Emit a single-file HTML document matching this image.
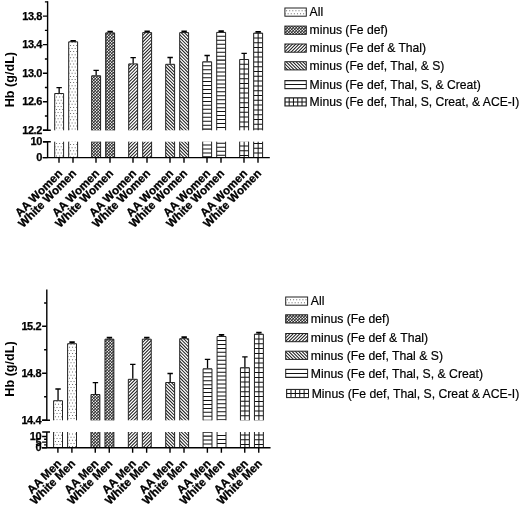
<!DOCTYPE html>
<html><head><meta charset="utf-8"><title>Hb chart</title>
<style>html,body{margin:0;padding:0;background:#fff}svg{display:block}</style></head>
<body><svg width="520" height="505" viewBox="0 0 520 505">
<rect width="520" height="505" fill="#fff"/>
<clipPath id="c1"><rect x="54.7" y="93.5" width="8.9" height="36.8"/></clipPath>
<path clip-path="url(#c1)" d="M49.85,90.4h1v1h-1zM52.95,90.4h1v1h-1zM56.05,90.4h1v1h-1zM59.15,90.4h1v1h-1zM62.25,90.4h1v1h-1zM65.35,90.4h1v1h-1zM51.4,93.5h1v1h-1zM54.5,93.5h1v1h-1zM57.6,93.5h1v1h-1zM60.7,93.5h1v1h-1zM63.8,93.5h1v1h-1zM49.85,96.6h1v1h-1zM52.95,96.6h1v1h-1zM56.05,96.6h1v1h-1zM59.15,96.6h1v1h-1zM62.25,96.6h1v1h-1zM65.35,96.6h1v1h-1zM51.4,99.7h1v1h-1zM54.5,99.7h1v1h-1zM57.6,99.7h1v1h-1zM60.7,99.7h1v1h-1zM63.8,99.7h1v1h-1zM49.85,102.8h1v1h-1zM52.95,102.8h1v1h-1zM56.05,102.8h1v1h-1zM59.15,102.8h1v1h-1zM62.25,102.8h1v1h-1zM65.35,102.8h1v1h-1zM51.4,105.9h1v1h-1zM54.5,105.9h1v1h-1zM57.6,105.9h1v1h-1zM60.7,105.9h1v1h-1zM63.8,105.9h1v1h-1zM49.85,109h1v1h-1zM52.95,109h1v1h-1zM56.05,109h1v1h-1zM59.15,109h1v1h-1zM62.25,109h1v1h-1zM65.35,109h1v1h-1zM51.4,112.1h1v1h-1zM54.5,112.1h1v1h-1zM57.6,112.1h1v1h-1zM60.7,112.1h1v1h-1zM63.8,112.1h1v1h-1zM49.85,115.2h1v1h-1zM52.95,115.2h1v1h-1zM56.05,115.2h1v1h-1zM59.15,115.2h1v1h-1zM62.25,115.2h1v1h-1zM65.35,115.2h1v1h-1zM51.4,118.3h1v1h-1zM54.5,118.3h1v1h-1zM57.6,118.3h1v1h-1zM60.7,118.3h1v1h-1zM63.8,118.3h1v1h-1zM49.85,121.4h1v1h-1zM52.95,121.4h1v1h-1zM56.05,121.4h1v1h-1zM59.15,121.4h1v1h-1zM62.25,121.4h1v1h-1zM65.35,121.4h1v1h-1zM51.4,124.5h1v1h-1zM54.5,124.5h1v1h-1zM57.6,124.5h1v1h-1zM60.7,124.5h1v1h-1zM63.8,124.5h1v1h-1zM49.85,127.6h1v1h-1zM52.95,127.6h1v1h-1zM56.05,127.6h1v1h-1zM59.15,127.6h1v1h-1zM62.25,127.6h1v1h-1zM65.35,127.6h1v1h-1zM51.4,130.7h1v1h-1zM54.5,130.7h1v1h-1zM57.6,130.7h1v1h-1zM60.7,130.7h1v1h-1zM63.8,130.7h1v1h-1z" fill="#6a6a6a"/>
<clipPath id="c2"><rect x="54.7" y="141.7" width="8.9" height="15.9"/></clipPath>
<path clip-path="url(#c2)" d="M49.85,136.9h1v1h-1zM52.95,136.9h1v1h-1zM56.05,136.9h1v1h-1zM59.15,136.9h1v1h-1zM62.25,136.9h1v1h-1zM65.35,136.9h1v1h-1zM51.4,140h1v1h-1zM54.5,140h1v1h-1zM57.6,140h1v1h-1zM60.7,140h1v1h-1zM63.8,140h1v1h-1zM49.85,143.1h1v1h-1zM52.95,143.1h1v1h-1zM56.05,143.1h1v1h-1zM59.15,143.1h1v1h-1zM62.25,143.1h1v1h-1zM65.35,143.1h1v1h-1zM51.4,146.2h1v1h-1zM54.5,146.2h1v1h-1zM57.6,146.2h1v1h-1zM60.7,146.2h1v1h-1zM63.8,146.2h1v1h-1zM49.85,149.3h1v1h-1zM52.95,149.3h1v1h-1zM56.05,149.3h1v1h-1zM59.15,149.3h1v1h-1zM62.25,149.3h1v1h-1zM65.35,149.3h1v1h-1zM51.4,152.4h1v1h-1zM54.5,152.4h1v1h-1zM57.6,152.4h1v1h-1zM60.7,152.4h1v1h-1zM63.8,152.4h1v1h-1zM49.85,155.5h1v1h-1zM52.95,155.5h1v1h-1zM56.05,155.5h1v1h-1zM59.15,155.5h1v1h-1zM62.25,155.5h1v1h-1zM65.35,155.5h1v1h-1zM51.4,158.6h1v1h-1zM54.5,158.6h1v1h-1zM57.6,158.6h1v1h-1zM60.7,158.6h1v1h-1zM63.8,158.6h1v1h-1z" fill="#6a6a6a"/>
<path d="M54.7,130.3 V93.5 H63.6 V130.3 M54.7,141.7 V157.6 M63.6,141.7 V157.6" stroke="#222" stroke-width="1" fill="none"/>
<path d="M59.15,93 V87.7 M56.45,87.7 H61.85" stroke="#000" stroke-width="1.3" fill="none"/>
<clipPath id="c3"><rect x="68.7" y="41.8" width="8.9" height="88.5"/></clipPath>
<path clip-path="url(#c3)" d="M63.85,38.7h1v1h-1zM66.95,38.7h1v1h-1zM70.05,38.7h1v1h-1zM73.15,38.7h1v1h-1zM76.25,38.7h1v1h-1zM79.35,38.7h1v1h-1zM65.4,41.8h1v1h-1zM68.5,41.8h1v1h-1zM71.6,41.8h1v1h-1zM74.7,41.8h1v1h-1zM77.8,41.8h1v1h-1zM63.85,44.9h1v1h-1zM66.95,44.9h1v1h-1zM70.05,44.9h1v1h-1zM73.15,44.9h1v1h-1zM76.25,44.9h1v1h-1zM79.35,44.9h1v1h-1zM65.4,48h1v1h-1zM68.5,48h1v1h-1zM71.6,48h1v1h-1zM74.7,48h1v1h-1zM77.8,48h1v1h-1zM63.85,51.1h1v1h-1zM66.95,51.1h1v1h-1zM70.05,51.1h1v1h-1zM73.15,51.1h1v1h-1zM76.25,51.1h1v1h-1zM79.35,51.1h1v1h-1zM65.4,54.2h1v1h-1zM68.5,54.2h1v1h-1zM71.6,54.2h1v1h-1zM74.7,54.2h1v1h-1zM77.8,54.2h1v1h-1zM63.85,57.3h1v1h-1zM66.95,57.3h1v1h-1zM70.05,57.3h1v1h-1zM73.15,57.3h1v1h-1zM76.25,57.3h1v1h-1zM79.35,57.3h1v1h-1zM65.4,60.4h1v1h-1zM68.5,60.4h1v1h-1zM71.6,60.4h1v1h-1zM74.7,60.4h1v1h-1zM77.8,60.4h1v1h-1zM63.85,63.5h1v1h-1zM66.95,63.5h1v1h-1zM70.05,63.5h1v1h-1zM73.15,63.5h1v1h-1zM76.25,63.5h1v1h-1zM79.35,63.5h1v1h-1zM65.4,66.6h1v1h-1zM68.5,66.6h1v1h-1zM71.6,66.6h1v1h-1zM74.7,66.6h1v1h-1zM77.8,66.6h1v1h-1zM63.85,69.7h1v1h-1zM66.95,69.7h1v1h-1zM70.05,69.7h1v1h-1zM73.15,69.7h1v1h-1zM76.25,69.7h1v1h-1zM79.35,69.7h1v1h-1zM65.4,72.8h1v1h-1zM68.5,72.8h1v1h-1zM71.6,72.8h1v1h-1zM74.7,72.8h1v1h-1zM77.8,72.8h1v1h-1zM63.85,75.9h1v1h-1zM66.95,75.9h1v1h-1zM70.05,75.9h1v1h-1zM73.15,75.9h1v1h-1zM76.25,75.9h1v1h-1zM79.35,75.9h1v1h-1zM65.4,79h1v1h-1zM68.5,79h1v1h-1zM71.6,79h1v1h-1zM74.7,79h1v1h-1zM77.8,79h1v1h-1zM63.85,82.1h1v1h-1zM66.95,82.1h1v1h-1zM70.05,82.1h1v1h-1zM73.15,82.1h1v1h-1zM76.25,82.1h1v1h-1zM79.35,82.1h1v1h-1zM65.4,85.2h1v1h-1zM68.5,85.2h1v1h-1zM71.6,85.2h1v1h-1zM74.7,85.2h1v1h-1zM77.8,85.2h1v1h-1zM63.85,88.3h1v1h-1zM66.95,88.3h1v1h-1zM70.05,88.3h1v1h-1zM73.15,88.3h1v1h-1zM76.25,88.3h1v1h-1zM79.35,88.3h1v1h-1zM65.4,91.4h1v1h-1zM68.5,91.4h1v1h-1zM71.6,91.4h1v1h-1zM74.7,91.4h1v1h-1zM77.8,91.4h1v1h-1zM63.85,94.5h1v1h-1zM66.95,94.5h1v1h-1zM70.05,94.5h1v1h-1zM73.15,94.5h1v1h-1zM76.25,94.5h1v1h-1zM79.35,94.5h1v1h-1zM65.4,97.6h1v1h-1zM68.5,97.6h1v1h-1zM71.6,97.6h1v1h-1zM74.7,97.6h1v1h-1zM77.8,97.6h1v1h-1zM63.85,100.7h1v1h-1zM66.95,100.7h1v1h-1zM70.05,100.7h1v1h-1zM73.15,100.7h1v1h-1zM76.25,100.7h1v1h-1zM79.35,100.7h1v1h-1zM65.4,103.8h1v1h-1zM68.5,103.8h1v1h-1zM71.6,103.8h1v1h-1zM74.7,103.8h1v1h-1zM77.8,103.8h1v1h-1zM63.85,106.9h1v1h-1zM66.95,106.9h1v1h-1zM70.05,106.9h1v1h-1zM73.15,106.9h1v1h-1zM76.25,106.9h1v1h-1zM79.35,106.9h1v1h-1zM65.4,110h1v1h-1zM68.5,110h1v1h-1zM71.6,110h1v1h-1zM74.7,110h1v1h-1zM77.8,110h1v1h-1zM63.85,113.1h1v1h-1zM66.95,113.1h1v1h-1zM70.05,113.1h1v1h-1zM73.15,113.1h1v1h-1zM76.25,113.1h1v1h-1zM79.35,113.1h1v1h-1zM65.4,116.2h1v1h-1zM68.5,116.2h1v1h-1zM71.6,116.2h1v1h-1zM74.7,116.2h1v1h-1zM77.8,116.2h1v1h-1zM63.85,119.3h1v1h-1zM66.95,119.3h1v1h-1zM70.05,119.3h1v1h-1zM73.15,119.3h1v1h-1zM76.25,119.3h1v1h-1zM79.35,119.3h1v1h-1zM65.4,122.4h1v1h-1zM68.5,122.4h1v1h-1zM71.6,122.4h1v1h-1zM74.7,122.4h1v1h-1zM77.8,122.4h1v1h-1zM63.85,125.5h1v1h-1zM66.95,125.5h1v1h-1zM70.05,125.5h1v1h-1zM73.15,125.5h1v1h-1zM76.25,125.5h1v1h-1zM79.35,125.5h1v1h-1zM65.4,128.6h1v1h-1zM68.5,128.6h1v1h-1zM71.6,128.6h1v1h-1zM74.7,128.6h1v1h-1zM77.8,128.6h1v1h-1zM63.85,131.7h1v1h-1zM66.95,131.7h1v1h-1zM70.05,131.7h1v1h-1zM73.15,131.7h1v1h-1zM76.25,131.7h1v1h-1zM79.35,131.7h1v1h-1z" fill="#6a6a6a"/>
<clipPath id="c4"><rect x="68.7" y="141.7" width="8.9" height="15.9"/></clipPath>
<path clip-path="url(#c4)" d="M63.85,137.9h1v1h-1zM66.95,137.9h1v1h-1zM70.05,137.9h1v1h-1zM73.15,137.9h1v1h-1zM76.25,137.9h1v1h-1zM79.35,137.9h1v1h-1zM65.4,141h1v1h-1zM68.5,141h1v1h-1zM71.6,141h1v1h-1zM74.7,141h1v1h-1zM77.8,141h1v1h-1zM63.85,144.1h1v1h-1zM66.95,144.1h1v1h-1zM70.05,144.1h1v1h-1zM73.15,144.1h1v1h-1zM76.25,144.1h1v1h-1zM79.35,144.1h1v1h-1zM65.4,147.2h1v1h-1zM68.5,147.2h1v1h-1zM71.6,147.2h1v1h-1zM74.7,147.2h1v1h-1zM77.8,147.2h1v1h-1zM63.85,150.3h1v1h-1zM66.95,150.3h1v1h-1zM70.05,150.3h1v1h-1zM73.15,150.3h1v1h-1zM76.25,150.3h1v1h-1zM79.35,150.3h1v1h-1zM65.4,153.4h1v1h-1zM68.5,153.4h1v1h-1zM71.6,153.4h1v1h-1zM74.7,153.4h1v1h-1zM77.8,153.4h1v1h-1zM63.85,156.5h1v1h-1zM66.95,156.5h1v1h-1zM70.05,156.5h1v1h-1zM73.15,156.5h1v1h-1zM76.25,156.5h1v1h-1zM79.35,156.5h1v1h-1zM65.4,159.6h1v1h-1zM68.5,159.6h1v1h-1zM71.6,159.6h1v1h-1zM74.7,159.6h1v1h-1zM77.8,159.6h1v1h-1z" fill="#6a6a6a"/>
<path d="M68.7,130.3 V41.8 H77.6 V130.3 M68.7,141.7 V157.6 M77.6,141.7 V157.6" stroke="#222" stroke-width="1" fill="none"/>
<path d="M73.15,41.3 V40.8 M70.45,40.8 H75.85" stroke="#000" stroke-width="1.7" fill="none"/>
<clipPath id="c5"><rect x="91.7" y="75.8" width="8.9" height="54.5"/></clipPath>
<rect x="91.7" y="75.8" width="8.9" height="54.5" fill="#0a0a0a"/>
<path clip-path="url(#c5)" d="M86.7,72.75L87.75,71.7L88.8,72.75L87.75,73.8zM89.7,72.75L90.75,71.7L91.8,72.75L90.75,73.8zM92.7,72.75L93.75,71.7L94.8,72.75L93.75,73.8zM95.7,72.75L96.75,71.7L97.8,72.75L96.75,73.8zM98.7,72.75L99.75,71.7L100.8,72.75L99.75,73.8zM101.7,72.75L102.75,71.7L103.8,72.75L102.75,73.8zM88.2,74.25L89.25,73.2L90.3,74.25L89.25,75.3zM91.2,74.25L92.25,73.2L93.3,74.25L92.25,75.3zM94.2,74.25L95.25,73.2L96.3,74.25L95.25,75.3zM97.2,74.25L98.25,73.2L99.3,74.25L98.25,75.3zM100.2,74.25L101.25,73.2L102.3,74.25L101.25,75.3zM86.7,75.75L87.75,74.7L88.8,75.75L87.75,76.8zM89.7,75.75L90.75,74.7L91.8,75.75L90.75,76.8zM92.7,75.75L93.75,74.7L94.8,75.75L93.75,76.8zM95.7,75.75L96.75,74.7L97.8,75.75L96.75,76.8zM98.7,75.75L99.75,74.7L100.8,75.75L99.75,76.8zM101.7,75.75L102.75,74.7L103.8,75.75L102.75,76.8zM88.2,77.25L89.25,76.2L90.3,77.25L89.25,78.3zM91.2,77.25L92.25,76.2L93.3,77.25L92.25,78.3zM94.2,77.25L95.25,76.2L96.3,77.25L95.25,78.3zM97.2,77.25L98.25,76.2L99.3,77.25L98.25,78.3zM100.2,77.25L101.25,76.2L102.3,77.25L101.25,78.3zM86.7,78.75L87.75,77.7L88.8,78.75L87.75,79.8zM89.7,78.75L90.75,77.7L91.8,78.75L90.75,79.8zM92.7,78.75L93.75,77.7L94.8,78.75L93.75,79.8zM95.7,78.75L96.75,77.7L97.8,78.75L96.75,79.8zM98.7,78.75L99.75,77.7L100.8,78.75L99.75,79.8zM101.7,78.75L102.75,77.7L103.8,78.75L102.75,79.8zM88.2,80.25L89.25,79.2L90.3,80.25L89.25,81.3zM91.2,80.25L92.25,79.2L93.3,80.25L92.25,81.3zM94.2,80.25L95.25,79.2L96.3,80.25L95.25,81.3zM97.2,80.25L98.25,79.2L99.3,80.25L98.25,81.3zM100.2,80.25L101.25,79.2L102.3,80.25L101.25,81.3zM86.7,81.75L87.75,80.7L88.8,81.75L87.75,82.8zM89.7,81.75L90.75,80.7L91.8,81.75L90.75,82.8zM92.7,81.75L93.75,80.7L94.8,81.75L93.75,82.8zM95.7,81.75L96.75,80.7L97.8,81.75L96.75,82.8zM98.7,81.75L99.75,80.7L100.8,81.75L99.75,82.8zM101.7,81.75L102.75,80.7L103.8,81.75L102.75,82.8zM88.2,83.25L89.25,82.2L90.3,83.25L89.25,84.3zM91.2,83.25L92.25,82.2L93.3,83.25L92.25,84.3zM94.2,83.25L95.25,82.2L96.3,83.25L95.25,84.3zM97.2,83.25L98.25,82.2L99.3,83.25L98.25,84.3zM100.2,83.25L101.25,82.2L102.3,83.25L101.25,84.3zM86.7,84.75L87.75,83.7L88.8,84.75L87.75,85.8zM89.7,84.75L90.75,83.7L91.8,84.75L90.75,85.8zM92.7,84.75L93.75,83.7L94.8,84.75L93.75,85.8zM95.7,84.75L96.75,83.7L97.8,84.75L96.75,85.8zM98.7,84.75L99.75,83.7L100.8,84.75L99.75,85.8zM101.7,84.75L102.75,83.7L103.8,84.75L102.75,85.8zM88.2,86.25L89.25,85.2L90.3,86.25L89.25,87.3zM91.2,86.25L92.25,85.2L93.3,86.25L92.25,87.3zM94.2,86.25L95.25,85.2L96.3,86.25L95.25,87.3zM97.2,86.25L98.25,85.2L99.3,86.25L98.25,87.3zM100.2,86.25L101.25,85.2L102.3,86.25L101.25,87.3zM86.7,87.75L87.75,86.7L88.8,87.75L87.75,88.8zM89.7,87.75L90.75,86.7L91.8,87.75L90.75,88.8zM92.7,87.75L93.75,86.7L94.8,87.75L93.75,88.8zM95.7,87.75L96.75,86.7L97.8,87.75L96.75,88.8zM98.7,87.75L99.75,86.7L100.8,87.75L99.75,88.8zM101.7,87.75L102.75,86.7L103.8,87.75L102.75,88.8zM88.2,89.25L89.25,88.2L90.3,89.25L89.25,90.3zM91.2,89.25L92.25,88.2L93.3,89.25L92.25,90.3zM94.2,89.25L95.25,88.2L96.3,89.25L95.25,90.3zM97.2,89.25L98.25,88.2L99.3,89.25L98.25,90.3zM100.2,89.25L101.25,88.2L102.3,89.25L101.25,90.3zM86.7,90.75L87.75,89.7L88.8,90.75L87.75,91.8zM89.7,90.75L90.75,89.7L91.8,90.75L90.75,91.8zM92.7,90.75L93.75,89.7L94.8,90.75L93.75,91.8zM95.7,90.75L96.75,89.7L97.8,90.75L96.75,91.8zM98.7,90.75L99.75,89.7L100.8,90.75L99.75,91.8zM101.7,90.75L102.75,89.7L103.8,90.75L102.75,91.8zM88.2,92.25L89.25,91.2L90.3,92.25L89.25,93.3zM91.2,92.25L92.25,91.2L93.3,92.25L92.25,93.3zM94.2,92.25L95.25,91.2L96.3,92.25L95.25,93.3zM97.2,92.25L98.25,91.2L99.3,92.25L98.25,93.3zM100.2,92.25L101.25,91.2L102.3,92.25L101.25,93.3zM86.7,93.75L87.75,92.7L88.8,93.75L87.75,94.8zM89.7,93.75L90.75,92.7L91.8,93.75L90.75,94.8zM92.7,93.75L93.75,92.7L94.8,93.75L93.75,94.8zM95.7,93.75L96.75,92.7L97.8,93.75L96.75,94.8zM98.7,93.75L99.75,92.7L100.8,93.75L99.75,94.8zM101.7,93.75L102.75,92.7L103.8,93.75L102.75,94.8zM88.2,95.25L89.25,94.2L90.3,95.25L89.25,96.3zM91.2,95.25L92.25,94.2L93.3,95.25L92.25,96.3zM94.2,95.25L95.25,94.2L96.3,95.25L95.25,96.3zM97.2,95.25L98.25,94.2L99.3,95.25L98.25,96.3zM100.2,95.25L101.25,94.2L102.3,95.25L101.25,96.3zM86.7,96.75L87.75,95.7L88.8,96.75L87.75,97.8zM89.7,96.75L90.75,95.7L91.8,96.75L90.75,97.8zM92.7,96.75L93.75,95.7L94.8,96.75L93.75,97.8zM95.7,96.75L96.75,95.7L97.8,96.75L96.75,97.8zM98.7,96.75L99.75,95.7L100.8,96.75L99.75,97.8zM101.7,96.75L102.75,95.7L103.8,96.75L102.75,97.8zM88.2,98.25L89.25,97.2L90.3,98.25L89.25,99.3zM91.2,98.25L92.25,97.2L93.3,98.25L92.25,99.3zM94.2,98.25L95.25,97.2L96.3,98.25L95.25,99.3zM97.2,98.25L98.25,97.2L99.3,98.25L98.25,99.3zM100.2,98.25L101.25,97.2L102.3,98.25L101.25,99.3zM86.7,99.75L87.75,98.7L88.8,99.75L87.75,100.8zM89.7,99.75L90.75,98.7L91.8,99.75L90.75,100.8zM92.7,99.75L93.75,98.7L94.8,99.75L93.75,100.8zM95.7,99.75L96.75,98.7L97.8,99.75L96.75,100.8zM98.7,99.75L99.75,98.7L100.8,99.75L99.75,100.8zM101.7,99.75L102.75,98.7L103.8,99.75L102.75,100.8zM88.2,101.25L89.25,100.2L90.3,101.25L89.25,102.3zM91.2,101.25L92.25,100.2L93.3,101.25L92.25,102.3zM94.2,101.25L95.25,100.2L96.3,101.25L95.25,102.3zM97.2,101.25L98.25,100.2L99.3,101.25L98.25,102.3zM100.2,101.25L101.25,100.2L102.3,101.25L101.25,102.3zM86.7,102.75L87.75,101.7L88.8,102.75L87.75,103.8zM89.7,102.75L90.75,101.7L91.8,102.75L90.75,103.8zM92.7,102.75L93.75,101.7L94.8,102.75L93.75,103.8zM95.7,102.75L96.75,101.7L97.8,102.75L96.75,103.8zM98.7,102.75L99.75,101.7L100.8,102.75L99.75,103.8zM101.7,102.75L102.75,101.7L103.8,102.75L102.75,103.8zM88.2,104.25L89.25,103.2L90.3,104.25L89.25,105.3zM91.2,104.25L92.25,103.2L93.3,104.25L92.25,105.3zM94.2,104.25L95.25,103.2L96.3,104.25L95.25,105.3zM97.2,104.25L98.25,103.2L99.3,104.25L98.25,105.3zM100.2,104.25L101.25,103.2L102.3,104.25L101.25,105.3zM86.7,105.75L87.75,104.7L88.8,105.75L87.75,106.8zM89.7,105.75L90.75,104.7L91.8,105.75L90.75,106.8zM92.7,105.75L93.75,104.7L94.8,105.75L93.75,106.8zM95.7,105.75L96.75,104.7L97.8,105.75L96.75,106.8zM98.7,105.75L99.75,104.7L100.8,105.75L99.75,106.8zM101.7,105.75L102.75,104.7L103.8,105.75L102.75,106.8zM88.2,107.25L89.25,106.2L90.3,107.25L89.25,108.3zM91.2,107.25L92.25,106.2L93.3,107.25L92.25,108.3zM94.2,107.25L95.25,106.2L96.3,107.25L95.25,108.3zM97.2,107.25L98.25,106.2L99.3,107.25L98.25,108.3zM100.2,107.25L101.25,106.2L102.3,107.25L101.25,108.3zM86.7,108.75L87.75,107.7L88.8,108.75L87.75,109.8zM89.7,108.75L90.75,107.7L91.8,108.75L90.75,109.8zM92.7,108.75L93.75,107.7L94.8,108.75L93.75,109.8zM95.7,108.75L96.75,107.7L97.8,108.75L96.75,109.8zM98.7,108.75L99.75,107.7L100.8,108.75L99.75,109.8zM101.7,108.75L102.75,107.7L103.8,108.75L102.75,109.8zM88.2,110.25L89.25,109.2L90.3,110.25L89.25,111.3zM91.2,110.25L92.25,109.2L93.3,110.25L92.25,111.3zM94.2,110.25L95.25,109.2L96.3,110.25L95.25,111.3zM97.2,110.25L98.25,109.2L99.3,110.25L98.25,111.3zM100.2,110.25L101.25,109.2L102.3,110.25L101.25,111.3zM86.7,111.75L87.75,110.7L88.8,111.75L87.75,112.8zM89.7,111.75L90.75,110.7L91.8,111.75L90.75,112.8zM92.7,111.75L93.75,110.7L94.8,111.75L93.75,112.8zM95.7,111.75L96.75,110.7L97.8,111.75L96.75,112.8zM98.7,111.75L99.75,110.7L100.8,111.75L99.75,112.8zM101.7,111.75L102.75,110.7L103.8,111.75L102.75,112.8zM88.2,113.25L89.25,112.2L90.3,113.25L89.25,114.3zM91.2,113.25L92.25,112.2L93.3,113.25L92.25,114.3zM94.2,113.25L95.25,112.2L96.3,113.25L95.25,114.3zM97.2,113.25L98.25,112.2L99.3,113.25L98.25,114.3zM100.2,113.25L101.25,112.2L102.3,113.25L101.25,114.3zM86.7,114.75L87.75,113.7L88.8,114.75L87.75,115.8zM89.7,114.75L90.75,113.7L91.8,114.75L90.75,115.8zM92.7,114.75L93.75,113.7L94.8,114.75L93.75,115.8zM95.7,114.75L96.75,113.7L97.8,114.75L96.75,115.8zM98.7,114.75L99.75,113.7L100.8,114.75L99.75,115.8zM101.7,114.75L102.75,113.7L103.8,114.75L102.75,115.8zM88.2,116.25L89.25,115.2L90.3,116.25L89.25,117.3zM91.2,116.25L92.25,115.2L93.3,116.25L92.25,117.3zM94.2,116.25L95.25,115.2L96.3,116.25L95.25,117.3zM97.2,116.25L98.25,115.2L99.3,116.25L98.25,117.3zM100.2,116.25L101.25,115.2L102.3,116.25L101.25,117.3zM86.7,117.75L87.75,116.7L88.8,117.75L87.75,118.8zM89.7,117.75L90.75,116.7L91.8,117.75L90.75,118.8zM92.7,117.75L93.75,116.7L94.8,117.75L93.75,118.8zM95.7,117.75L96.75,116.7L97.8,117.75L96.75,118.8zM98.7,117.75L99.75,116.7L100.8,117.75L99.75,118.8zM101.7,117.75L102.75,116.7L103.8,117.75L102.75,118.8zM88.2,119.25L89.25,118.2L90.3,119.25L89.25,120.3zM91.2,119.25L92.25,118.2L93.3,119.25L92.25,120.3zM94.2,119.25L95.25,118.2L96.3,119.25L95.25,120.3zM97.2,119.25L98.25,118.2L99.3,119.25L98.25,120.3zM100.2,119.25L101.25,118.2L102.3,119.25L101.25,120.3zM86.7,120.75L87.75,119.7L88.8,120.75L87.75,121.8zM89.7,120.75L90.75,119.7L91.8,120.75L90.75,121.8zM92.7,120.75L93.75,119.7L94.8,120.75L93.75,121.8zM95.7,120.75L96.75,119.7L97.8,120.75L96.75,121.8zM98.7,120.75L99.75,119.7L100.8,120.75L99.75,121.8zM101.7,120.75L102.75,119.7L103.8,120.75L102.75,121.8zM88.2,122.25L89.25,121.2L90.3,122.25L89.25,123.3zM91.2,122.25L92.25,121.2L93.3,122.25L92.25,123.3zM94.2,122.25L95.25,121.2L96.3,122.25L95.25,123.3zM97.2,122.25L98.25,121.2L99.3,122.25L98.25,123.3zM100.2,122.25L101.25,121.2L102.3,122.25L101.25,123.3zM86.7,123.75L87.75,122.7L88.8,123.75L87.75,124.8zM89.7,123.75L90.75,122.7L91.8,123.75L90.75,124.8zM92.7,123.75L93.75,122.7L94.8,123.75L93.75,124.8zM95.7,123.75L96.75,122.7L97.8,123.75L96.75,124.8zM98.7,123.75L99.75,122.7L100.8,123.75L99.75,124.8zM101.7,123.75L102.75,122.7L103.8,123.75L102.75,124.8zM88.2,125.25L89.25,124.2L90.3,125.25L89.25,126.3zM91.2,125.25L92.25,124.2L93.3,125.25L92.25,126.3zM94.2,125.25L95.25,124.2L96.3,125.25L95.25,126.3zM97.2,125.25L98.25,124.2L99.3,125.25L98.25,126.3zM100.2,125.25L101.25,124.2L102.3,125.25L101.25,126.3zM86.7,126.75L87.75,125.7L88.8,126.75L87.75,127.8zM89.7,126.75L90.75,125.7L91.8,126.75L90.75,127.8zM92.7,126.75L93.75,125.7L94.8,126.75L93.75,127.8zM95.7,126.75L96.75,125.7L97.8,126.75L96.75,127.8zM98.7,126.75L99.75,125.7L100.8,126.75L99.75,127.8zM101.7,126.75L102.75,125.7L103.8,126.75L102.75,127.8zM88.2,128.25L89.25,127.2L90.3,128.25L89.25,129.3zM91.2,128.25L92.25,127.2L93.3,128.25L92.25,129.3zM94.2,128.25L95.25,127.2L96.3,128.25L95.25,129.3zM97.2,128.25L98.25,127.2L99.3,128.25L98.25,129.3zM100.2,128.25L101.25,127.2L102.3,128.25L101.25,129.3zM86.7,129.75L87.75,128.7L88.8,129.75L87.75,130.8zM89.7,129.75L90.75,128.7L91.8,129.75L90.75,130.8zM92.7,129.75L93.75,128.7L94.8,129.75L93.75,130.8zM95.7,129.75L96.75,128.7L97.8,129.75L96.75,130.8zM98.7,129.75L99.75,128.7L100.8,129.75L99.75,130.8zM101.7,129.75L102.75,128.7L103.8,129.75L102.75,130.8zM88.2,131.25L89.25,130.2L90.3,131.25L89.25,132.3zM91.2,131.25L92.25,130.2L93.3,131.25L92.25,132.3zM94.2,131.25L95.25,130.2L96.3,131.25L95.25,132.3zM97.2,131.25L98.25,130.2L99.3,131.25L98.25,132.3zM100.2,131.25L101.25,130.2L102.3,131.25L101.25,132.3zM86.7,132.75L87.75,131.7L88.8,132.75L87.75,133.8zM89.7,132.75L90.75,131.7L91.8,132.75L90.75,133.8zM92.7,132.75L93.75,131.7L94.8,132.75L93.75,133.8zM95.7,132.75L96.75,131.7L97.8,132.75L96.75,133.8zM98.7,132.75L99.75,131.7L100.8,132.75L99.75,133.8zM101.7,132.75L102.75,131.7L103.8,132.75L102.75,133.8z" fill="#fff"/>
<clipPath id="c6"><rect x="91.7" y="141.7" width="8.9" height="15.9"/></clipPath>
<rect x="91.7" y="141.7" width="8.9" height="15.9" fill="#0a0a0a"/>
<path clip-path="url(#c6)" d="M86.7,135.75L87.75,134.7L88.8,135.75L87.75,136.8zM89.7,135.75L90.75,134.7L91.8,135.75L90.75,136.8zM92.7,135.75L93.75,134.7L94.8,135.75L93.75,136.8zM95.7,135.75L96.75,134.7L97.8,135.75L96.75,136.8zM98.7,135.75L99.75,134.7L100.8,135.75L99.75,136.8zM101.7,135.75L102.75,134.7L103.8,135.75L102.75,136.8zM88.2,137.25L89.25,136.2L90.3,137.25L89.25,138.3zM91.2,137.25L92.25,136.2L93.3,137.25L92.25,138.3zM94.2,137.25L95.25,136.2L96.3,137.25L95.25,138.3zM97.2,137.25L98.25,136.2L99.3,137.25L98.25,138.3zM100.2,137.25L101.25,136.2L102.3,137.25L101.25,138.3zM86.7,138.75L87.75,137.7L88.8,138.75L87.75,139.8zM89.7,138.75L90.75,137.7L91.8,138.75L90.75,139.8zM92.7,138.75L93.75,137.7L94.8,138.75L93.75,139.8zM95.7,138.75L96.75,137.7L97.8,138.75L96.75,139.8zM98.7,138.75L99.75,137.7L100.8,138.75L99.75,139.8zM101.7,138.75L102.75,137.7L103.8,138.75L102.75,139.8zM88.2,140.25L89.25,139.2L90.3,140.25L89.25,141.3zM91.2,140.25L92.25,139.2L93.3,140.25L92.25,141.3zM94.2,140.25L95.25,139.2L96.3,140.25L95.25,141.3zM97.2,140.25L98.25,139.2L99.3,140.25L98.25,141.3zM100.2,140.25L101.25,139.2L102.3,140.25L101.25,141.3zM86.7,141.75L87.75,140.7L88.8,141.75L87.75,142.8zM89.7,141.75L90.75,140.7L91.8,141.75L90.75,142.8zM92.7,141.75L93.75,140.7L94.8,141.75L93.75,142.8zM95.7,141.75L96.75,140.7L97.8,141.75L96.75,142.8zM98.7,141.75L99.75,140.7L100.8,141.75L99.75,142.8zM101.7,141.75L102.75,140.7L103.8,141.75L102.75,142.8zM88.2,143.25L89.25,142.2L90.3,143.25L89.25,144.3zM91.2,143.25L92.25,142.2L93.3,143.25L92.25,144.3zM94.2,143.25L95.25,142.2L96.3,143.25L95.25,144.3zM97.2,143.25L98.25,142.2L99.3,143.25L98.25,144.3zM100.2,143.25L101.25,142.2L102.3,143.25L101.25,144.3zM86.7,144.75L87.75,143.7L88.8,144.75L87.75,145.8zM89.7,144.75L90.75,143.7L91.8,144.75L90.75,145.8zM92.7,144.75L93.75,143.7L94.8,144.75L93.75,145.8zM95.7,144.75L96.75,143.7L97.8,144.75L96.75,145.8zM98.7,144.75L99.75,143.7L100.8,144.75L99.75,145.8zM101.7,144.75L102.75,143.7L103.8,144.75L102.75,145.8zM88.2,146.25L89.25,145.2L90.3,146.25L89.25,147.3zM91.2,146.25L92.25,145.2L93.3,146.25L92.25,147.3zM94.2,146.25L95.25,145.2L96.3,146.25L95.25,147.3zM97.2,146.25L98.25,145.2L99.3,146.25L98.25,147.3zM100.2,146.25L101.25,145.2L102.3,146.25L101.25,147.3zM86.7,147.75L87.75,146.7L88.8,147.75L87.75,148.8zM89.7,147.75L90.75,146.7L91.8,147.75L90.75,148.8zM92.7,147.75L93.75,146.7L94.8,147.75L93.75,148.8zM95.7,147.75L96.75,146.7L97.8,147.75L96.75,148.8zM98.7,147.75L99.75,146.7L100.8,147.75L99.75,148.8zM101.7,147.75L102.75,146.7L103.8,147.75L102.75,148.8zM88.2,149.25L89.25,148.2L90.3,149.25L89.25,150.3zM91.2,149.25L92.25,148.2L93.3,149.25L92.25,150.3zM94.2,149.25L95.25,148.2L96.3,149.25L95.25,150.3zM97.2,149.25L98.25,148.2L99.3,149.25L98.25,150.3zM100.2,149.25L101.25,148.2L102.3,149.25L101.25,150.3zM86.7,150.75L87.75,149.7L88.8,150.75L87.75,151.8zM89.7,150.75L90.75,149.7L91.8,150.75L90.75,151.8zM92.7,150.75L93.75,149.7L94.8,150.75L93.75,151.8zM95.7,150.75L96.75,149.7L97.8,150.75L96.75,151.8zM98.7,150.75L99.75,149.7L100.8,150.75L99.75,151.8zM101.7,150.75L102.75,149.7L103.8,150.75L102.75,151.8zM88.2,152.25L89.25,151.2L90.3,152.25L89.25,153.3zM91.2,152.25L92.25,151.2L93.3,152.25L92.25,153.3zM94.2,152.25L95.25,151.2L96.3,152.25L95.25,153.3zM97.2,152.25L98.25,151.2L99.3,152.25L98.25,153.3zM100.2,152.25L101.25,151.2L102.3,152.25L101.25,153.3zM86.7,153.75L87.75,152.7L88.8,153.75L87.75,154.8zM89.7,153.75L90.75,152.7L91.8,153.75L90.75,154.8zM92.7,153.75L93.75,152.7L94.8,153.75L93.75,154.8zM95.7,153.75L96.75,152.7L97.8,153.75L96.75,154.8zM98.7,153.75L99.75,152.7L100.8,153.75L99.75,154.8zM101.7,153.75L102.75,152.7L103.8,153.75L102.75,154.8zM88.2,155.25L89.25,154.2L90.3,155.25L89.25,156.3zM91.2,155.25L92.25,154.2L93.3,155.25L92.25,156.3zM94.2,155.25L95.25,154.2L96.3,155.25L95.25,156.3zM97.2,155.25L98.25,154.2L99.3,155.25L98.25,156.3zM100.2,155.25L101.25,154.2L102.3,155.25L101.25,156.3zM86.7,156.75L87.75,155.7L88.8,156.75L87.75,157.8zM89.7,156.75L90.75,155.7L91.8,156.75L90.75,157.8zM92.7,156.75L93.75,155.7L94.8,156.75L93.75,157.8zM95.7,156.75L96.75,155.7L97.8,156.75L96.75,157.8zM98.7,156.75L99.75,155.7L100.8,156.75L99.75,157.8zM101.7,156.75L102.75,155.7L103.8,156.75L102.75,157.8zM88.2,158.25L89.25,157.2L90.3,158.25L89.25,159.3zM91.2,158.25L92.25,157.2L93.3,158.25L92.25,159.3zM94.2,158.25L95.25,157.2L96.3,158.25L95.25,159.3zM97.2,158.25L98.25,157.2L99.3,158.25L98.25,159.3zM100.2,158.25L101.25,157.2L102.3,158.25L101.25,159.3zM86.7,159.75L87.75,158.7L88.8,159.75L87.75,160.8zM89.7,159.75L90.75,158.7L91.8,159.75L90.75,160.8zM92.7,159.75L93.75,158.7L94.8,159.75L93.75,160.8zM95.7,159.75L96.75,158.7L97.8,159.75L96.75,160.8zM98.7,159.75L99.75,158.7L100.8,159.75L99.75,160.8zM101.7,159.75L102.75,158.7L103.8,159.75L102.75,160.8z" fill="#fff"/>
<path d="M91.7,130.3 V75.8 H100.6 V130.3 M91.7,141.7 V157.6 M100.6,141.7 V157.6" stroke="#222" stroke-width="1" fill="none"/>
<path d="M96.15,75.3 V70.4 M93.45,70.4 H98.85" stroke="#000" stroke-width="1.3" fill="none"/>
<clipPath id="c7"><rect x="105.7" y="32.9" width="8.9" height="97.4"/></clipPath>
<rect x="105.7" y="32.9" width="8.9" height="97.4" fill="#0a0a0a"/>
<path clip-path="url(#c7)" d="M98.7,27.75L99.75,26.7L100.8,27.75L99.75,28.8zM101.7,27.75L102.75,26.7L103.8,27.75L102.75,28.8zM104.7,27.75L105.75,26.7L106.8,27.75L105.75,28.8zM107.7,27.75L108.75,26.7L109.8,27.75L108.75,28.8zM110.7,27.75L111.75,26.7L112.8,27.75L111.75,28.8zM113.7,27.75L114.75,26.7L115.8,27.75L114.75,28.8zM100.2,29.25L101.25,28.2L102.3,29.25L101.25,30.3zM103.2,29.25L104.25,28.2L105.3,29.25L104.25,30.3zM106.2,29.25L107.25,28.2L108.3,29.25L107.25,30.3zM109.2,29.25L110.25,28.2L111.3,29.25L110.25,30.3zM112.2,29.25L113.25,28.2L114.3,29.25L113.25,30.3zM115.2,29.25L116.25,28.2L117.3,29.25L116.25,30.3zM98.7,30.75L99.75,29.7L100.8,30.75L99.75,31.8zM101.7,30.75L102.75,29.7L103.8,30.75L102.75,31.8zM104.7,30.75L105.75,29.7L106.8,30.75L105.75,31.8zM107.7,30.75L108.75,29.7L109.8,30.75L108.75,31.8zM110.7,30.75L111.75,29.7L112.8,30.75L111.75,31.8zM113.7,30.75L114.75,29.7L115.8,30.75L114.75,31.8zM100.2,32.25L101.25,31.2L102.3,32.25L101.25,33.3zM103.2,32.25L104.25,31.2L105.3,32.25L104.25,33.3zM106.2,32.25L107.25,31.2L108.3,32.25L107.25,33.3zM109.2,32.25L110.25,31.2L111.3,32.25L110.25,33.3zM112.2,32.25L113.25,31.2L114.3,32.25L113.25,33.3zM115.2,32.25L116.25,31.2L117.3,32.25L116.25,33.3zM98.7,33.75L99.75,32.7L100.8,33.75L99.75,34.8zM101.7,33.75L102.75,32.7L103.8,33.75L102.75,34.8zM104.7,33.75L105.75,32.7L106.8,33.75L105.75,34.8zM107.7,33.75L108.75,32.7L109.8,33.75L108.75,34.8zM110.7,33.75L111.75,32.7L112.8,33.75L111.75,34.8zM113.7,33.75L114.75,32.7L115.8,33.75L114.75,34.8zM100.2,35.25L101.25,34.2L102.3,35.25L101.25,36.3zM103.2,35.25L104.25,34.2L105.3,35.25L104.25,36.3zM106.2,35.25L107.25,34.2L108.3,35.25L107.25,36.3zM109.2,35.25L110.25,34.2L111.3,35.25L110.25,36.3zM112.2,35.25L113.25,34.2L114.3,35.25L113.25,36.3zM115.2,35.25L116.25,34.2L117.3,35.25L116.25,36.3zM98.7,36.75L99.75,35.7L100.8,36.75L99.75,37.8zM101.7,36.75L102.75,35.7L103.8,36.75L102.75,37.8zM104.7,36.75L105.75,35.7L106.8,36.75L105.75,37.8zM107.7,36.75L108.75,35.7L109.8,36.75L108.75,37.8zM110.7,36.75L111.75,35.7L112.8,36.75L111.75,37.8zM113.7,36.75L114.75,35.7L115.8,36.75L114.75,37.8zM100.2,38.25L101.25,37.2L102.3,38.25L101.25,39.3zM103.2,38.25L104.25,37.2L105.3,38.25L104.25,39.3zM106.2,38.25L107.25,37.2L108.3,38.25L107.25,39.3zM109.2,38.25L110.25,37.2L111.3,38.25L110.25,39.3zM112.2,38.25L113.25,37.2L114.3,38.25L113.25,39.3zM115.2,38.25L116.25,37.2L117.3,38.25L116.25,39.3zM98.7,39.75L99.75,38.7L100.8,39.75L99.75,40.8zM101.7,39.75L102.75,38.7L103.8,39.75L102.75,40.8zM104.7,39.75L105.75,38.7L106.8,39.75L105.75,40.8zM107.7,39.75L108.75,38.7L109.8,39.75L108.75,40.8zM110.7,39.75L111.75,38.7L112.8,39.75L111.75,40.8zM113.7,39.75L114.75,38.7L115.8,39.75L114.75,40.8zM100.2,41.25L101.25,40.2L102.3,41.25L101.25,42.3zM103.2,41.25L104.25,40.2L105.3,41.25L104.25,42.3zM106.2,41.25L107.25,40.2L108.3,41.25L107.25,42.3zM109.2,41.25L110.25,40.2L111.3,41.25L110.25,42.3zM112.2,41.25L113.25,40.2L114.3,41.25L113.25,42.3zM115.2,41.25L116.25,40.2L117.3,41.25L116.25,42.3zM98.7,42.75L99.75,41.7L100.8,42.75L99.75,43.8zM101.7,42.75L102.75,41.7L103.8,42.75L102.75,43.8zM104.7,42.75L105.75,41.7L106.8,42.75L105.75,43.8zM107.7,42.75L108.75,41.7L109.8,42.75L108.75,43.8zM110.7,42.75L111.75,41.7L112.8,42.75L111.75,43.8zM113.7,42.75L114.75,41.7L115.8,42.75L114.75,43.8zM100.2,44.25L101.25,43.2L102.3,44.25L101.25,45.3zM103.2,44.25L104.25,43.2L105.3,44.25L104.25,45.3zM106.2,44.25L107.25,43.2L108.3,44.25L107.25,45.3zM109.2,44.25L110.25,43.2L111.3,44.25L110.25,45.3zM112.2,44.25L113.25,43.2L114.3,44.25L113.25,45.3zM115.2,44.25L116.25,43.2L117.3,44.25L116.25,45.3zM98.7,45.75L99.75,44.7L100.8,45.75L99.75,46.8zM101.7,45.75L102.75,44.7L103.8,45.75L102.75,46.8zM104.7,45.75L105.75,44.7L106.8,45.75L105.75,46.8zM107.7,45.75L108.75,44.7L109.8,45.75L108.75,46.8zM110.7,45.75L111.75,44.7L112.8,45.75L111.75,46.8zM113.7,45.75L114.75,44.7L115.8,45.75L114.75,46.8zM100.2,47.25L101.25,46.2L102.3,47.25L101.25,48.3zM103.2,47.25L104.25,46.2L105.3,47.25L104.25,48.3zM106.2,47.25L107.25,46.2L108.3,47.25L107.25,48.3zM109.2,47.25L110.25,46.2L111.3,47.25L110.25,48.3zM112.2,47.25L113.25,46.2L114.3,47.25L113.25,48.3zM115.2,47.25L116.25,46.2L117.3,47.25L116.25,48.3zM98.7,48.75L99.75,47.7L100.8,48.75L99.75,49.8zM101.7,48.75L102.75,47.7L103.8,48.75L102.75,49.8zM104.7,48.75L105.75,47.7L106.8,48.75L105.75,49.8zM107.7,48.75L108.75,47.7L109.8,48.75L108.75,49.8zM110.7,48.75L111.75,47.7L112.8,48.75L111.75,49.8zM113.7,48.75L114.75,47.7L115.8,48.75L114.75,49.8zM100.2,50.25L101.25,49.2L102.3,50.25L101.25,51.3zM103.2,50.25L104.25,49.2L105.3,50.25L104.25,51.3zM106.2,50.25L107.25,49.2L108.3,50.25L107.25,51.3zM109.2,50.25L110.25,49.2L111.3,50.25L110.25,51.3zM112.2,50.25L113.25,49.2L114.3,50.25L113.25,51.3zM115.2,50.25L116.25,49.2L117.3,50.25L116.25,51.3zM98.7,51.75L99.75,50.7L100.8,51.75L99.75,52.8zM101.7,51.75L102.75,50.7L103.8,51.75L102.75,52.8zM104.7,51.75L105.75,50.7L106.8,51.75L105.75,52.8zM107.7,51.75L108.75,50.7L109.8,51.75L108.75,52.8zM110.7,51.75L111.75,50.7L112.8,51.75L111.75,52.8zM113.7,51.75L114.75,50.7L115.8,51.75L114.75,52.8zM100.2,53.25L101.25,52.2L102.3,53.25L101.25,54.3zM103.2,53.25L104.25,52.2L105.3,53.25L104.25,54.3zM106.2,53.25L107.25,52.2L108.3,53.25L107.25,54.3zM109.2,53.25L110.25,52.2L111.3,53.25L110.25,54.3zM112.2,53.25L113.25,52.2L114.3,53.25L113.25,54.3zM115.2,53.25L116.25,52.2L117.3,53.25L116.25,54.3zM98.7,54.75L99.75,53.7L100.8,54.75L99.75,55.8zM101.7,54.75L102.75,53.7L103.8,54.75L102.75,55.8zM104.7,54.75L105.75,53.7L106.8,54.75L105.75,55.8zM107.7,54.75L108.75,53.7L109.8,54.75L108.75,55.8zM110.7,54.75L111.75,53.7L112.8,54.75L111.75,55.8zM113.7,54.75L114.75,53.7L115.8,54.75L114.75,55.8zM100.2,56.25L101.25,55.2L102.3,56.25L101.25,57.3zM103.2,56.25L104.25,55.2L105.3,56.25L104.25,57.3zM106.2,56.25L107.25,55.2L108.3,56.25L107.25,57.3zM109.2,56.25L110.25,55.2L111.3,56.25L110.25,57.3zM112.2,56.25L113.25,55.2L114.3,56.25L113.25,57.3zM115.2,56.25L116.25,55.2L117.3,56.25L116.25,57.3zM98.7,57.75L99.75,56.7L100.8,57.75L99.75,58.8zM101.7,57.75L102.75,56.7L103.8,57.75L102.75,58.8zM104.7,57.75L105.75,56.7L106.8,57.75L105.75,58.8zM107.7,57.75L108.75,56.7L109.8,57.75L108.75,58.8zM110.7,57.75L111.75,56.7L112.8,57.75L111.75,58.8zM113.7,57.75L114.75,56.7L115.8,57.75L114.75,58.8zM100.2,59.25L101.25,58.2L102.3,59.25L101.25,60.3zM103.2,59.25L104.25,58.2L105.3,59.25L104.25,60.3zM106.2,59.25L107.25,58.2L108.3,59.25L107.25,60.3zM109.2,59.25L110.25,58.2L111.3,59.25L110.25,60.3zM112.2,59.25L113.25,58.2L114.3,59.25L113.25,60.3zM115.2,59.25L116.25,58.2L117.3,59.25L116.25,60.3zM98.7,60.75L99.75,59.7L100.8,60.75L99.75,61.8zM101.7,60.75L102.75,59.7L103.8,60.75L102.75,61.8zM104.7,60.75L105.75,59.7L106.8,60.75L105.75,61.8zM107.7,60.75L108.75,59.7L109.8,60.75L108.75,61.8zM110.7,60.75L111.75,59.7L112.8,60.75L111.75,61.8zM113.7,60.75L114.75,59.7L115.8,60.75L114.75,61.8zM100.2,62.25L101.25,61.2L102.3,62.25L101.25,63.3zM103.2,62.25L104.25,61.2L105.3,62.25L104.25,63.3zM106.2,62.25L107.25,61.2L108.3,62.25L107.25,63.3zM109.2,62.25L110.25,61.2L111.3,62.25L110.25,63.3zM112.2,62.25L113.25,61.2L114.3,62.25L113.25,63.3zM115.2,62.25L116.25,61.2L117.3,62.25L116.25,63.3zM98.7,63.75L99.75,62.7L100.8,63.75L99.75,64.8zM101.7,63.75L102.75,62.7L103.8,63.75L102.75,64.8zM104.7,63.75L105.75,62.7L106.8,63.75L105.75,64.8zM107.7,63.75L108.75,62.7L109.8,63.75L108.75,64.8zM110.7,63.75L111.75,62.7L112.8,63.75L111.75,64.8zM113.7,63.75L114.75,62.7L115.8,63.75L114.75,64.8zM100.2,65.25L101.25,64.2L102.3,65.25L101.25,66.3zM103.2,65.25L104.25,64.2L105.3,65.25L104.25,66.3zM106.2,65.25L107.25,64.2L108.3,65.25L107.25,66.3zM109.2,65.25L110.25,64.2L111.3,65.25L110.25,66.3zM112.2,65.25L113.25,64.2L114.3,65.25L113.25,66.3zM115.2,65.25L116.25,64.2L117.3,65.25L116.25,66.3zM98.7,66.75L99.75,65.7L100.8,66.75L99.75,67.8zM101.7,66.75L102.75,65.7L103.8,66.75L102.75,67.8zM104.7,66.75L105.75,65.7L106.8,66.75L105.75,67.8zM107.7,66.75L108.75,65.7L109.8,66.75L108.75,67.8zM110.7,66.75L111.75,65.7L112.8,66.75L111.75,67.8zM113.7,66.75L114.75,65.7L115.8,66.75L114.75,67.8zM100.2,68.25L101.25,67.2L102.3,68.25L101.25,69.3zM103.2,68.25L104.25,67.2L105.3,68.25L104.25,69.3zM106.2,68.25L107.25,67.2L108.3,68.25L107.25,69.3zM109.2,68.25L110.25,67.2L111.3,68.25L110.25,69.3zM112.2,68.25L113.25,67.2L114.3,68.25L113.25,69.3zM115.2,68.25L116.25,67.2L117.3,68.25L116.25,69.3zM98.7,69.75L99.75,68.7L100.8,69.75L99.75,70.8zM101.7,69.75L102.75,68.7L103.8,69.75L102.75,70.8zM104.7,69.75L105.75,68.7L106.8,69.75L105.75,70.8zM107.7,69.75L108.75,68.7L109.8,69.75L108.75,70.8zM110.7,69.75L111.75,68.7L112.8,69.75L111.75,70.8zM113.7,69.75L114.75,68.7L115.8,69.75L114.75,70.8zM100.2,71.25L101.25,70.2L102.3,71.25L101.25,72.3zM103.2,71.25L104.25,70.2L105.3,71.25L104.25,72.3zM106.2,71.25L107.25,70.2L108.3,71.25L107.25,72.3zM109.2,71.25L110.25,70.2L111.3,71.25L110.25,72.3zM112.2,71.25L113.25,70.2L114.3,71.25L113.25,72.3zM115.2,71.25L116.25,70.2L117.3,71.25L116.25,72.3zM98.7,72.75L99.75,71.7L100.8,72.75L99.75,73.8zM101.7,72.75L102.75,71.7L103.8,72.75L102.75,73.8zM104.7,72.75L105.75,71.7L106.8,72.75L105.75,73.8zM107.7,72.75L108.75,71.7L109.8,72.75L108.75,73.8zM110.7,72.75L111.75,71.7L112.8,72.75L111.75,73.8zM113.7,72.75L114.75,71.7L115.8,72.75L114.75,73.8zM100.2,74.25L101.25,73.2L102.3,74.25L101.25,75.3zM103.2,74.25L104.25,73.2L105.3,74.25L104.25,75.3zM106.2,74.25L107.25,73.2L108.3,74.25L107.25,75.3zM109.2,74.25L110.25,73.2L111.3,74.25L110.25,75.3zM112.2,74.25L113.25,73.2L114.3,74.25L113.25,75.3zM115.2,74.25L116.25,73.2L117.3,74.25L116.25,75.3zM98.7,75.75L99.75,74.7L100.8,75.75L99.75,76.8zM101.7,75.75L102.75,74.7L103.8,75.75L102.75,76.8zM104.7,75.75L105.75,74.7L106.8,75.75L105.75,76.8zM107.7,75.75L108.75,74.7L109.8,75.75L108.75,76.8zM110.7,75.75L111.75,74.7L112.8,75.75L111.75,76.8zM113.7,75.75L114.75,74.7L115.8,75.75L114.75,76.8zM100.2,77.25L101.25,76.2L102.3,77.25L101.25,78.3zM103.2,77.25L104.25,76.2L105.3,77.25L104.25,78.3zM106.2,77.25L107.25,76.2L108.3,77.25L107.25,78.3zM109.2,77.25L110.25,76.2L111.3,77.25L110.25,78.3zM112.2,77.25L113.25,76.2L114.3,77.25L113.25,78.3zM115.2,77.25L116.25,76.2L117.3,77.25L116.25,78.3zM98.7,78.75L99.75,77.7L100.8,78.75L99.75,79.8zM101.7,78.75L102.75,77.7L103.8,78.75L102.75,79.8zM104.7,78.75L105.75,77.7L106.8,78.75L105.75,79.8zM107.7,78.75L108.75,77.7L109.8,78.75L108.75,79.8zM110.7,78.75L111.75,77.7L112.8,78.75L111.75,79.8zM113.7,78.75L114.75,77.7L115.8,78.75L114.75,79.8zM100.2,80.25L101.25,79.2L102.3,80.25L101.25,81.3zM103.2,80.25L104.25,79.2L105.3,80.25L104.25,81.3zM106.2,80.25L107.25,79.2L108.3,80.25L107.25,81.3zM109.2,80.25L110.25,79.2L111.3,80.25L110.25,81.3zM112.2,80.25L113.25,79.2L114.3,80.25L113.25,81.3zM115.2,80.25L116.25,79.2L117.3,80.25L116.25,81.3zM98.7,81.75L99.75,80.7L100.8,81.75L99.75,82.8zM101.7,81.75L102.75,80.7L103.8,81.75L102.75,82.8zM104.7,81.75L105.75,80.7L106.8,81.75L105.75,82.8zM107.7,81.75L108.75,80.7L109.8,81.75L108.75,82.8zM110.7,81.75L111.75,80.7L112.8,81.75L111.75,82.8zM113.7,81.75L114.75,80.7L115.8,81.75L114.75,82.8zM100.2,83.25L101.25,82.2L102.3,83.25L101.25,84.3zM103.2,83.25L104.25,82.2L105.3,83.25L104.25,84.3zM106.2,83.25L107.25,82.2L108.3,83.25L107.25,84.3zM109.2,83.25L110.25,82.2L111.3,83.25L110.25,84.3zM112.2,83.25L113.25,82.2L114.3,83.25L113.25,84.3zM115.2,83.25L116.25,82.2L117.3,83.25L116.25,84.3zM98.7,84.75L99.75,83.7L100.8,84.75L99.75,85.8zM101.7,84.75L102.75,83.7L103.8,84.75L102.75,85.8zM104.7,84.75L105.75,83.7L106.8,84.75L105.75,85.8zM107.7,84.75L108.75,83.7L109.8,84.75L108.75,85.8zM110.7,84.75L111.75,83.7L112.8,84.75L111.75,85.8zM113.7,84.75L114.75,83.7L115.8,84.75L114.75,85.8zM100.2,86.25L101.25,85.2L102.3,86.25L101.25,87.3zM103.2,86.25L104.25,85.2L105.3,86.25L104.25,87.3zM106.2,86.25L107.25,85.2L108.3,86.25L107.25,87.3zM109.2,86.25L110.25,85.2L111.3,86.25L110.25,87.3zM112.2,86.25L113.25,85.2L114.3,86.25L113.25,87.3zM115.2,86.25L116.25,85.2L117.3,86.25L116.25,87.3zM98.7,87.75L99.75,86.7L100.8,87.75L99.75,88.8zM101.7,87.75L102.75,86.7L103.8,87.75L102.75,88.8zM104.7,87.75L105.75,86.7L106.8,87.75L105.75,88.8zM107.7,87.75L108.75,86.7L109.8,87.75L108.75,88.8zM110.7,87.75L111.75,86.7L112.8,87.75L111.75,88.8zM113.7,87.75L114.75,86.7L115.8,87.75L114.75,88.8zM100.2,89.25L101.25,88.2L102.3,89.25L101.25,90.3zM103.2,89.25L104.25,88.2L105.3,89.25L104.25,90.3zM106.2,89.25L107.25,88.2L108.3,89.25L107.25,90.3zM109.2,89.25L110.25,88.2L111.3,89.25L110.25,90.3zM112.2,89.25L113.25,88.2L114.3,89.25L113.25,90.3zM115.2,89.25L116.25,88.2L117.3,89.25L116.25,90.3zM98.7,90.75L99.75,89.7L100.8,90.75L99.75,91.8zM101.7,90.75L102.75,89.7L103.8,90.75L102.75,91.8zM104.7,90.75L105.75,89.7L106.8,90.75L105.75,91.8zM107.7,90.75L108.75,89.7L109.8,90.75L108.75,91.8zM110.7,90.75L111.75,89.7L112.8,90.75L111.75,91.8zM113.7,90.75L114.75,89.7L115.8,90.75L114.75,91.8zM100.2,92.25L101.25,91.2L102.3,92.25L101.25,93.3zM103.2,92.25L104.25,91.2L105.3,92.25L104.25,93.3zM106.2,92.25L107.25,91.2L108.3,92.25L107.25,93.3zM109.2,92.25L110.25,91.2L111.3,92.25L110.25,93.3zM112.2,92.25L113.25,91.2L114.3,92.25L113.25,93.3zM115.2,92.25L116.25,91.2L117.3,92.25L116.25,93.3zM98.7,93.75L99.75,92.7L100.8,93.75L99.75,94.8zM101.7,93.75L102.75,92.7L103.8,93.75L102.75,94.8zM104.7,93.75L105.75,92.7L106.8,93.75L105.75,94.8zM107.7,93.75L108.75,92.7L109.8,93.75L108.75,94.8zM110.7,93.75L111.75,92.7L112.8,93.75L111.75,94.8zM113.7,93.75L114.75,92.7L115.8,93.75L114.75,94.8zM100.2,95.25L101.25,94.2L102.3,95.25L101.25,96.3zM103.2,95.25L104.25,94.2L105.3,95.25L104.25,96.3zM106.2,95.25L107.25,94.2L108.3,95.25L107.25,96.3zM109.2,95.25L110.25,94.2L111.3,95.25L110.25,96.3zM112.2,95.25L113.25,94.2L114.3,95.25L113.25,96.3zM115.2,95.25L116.25,94.2L117.3,95.25L116.25,96.3zM98.7,96.75L99.75,95.7L100.8,96.75L99.75,97.8zM101.7,96.75L102.75,95.7L103.8,96.75L102.75,97.8zM104.7,96.75L105.75,95.7L106.8,96.75L105.75,97.8zM107.7,96.75L108.75,95.7L109.8,96.75L108.75,97.8zM110.7,96.75L111.75,95.7L112.8,96.75L111.75,97.8zM113.7,96.75L114.75,95.7L115.8,96.75L114.75,97.8zM100.2,98.25L101.25,97.2L102.3,98.25L101.25,99.3zM103.2,98.25L104.25,97.2L105.3,98.25L104.25,99.3zM106.2,98.25L107.25,97.2L108.3,98.25L107.25,99.3zM109.2,98.25L110.25,97.2L111.3,98.25L110.25,99.3zM112.2,98.25L113.25,97.2L114.3,98.25L113.25,99.3zM115.2,98.25L116.25,97.2L117.3,98.25L116.25,99.3zM98.7,99.75L99.75,98.7L100.8,99.75L99.75,100.8zM101.7,99.75L102.75,98.7L103.8,99.75L102.75,100.8zM104.7,99.75L105.75,98.7L106.8,99.75L105.75,100.8zM107.7,99.75L108.75,98.7L109.8,99.75L108.75,100.8zM110.7,99.75L111.75,98.7L112.8,99.75L111.75,100.8zM113.7,99.75L114.75,98.7L115.8,99.75L114.75,100.8zM100.2,101.25L101.25,100.2L102.3,101.25L101.25,102.3zM103.2,101.25L104.25,100.2L105.3,101.25L104.25,102.3zM106.2,101.25L107.25,100.2L108.3,101.25L107.25,102.3zM109.2,101.25L110.25,100.2L111.3,101.25L110.25,102.3zM112.2,101.25L113.25,100.2L114.3,101.25L113.25,102.3zM115.2,101.25L116.25,100.2L117.3,101.25L116.25,102.3zM98.7,102.75L99.75,101.7L100.8,102.75L99.75,103.8zM101.7,102.75L102.75,101.7L103.8,102.75L102.75,103.8zM104.7,102.75L105.75,101.7L106.8,102.75L105.75,103.8zM107.7,102.75L108.75,101.7L109.8,102.75L108.75,103.8zM110.7,102.75L111.75,101.7L112.8,102.75L111.75,103.8zM113.7,102.75L114.75,101.7L115.8,102.75L114.75,103.8zM100.2,104.25L101.25,103.2L102.3,104.25L101.25,105.3zM103.2,104.25L104.25,103.2L105.3,104.25L104.25,105.3zM106.2,104.25L107.25,103.2L108.3,104.25L107.25,105.3zM109.2,104.25L110.25,103.2L111.3,104.25L110.25,105.3zM112.2,104.25L113.25,103.2L114.3,104.25L113.25,105.3zM115.2,104.25L116.25,103.2L117.3,104.25L116.25,105.3zM98.7,105.75L99.75,104.7L100.8,105.75L99.75,106.8zM101.7,105.75L102.75,104.7L103.8,105.75L102.75,106.8zM104.7,105.75L105.75,104.7L106.8,105.75L105.75,106.8zM107.7,105.75L108.75,104.7L109.8,105.75L108.75,106.8zM110.7,105.75L111.75,104.7L112.8,105.75L111.75,106.8zM113.7,105.75L114.75,104.7L115.8,105.75L114.75,106.8zM100.2,107.25L101.25,106.2L102.3,107.25L101.25,108.3zM103.2,107.25L104.25,106.2L105.3,107.25L104.25,108.3zM106.2,107.25L107.25,106.2L108.3,107.25L107.25,108.3zM109.2,107.25L110.25,106.2L111.3,107.25L110.25,108.3zM112.2,107.25L113.25,106.2L114.3,107.25L113.25,108.3zM115.2,107.25L116.25,106.2L117.3,107.25L116.25,108.3zM98.7,108.75L99.75,107.7L100.8,108.75L99.75,109.8zM101.7,108.75L102.75,107.7L103.8,108.75L102.75,109.8zM104.7,108.75L105.75,107.7L106.8,108.75L105.75,109.8zM107.7,108.75L108.75,107.7L109.8,108.75L108.75,109.8zM110.7,108.75L111.75,107.7L112.8,108.75L111.75,109.8zM113.7,108.75L114.75,107.7L115.8,108.75L114.75,109.8zM100.2,110.25L101.25,109.2L102.3,110.25L101.25,111.3zM103.2,110.25L104.25,109.2L105.3,110.25L104.25,111.3zM106.2,110.25L107.25,109.2L108.3,110.25L107.25,111.3zM109.2,110.25L110.25,109.2L111.3,110.25L110.25,111.3zM112.2,110.25L113.25,109.2L114.3,110.25L113.25,111.3zM115.2,110.25L116.25,109.2L117.3,110.25L116.25,111.3zM98.7,111.75L99.75,110.7L100.8,111.75L99.75,112.8zM101.7,111.75L102.75,110.7L103.8,111.75L102.75,112.8zM104.7,111.75L105.75,110.7L106.8,111.75L105.75,112.8zM107.7,111.75L108.75,110.7L109.8,111.75L108.75,112.8zM110.7,111.75L111.75,110.7L112.8,111.75L111.75,112.8zM113.7,111.75L114.75,110.7L115.8,111.75L114.75,112.8zM100.2,113.25L101.25,112.2L102.3,113.25L101.25,114.3zM103.2,113.25L104.25,112.2L105.3,113.25L104.25,114.3zM106.2,113.25L107.25,112.2L108.3,113.25L107.25,114.3zM109.2,113.25L110.25,112.2L111.3,113.25L110.25,114.3zM112.2,113.25L113.25,112.2L114.3,113.25L113.25,114.3zM115.2,113.25L116.25,112.2L117.3,113.25L116.25,114.3zM98.7,114.75L99.75,113.7L100.8,114.75L99.75,115.8zM101.7,114.75L102.75,113.7L103.8,114.75L102.75,115.8zM104.7,114.75L105.75,113.7L106.8,114.75L105.75,115.8zM107.7,114.75L108.75,113.7L109.8,114.75L108.75,115.8zM110.7,114.75L111.75,113.7L112.8,114.75L111.75,115.8zM113.7,114.75L114.75,113.7L115.8,114.75L114.75,115.8zM100.2,116.25L101.25,115.2L102.3,116.25L101.25,117.3zM103.2,116.25L104.25,115.2L105.3,116.25L104.25,117.3zM106.2,116.25L107.25,115.2L108.3,116.25L107.25,117.3zM109.2,116.25L110.25,115.2L111.3,116.25L110.25,117.3zM112.2,116.25L113.25,115.2L114.3,116.25L113.25,117.3zM115.2,116.25L116.25,115.2L117.3,116.25L116.25,117.3zM98.7,117.75L99.75,116.7L100.8,117.75L99.75,118.8zM101.7,117.75L102.75,116.7L103.8,117.75L102.75,118.8zM104.7,117.75L105.75,116.7L106.8,117.75L105.75,118.8zM107.7,117.75L108.75,116.7L109.8,117.75L108.75,118.8zM110.7,117.75L111.75,116.7L112.8,117.75L111.75,118.8zM113.7,117.75L114.75,116.7L115.8,117.75L114.75,118.8zM100.2,119.25L101.25,118.2L102.3,119.25L101.25,120.3zM103.2,119.25L104.25,118.2L105.3,119.25L104.25,120.3zM106.2,119.25L107.25,118.2L108.3,119.25L107.25,120.3zM109.2,119.25L110.25,118.2L111.3,119.25L110.25,120.3zM112.2,119.25L113.25,118.2L114.3,119.25L113.25,120.3zM115.2,119.25L116.25,118.2L117.3,119.25L116.25,120.3zM98.7,120.75L99.75,119.7L100.8,120.75L99.75,121.8zM101.7,120.75L102.75,119.7L103.8,120.75L102.75,121.8zM104.7,120.75L105.75,119.7L106.8,120.75L105.75,121.8zM107.7,120.75L108.75,119.7L109.8,120.75L108.75,121.8zM110.7,120.75L111.75,119.7L112.8,120.75L111.75,121.8zM113.7,120.75L114.75,119.7L115.8,120.75L114.75,121.8zM100.2,122.25L101.25,121.2L102.3,122.25L101.25,123.3zM103.2,122.25L104.25,121.2L105.3,122.25L104.25,123.3zM106.2,122.25L107.25,121.2L108.3,122.25L107.25,123.3zM109.2,122.25L110.25,121.2L111.3,122.25L110.25,123.3zM112.2,122.25L113.25,121.2L114.3,122.25L113.25,123.3zM115.2,122.25L116.25,121.2L117.3,122.25L116.25,123.3zM98.7,123.75L99.75,122.7L100.8,123.75L99.75,124.8zM101.7,123.75L102.75,122.7L103.8,123.75L102.75,124.8zM104.7,123.75L105.75,122.7L106.8,123.75L105.75,124.8zM107.7,123.75L108.75,122.7L109.8,123.75L108.75,124.8zM110.7,123.75L111.75,122.7L112.8,123.75L111.75,124.8zM113.7,123.75L114.75,122.7L115.8,123.75L114.75,124.8zM100.2,125.25L101.25,124.2L102.3,125.25L101.25,126.3zM103.2,125.25L104.25,124.2L105.3,125.25L104.25,126.3zM106.2,125.25L107.25,124.2L108.3,125.25L107.25,126.3zM109.2,125.25L110.25,124.2L111.3,125.25L110.25,126.3zM112.2,125.25L113.25,124.2L114.3,125.25L113.25,126.3zM115.2,125.25L116.25,124.2L117.3,125.25L116.25,126.3zM98.7,126.75L99.75,125.7L100.8,126.75L99.75,127.8zM101.7,126.75L102.75,125.7L103.8,126.75L102.75,127.8zM104.7,126.75L105.75,125.7L106.8,126.75L105.75,127.8zM107.7,126.75L108.75,125.7L109.8,126.75L108.75,127.8zM110.7,126.75L111.75,125.7L112.8,126.75L111.75,127.8zM113.7,126.75L114.75,125.7L115.8,126.75L114.75,127.8zM100.2,128.25L101.25,127.2L102.3,128.25L101.25,129.3zM103.2,128.25L104.25,127.2L105.3,128.25L104.25,129.3zM106.2,128.25L107.25,127.2L108.3,128.25L107.25,129.3zM109.2,128.25L110.25,127.2L111.3,128.25L110.25,129.3zM112.2,128.25L113.25,127.2L114.3,128.25L113.25,129.3zM115.2,128.25L116.25,127.2L117.3,128.25L116.25,129.3zM98.7,129.75L99.75,128.7L100.8,129.75L99.75,130.8zM101.7,129.75L102.75,128.7L103.8,129.75L102.75,130.8zM104.7,129.75L105.75,128.7L106.8,129.75L105.75,130.8zM107.7,129.75L108.75,128.7L109.8,129.75L108.75,130.8zM110.7,129.75L111.75,128.7L112.8,129.75L111.75,130.8zM113.7,129.75L114.75,128.7L115.8,129.75L114.75,130.8zM100.2,131.25L101.25,130.2L102.3,131.25L101.25,132.3zM103.2,131.25L104.25,130.2L105.3,131.25L104.25,132.3zM106.2,131.25L107.25,130.2L108.3,131.25L107.25,132.3zM109.2,131.25L110.25,130.2L111.3,131.25L110.25,132.3zM112.2,131.25L113.25,130.2L114.3,131.25L113.25,132.3zM115.2,131.25L116.25,130.2L117.3,131.25L116.25,132.3zM98.7,132.75L99.75,131.7L100.8,132.75L99.75,133.8zM101.7,132.75L102.75,131.7L103.8,132.75L102.75,133.8zM104.7,132.75L105.75,131.7L106.8,132.75L105.75,133.8zM107.7,132.75L108.75,131.7L109.8,132.75L108.75,133.8zM110.7,132.75L111.75,131.7L112.8,132.75L111.75,133.8zM113.7,132.75L114.75,131.7L115.8,132.75L114.75,133.8z" fill="#fff"/>
<clipPath id="c8"><rect x="105.7" y="141.7" width="8.9" height="15.9"/></clipPath>
<rect x="105.7" y="141.7" width="8.9" height="15.9" fill="#0a0a0a"/>
<path clip-path="url(#c8)" d="M98.7,135.75L99.75,134.7L100.8,135.75L99.75,136.8zM101.7,135.75L102.75,134.7L103.8,135.75L102.75,136.8zM104.7,135.75L105.75,134.7L106.8,135.75L105.75,136.8zM107.7,135.75L108.75,134.7L109.8,135.75L108.75,136.8zM110.7,135.75L111.75,134.7L112.8,135.75L111.75,136.8zM113.7,135.75L114.75,134.7L115.8,135.75L114.75,136.8zM100.2,137.25L101.25,136.2L102.3,137.25L101.25,138.3zM103.2,137.25L104.25,136.2L105.3,137.25L104.25,138.3zM106.2,137.25L107.25,136.2L108.3,137.25L107.25,138.3zM109.2,137.25L110.25,136.2L111.3,137.25L110.25,138.3zM112.2,137.25L113.25,136.2L114.3,137.25L113.25,138.3zM115.2,137.25L116.25,136.2L117.3,137.25L116.25,138.3zM98.7,138.75L99.75,137.7L100.8,138.75L99.75,139.8zM101.7,138.75L102.75,137.7L103.8,138.75L102.75,139.8zM104.7,138.75L105.75,137.7L106.8,138.75L105.75,139.8zM107.7,138.75L108.75,137.7L109.8,138.75L108.75,139.8zM110.7,138.75L111.75,137.7L112.8,138.75L111.75,139.8zM113.7,138.75L114.75,137.7L115.8,138.75L114.75,139.8zM100.2,140.25L101.25,139.2L102.3,140.25L101.25,141.3zM103.2,140.25L104.25,139.2L105.3,140.25L104.25,141.3zM106.2,140.25L107.25,139.2L108.3,140.25L107.25,141.3zM109.2,140.25L110.25,139.2L111.3,140.25L110.25,141.3zM112.2,140.25L113.25,139.2L114.3,140.25L113.25,141.3zM115.2,140.25L116.25,139.2L117.3,140.25L116.25,141.3zM98.7,141.75L99.75,140.7L100.8,141.75L99.75,142.8zM101.7,141.75L102.75,140.7L103.8,141.75L102.75,142.8zM104.7,141.75L105.75,140.7L106.8,141.75L105.75,142.8zM107.7,141.75L108.75,140.7L109.8,141.75L108.75,142.8zM110.7,141.75L111.75,140.7L112.8,141.75L111.75,142.8zM113.7,141.75L114.75,140.7L115.8,141.75L114.75,142.8zM100.2,143.25L101.25,142.2L102.3,143.25L101.25,144.3zM103.2,143.25L104.25,142.2L105.3,143.25L104.25,144.3zM106.2,143.25L107.25,142.2L108.3,143.25L107.25,144.3zM109.2,143.25L110.25,142.2L111.3,143.25L110.25,144.3zM112.2,143.25L113.25,142.2L114.3,143.25L113.25,144.3zM115.2,143.25L116.25,142.2L117.3,143.25L116.25,144.3zM98.7,144.75L99.75,143.7L100.8,144.75L99.75,145.8zM101.7,144.75L102.75,143.7L103.8,144.75L102.75,145.8zM104.7,144.75L105.75,143.7L106.8,144.75L105.75,145.8zM107.7,144.75L108.75,143.7L109.8,144.75L108.75,145.8zM110.7,144.75L111.75,143.7L112.8,144.75L111.75,145.8zM113.7,144.75L114.75,143.7L115.8,144.75L114.75,145.8zM100.2,146.25L101.25,145.2L102.3,146.25L101.25,147.3zM103.2,146.25L104.25,145.2L105.3,146.25L104.25,147.3zM106.2,146.25L107.25,145.2L108.3,146.25L107.25,147.3zM109.2,146.25L110.25,145.2L111.3,146.25L110.25,147.3zM112.2,146.25L113.25,145.2L114.3,146.25L113.25,147.3zM115.2,146.25L116.25,145.2L117.3,146.25L116.25,147.3zM98.7,147.75L99.75,146.7L100.8,147.75L99.75,148.8zM101.7,147.75L102.75,146.7L103.8,147.75L102.75,148.8zM104.7,147.75L105.75,146.7L106.8,147.75L105.75,148.8zM107.7,147.75L108.75,146.7L109.8,147.75L108.75,148.8zM110.7,147.75L111.75,146.7L112.8,147.75L111.75,148.8zM113.7,147.75L114.75,146.7L115.8,147.75L114.75,148.8zM100.2,149.25L101.25,148.2L102.3,149.25L101.25,150.3zM103.2,149.25L104.25,148.2L105.3,149.25L104.25,150.3zM106.2,149.25L107.25,148.2L108.3,149.25L107.25,150.3zM109.2,149.25L110.25,148.2L111.3,149.25L110.25,150.3zM112.2,149.25L113.25,148.2L114.3,149.25L113.25,150.3zM115.2,149.25L116.25,148.2L117.3,149.25L116.25,150.3zM98.7,150.75L99.75,149.7L100.8,150.75L99.75,151.8zM101.7,150.75L102.75,149.7L103.8,150.75L102.75,151.8zM104.7,150.75L105.75,149.7L106.8,150.75L105.75,151.8zM107.7,150.75L108.75,149.7L109.8,150.75L108.75,151.8zM110.7,150.75L111.75,149.7L112.8,150.75L111.75,151.8zM113.7,150.75L114.75,149.7L115.8,150.75L114.75,151.8zM100.2,152.25L101.25,151.2L102.3,152.25L101.25,153.3zM103.2,152.25L104.25,151.2L105.3,152.25L104.25,153.3zM106.2,152.25L107.25,151.2L108.3,152.25L107.25,153.3zM109.2,152.25L110.25,151.2L111.3,152.25L110.25,153.3zM112.2,152.25L113.25,151.2L114.3,152.25L113.25,153.3zM115.2,152.25L116.25,151.2L117.3,152.25L116.25,153.3zM98.7,153.75L99.75,152.7L100.8,153.75L99.75,154.8zM101.7,153.75L102.75,152.7L103.8,153.75L102.75,154.8zM104.7,153.75L105.75,152.7L106.8,153.75L105.75,154.8zM107.7,153.75L108.75,152.7L109.8,153.75L108.75,154.8zM110.7,153.75L111.75,152.7L112.8,153.75L111.75,154.8zM113.7,153.75L114.75,152.7L115.8,153.75L114.75,154.8zM100.2,155.25L101.25,154.2L102.3,155.25L101.25,156.3zM103.2,155.25L104.25,154.2L105.3,155.25L104.25,156.3zM106.2,155.25L107.25,154.2L108.3,155.25L107.25,156.3zM109.2,155.25L110.25,154.2L111.3,155.25L110.25,156.3zM112.2,155.25L113.25,154.2L114.3,155.25L113.25,156.3zM115.2,155.25L116.25,154.2L117.3,155.25L116.25,156.3zM98.7,156.75L99.75,155.7L100.8,156.75L99.75,157.8zM101.7,156.75L102.75,155.7L103.8,156.75L102.75,157.8zM104.7,156.75L105.75,155.7L106.8,156.75L105.75,157.8zM107.7,156.75L108.75,155.7L109.8,156.75L108.75,157.8zM110.7,156.75L111.75,155.7L112.8,156.75L111.75,157.8zM113.7,156.75L114.75,155.7L115.8,156.75L114.75,157.8zM100.2,158.25L101.25,157.2L102.3,158.25L101.25,159.3zM103.2,158.25L104.25,157.2L105.3,158.25L104.25,159.3zM106.2,158.25L107.25,157.2L108.3,158.25L107.25,159.3zM109.2,158.25L110.25,157.2L111.3,158.25L110.25,159.3zM112.2,158.25L113.25,157.2L114.3,158.25L113.25,159.3zM115.2,158.25L116.25,157.2L117.3,158.25L116.25,159.3zM98.7,159.75L99.75,158.7L100.8,159.75L99.75,160.8zM101.7,159.75L102.75,158.7L103.8,159.75L102.75,160.8zM104.7,159.75L105.75,158.7L106.8,159.75L105.75,160.8zM107.7,159.75L108.75,158.7L109.8,159.75L108.75,160.8zM110.7,159.75L111.75,158.7L112.8,159.75L111.75,160.8zM113.7,159.75L114.75,158.7L115.8,159.75L114.75,160.8z" fill="#fff"/>
<path d="M105.7,130.3 V32.9 H114.6 V130.3 M105.7,141.7 V157.6 M114.6,141.7 V157.6" stroke="#222" stroke-width="1" fill="none"/>
<path d="M110.15,32.4 V31.6 M107.45,31.6 H112.85" stroke="#000" stroke-width="1.7" fill="none"/>
<clipPath id="c9"><rect x="128.7" y="63.9" width="8.9" height="66.4"/></clipPath>
<path clip-path="url(#c9)" d="M127.7,63.7L138.6,52.8M127.7,67L138.6,56.1M127.7,70.3L138.6,59.4M127.7,73.6L138.6,62.7M127.7,76.9L138.6,66M127.7,80.2L138.6,69.3M127.7,83.5L138.6,72.6M127.7,86.8L138.6,75.9M127.7,90.1L138.6,79.2M127.7,93.4L138.6,82.5M127.7,96.7L138.6,85.8M127.7,100L138.6,89.1M127.7,103.3L138.6,92.4M127.7,106.6L138.6,95.7M127.7,109.9L138.6,99M127.7,113.2L138.6,102.3M127.7,116.5L138.6,105.6M127.7,119.8L138.6,108.9M127.7,123.1L138.6,112.2M127.7,126.4L138.6,115.5M127.7,129.7L138.6,118.8M127.7,133L138.6,122.1M127.7,136.3L138.6,125.4M127.7,139.6L138.6,128.7M127.7,142.9L138.6,132" stroke="#1c1c1c" stroke-width="1.01" fill="none"/>
<clipPath id="c10"><rect x="128.7" y="141.7" width="8.9" height="15.9"/></clipPath>
<path clip-path="url(#c10)" d="M127.7,139.6L138.6,128.7M127.7,142.9L138.6,132M127.7,146.2L138.6,135.3M127.7,149.5L138.6,138.6M127.7,152.8L138.6,141.9M127.7,156.1L138.6,145.2M127.7,159.4L138.6,148.5M127.7,162.7L138.6,151.8M127.7,166L138.6,155.1M127.7,169.3L138.6,158.4" stroke="#1c1c1c" stroke-width="1.01" fill="none"/>
<path d="M128.7,130.3 V63.9 H137.6 V130.3 M128.7,141.7 V157.6 M137.6,141.7 V157.6" stroke="#222" stroke-width="1" fill="none"/>
<path d="M133.15,63.4 V57.7 M130.45,57.7 H135.85" stroke="#000" stroke-width="1.3" fill="none"/>
<clipPath id="c11"><rect x="142.7" y="32.6" width="8.9" height="97.7"/></clipPath>
<path clip-path="url(#c11)" d="M141.7,33.2L152.6,22.3M141.7,36.5L152.6,25.6M141.7,39.8L152.6,28.9M141.7,43.1L152.6,32.2M141.7,46.4L152.6,35.5M141.7,49.7L152.6,38.8M141.7,53L152.6,42.1M141.7,56.3L152.6,45.4M141.7,59.6L152.6,48.7M141.7,62.9L152.6,52M141.7,66.2L152.6,55.3M141.7,69.5L152.6,58.6M141.7,72.8L152.6,61.9M141.7,76.1L152.6,65.2M141.7,79.4L152.6,68.5M141.7,82.7L152.6,71.8M141.7,86L152.6,75.1M141.7,89.3L152.6,78.4M141.7,92.6L152.6,81.7M141.7,95.9L152.6,85M141.7,99.2L152.6,88.3M141.7,102.5L152.6,91.6M141.7,105.8L152.6,94.9M141.7,109.1L152.6,98.2M141.7,112.4L152.6,101.5M141.7,115.7L152.6,104.8M141.7,119L152.6,108.1M141.7,122.3L152.6,111.4M141.7,125.6L152.6,114.7M141.7,128.9L152.6,118M141.7,132.2L152.6,121.3M141.7,135.5L152.6,124.6M141.7,138.8L152.6,127.9M141.7,142.1L152.6,131.2" stroke="#1c1c1c" stroke-width="1.01" fill="none"/>
<clipPath id="c12"><rect x="142.7" y="141.7" width="8.9" height="15.9"/></clipPath>
<path clip-path="url(#c12)" d="M141.7,142.1L152.6,131.2M141.7,145.4L152.6,134.5M141.7,148.7L152.6,137.8M141.7,152L152.6,141.1M141.7,155.3L152.6,144.4M141.7,158.6L152.6,147.7M141.7,161.9L152.6,151M141.7,165.2L152.6,154.3M141.7,168.5L152.6,157.6" stroke="#1c1c1c" stroke-width="1.01" fill="none"/>
<path d="M142.7,130.3 V32.6 H151.6 V130.3 M142.7,141.7 V157.6 M151.6,141.7 V157.6" stroke="#222" stroke-width="1" fill="none"/>
<path d="M147.15,32.1 V31.4 M144.45,31.4 H149.85" stroke="#000" stroke-width="1.7" fill="none"/>
<clipPath id="c13"><rect x="165.7" y="64.3" width="8.9" height="66"/></clipPath>
<path clip-path="url(#c13)" d="M164.7,52.5L175.6,63.4M164.7,55.8L175.6,66.7M164.7,59.1L175.6,70M164.7,62.4L175.6,73.3M164.7,65.7L175.6,76.6M164.7,69L175.6,79.9M164.7,72.3L175.6,83.2M164.7,75.6L175.6,86.5M164.7,78.9L175.6,89.8M164.7,82.2L175.6,93.1M164.7,85.5L175.6,96.4M164.7,88.8L175.6,99.7M164.7,92.1L175.6,103M164.7,95.4L175.6,106.3M164.7,98.7L175.6,109.6M164.7,102L175.6,112.9M164.7,105.3L175.6,116.2M164.7,108.6L175.6,119.5M164.7,111.9L175.6,122.8M164.7,115.2L175.6,126.1M164.7,118.5L175.6,129.4M164.7,121.8L175.6,132.7M164.7,125.1L175.6,136M164.7,128.4L175.6,139.3M164.7,131.7L175.6,142.6" stroke="#1c1c1c" stroke-width="1.01" fill="none"/>
<clipPath id="c14"><rect x="165.7" y="141.7" width="8.9" height="15.9"/></clipPath>
<path clip-path="url(#c14)" d="M164.7,131.7L175.6,142.6M164.7,135L175.6,145.9M164.7,138.3L175.6,149.2M164.7,141.6L175.6,152.5M164.7,144.9L175.6,155.8M164.7,148.2L175.6,159.1M164.7,151.5L175.6,162.4M164.7,154.8L175.6,165.7M164.7,158.1L175.6,169" stroke="#1c1c1c" stroke-width="1.01" fill="none"/>
<path d="M165.7,130.3 V64.3 H174.6 V130.3 M165.7,141.7 V157.6 M174.6,141.7 V157.6" stroke="#222" stroke-width="1" fill="none"/>
<path d="M170.15,63.8 V57.5 M167.45,57.5 H172.85" stroke="#000" stroke-width="1.3" fill="none"/>
<clipPath id="c15"><rect x="179.7" y="32.6" width="8.9" height="97.7"/></clipPath>
<path clip-path="url(#c15)" d="M178.7,20.3L189.6,31.2M178.7,23.6L189.6,34.5M178.7,26.9L189.6,37.8M178.7,30.2L189.6,41.1M178.7,33.5L189.6,44.4M178.7,36.8L189.6,47.7M178.7,40.1L189.6,51M178.7,43.4L189.6,54.3M178.7,46.7L189.6,57.6M178.7,50L189.6,60.9M178.7,53.3L189.6,64.2M178.7,56.6L189.6,67.5M178.7,59.9L189.6,70.8M178.7,63.2L189.6,74.1M178.7,66.5L189.6,77.4M178.7,69.8L189.6,80.7M178.7,73.1L189.6,84M178.7,76.4L189.6,87.3M178.7,79.7L189.6,90.6M178.7,83L189.6,93.9M178.7,86.3L189.6,97.2M178.7,89.6L189.6,100.5M178.7,92.9L189.6,103.8M178.7,96.2L189.6,107.1M178.7,99.5L189.6,110.4M178.7,102.8L189.6,113.7M178.7,106.1L189.6,117M178.7,109.4L189.6,120.3M178.7,112.7L189.6,123.6M178.7,116L189.6,126.9M178.7,119.3L189.6,130.2M178.7,122.6L189.6,133.5M178.7,125.9L189.6,136.8M178.7,129.2L189.6,140.1M178.7,132.5L189.6,143.4" stroke="#1c1c1c" stroke-width="1.01" fill="none"/>
<clipPath id="c16"><rect x="179.7" y="141.7" width="8.9" height="15.9"/></clipPath>
<path clip-path="url(#c16)" d="M178.7,129.2L189.6,140.1M178.7,132.5L189.6,143.4M178.7,135.8L189.6,146.7M178.7,139.1L189.6,150M178.7,142.4L189.6,153.3M178.7,145.7L189.6,156.6M178.7,149L189.6,159.9M178.7,152.3L189.6,163.2M178.7,155.6L189.6,166.5M178.7,158.9L189.6,169.8" stroke="#1c1c1c" stroke-width="1.01" fill="none"/>
<path d="M179.7,130.3 V32.6 H188.6 V130.3 M179.7,141.7 V157.6 M188.6,141.7 V157.6" stroke="#222" stroke-width="1" fill="none"/>
<path d="M184.15,32.1 V31.4 M181.45,31.4 H186.85" stroke="#000" stroke-width="1.7" fill="none"/>
<clipPath id="c17"><rect x="202.7" y="61.8" width="8.9" height="68.5"/></clipPath>
<path clip-path="url(#c17)" d="M201.7,57.84H212.6M201.7,61.8H212.6M201.7,65.76H212.6M201.7,69.72H212.6M201.7,73.68H212.6M201.7,77.64H212.6M201.7,81.6H212.6M201.7,85.56H212.6M201.7,89.52H212.6M201.7,93.48H212.6M201.7,97.44H212.6M201.7,101.4H212.6M201.7,105.36H212.6M201.7,109.32H212.6M201.7,113.28H212.6M201.7,117.24H212.6M201.7,121.2H212.6M201.7,125.16H212.6M201.7,129.12H212.6M201.7,133.08H212.6" stroke="#111" stroke-width="1.01" fill="none"/>
<clipPath id="c18"><rect x="202.7" y="141.7" width="8.9" height="15.9"/></clipPath>
<path clip-path="url(#c18)" d="M201.7,137.04H212.6M201.7,141H212.6M201.7,144.96H212.6M201.7,148.92H212.6M201.7,152.88H212.6M201.7,156.84H212.6M201.7,160.8H212.6" stroke="#111" stroke-width="1.01" fill="none"/>
<path d="M202.7,130.3 V61.8 H211.6 V130.3 M202.7,141.7 V157.6 M211.6,141.7 V157.6" stroke="#222" stroke-width="1" fill="none"/>
<path d="M207.15,61.3 V55.5 M204.45,55.5 H209.85" stroke="#000" stroke-width="1.3" fill="none"/>
<clipPath id="c19"><rect x="216.7" y="32.4" width="8.9" height="97.9"/></clipPath>
<path clip-path="url(#c19)" d="M215.7,28.44H226.6M215.7,32.4H226.6M215.7,36.36H226.6M215.7,40.32H226.6M215.7,44.28H226.6M215.7,48.24H226.6M215.7,52.2H226.6M215.7,56.16H226.6M215.7,60.12H226.6M215.7,64.08H226.6M215.7,68.04H226.6M215.7,72H226.6M215.7,75.96H226.6M215.7,79.92H226.6M215.7,83.88H226.6M215.7,87.84H226.6M215.7,91.8H226.6M215.7,95.76H226.6M215.7,99.72H226.6M215.7,103.68H226.6M215.7,107.64H226.6M215.7,111.6H226.6M215.7,115.56H226.6M215.7,119.52H226.6M215.7,123.48H226.6M215.7,127.44H226.6M215.7,131.4H226.6" stroke="#111" stroke-width="1.01" fill="none"/>
<clipPath id="c20"><rect x="216.7" y="141.7" width="8.9" height="15.9"/></clipPath>
<path clip-path="url(#c20)" d="M215.7,135.36H226.6M215.7,139.32H226.6M215.7,143.28H226.6M215.7,147.24H226.6M215.7,151.2H226.6M215.7,155.16H226.6M215.7,159.12H226.6" stroke="#111" stroke-width="1.01" fill="none"/>
<path d="M216.7,130.3 V32.4 H225.6 V130.3 M216.7,141.7 V157.6 M225.6,141.7 V157.6" stroke="#222" stroke-width="1" fill="none"/>
<path d="M221.15,31.9 V31.2 M218.45,31.2 H223.85" stroke="#000" stroke-width="1.7" fill="none"/>
<clipPath id="c21"><rect x="239.7" y="59.5" width="8.9" height="70.8"/></clipPath>
<path clip-path="url(#c21)" d="M238.7,54.7H249.6M238.7,59.5H249.6M238.7,64.3H249.6M238.7,69.1H249.6M238.7,73.9H249.6M238.7,78.7H249.6M238.7,83.5H249.6M238.7,88.3H249.6M238.7,93.1H249.6M238.7,97.9H249.6M238.7,102.7H249.6M238.7,107.5H249.6M238.7,112.3H249.6M238.7,117.1H249.6M238.7,121.9H249.6M238.7,126.7H249.6M238.7,131.5H249.6M234.55,58.5V131.3M239.35,58.5V131.3M244.15,58.5V131.3M248.95,58.5V131.3" stroke="#111" stroke-width="1.01" fill="none"/>
<clipPath id="c22"><rect x="239.7" y="141.7" width="8.9" height="15.9"/></clipPath>
<path clip-path="url(#c22)" d="M238.7,136.3H249.6M238.7,141.1H249.6M238.7,145.9H249.6M238.7,150.7H249.6M238.7,155.5H249.6M238.7,160.3H249.6M234.55,140.7V158.6M239.35,140.7V158.6M244.15,140.7V158.6M248.95,140.7V158.6" stroke="#111" stroke-width="1.01" fill="none"/>
<path d="M239.7,130.3 V59.5 H248.6 V130.3 M239.7,141.7 V157.6 M248.6,141.7 V157.6" stroke="#222" stroke-width="1" fill="none"/>
<path d="M244.15,59 V53.4 M241.45,53.4 H246.85" stroke="#000" stroke-width="1.3" fill="none"/>
<clipPath id="c23"><rect x="253.7" y="33.1" width="8.9" height="97.2"/></clipPath>
<path clip-path="url(#c23)" d="M252.7,28.3H263.6M252.7,33.1H263.6M252.7,37.9H263.6M252.7,42.7H263.6M252.7,47.5H263.6M252.7,52.3H263.6M252.7,57.1H263.6M252.7,61.9H263.6M252.7,66.7H263.6M252.7,71.5H263.6M252.7,76.3H263.6M252.7,81.1H263.6M252.7,85.9H263.6M252.7,90.7H263.6M252.7,95.5H263.6M252.7,100.3H263.6M252.7,105.1H263.6M252.7,109.9H263.6M252.7,114.7H263.6M252.7,119.5H263.6M252.7,124.3H263.6M252.7,129.1H263.6M252.7,133.9H263.6M248.55,32.1V131.3M253.35,32.1V131.3M258.15,32.1V131.3M262.95,32.1V131.3" stroke="#111" stroke-width="1.01" fill="none"/>
<clipPath id="c24"><rect x="253.7" y="141.7" width="8.9" height="15.9"/></clipPath>
<path clip-path="url(#c24)" d="M252.7,133.9H263.6M252.7,138.7H263.6M252.7,143.5H263.6M252.7,148.3H263.6M252.7,153.1H263.6M252.7,157.9H263.6M248.55,140.7V158.6M253.35,140.7V158.6M258.15,140.7V158.6M262.95,140.7V158.6" stroke="#111" stroke-width="1.01" fill="none"/>
<path d="M253.7,130.3 V33.1 H262.6 V130.3 M253.7,141.7 V157.6 M262.6,141.7 V157.6" stroke="#222" stroke-width="1" fill="none"/>
<path d="M258.15,32.6 V31.9 M255.45,31.9 H260.85" stroke="#000" stroke-width="1.7" fill="none"/>
<g stroke="#000" stroke-width="1.4" fill="none">
<path d="M47.6,1.3 V130.3 M43,130.3 H50.8"/>
<path d="M47.6,141.7 V157.6 M43,141.7 H50.8"/>
<path d="M42.6,157.6 H269.8"/>
<path d="M42.9,16.1 H47.6 M42.9,44.65 H47.6 M42.9,73.2 H47.6 M42.9,101.75 H47.6 M42.9,130.3 H47.6 M44.9,1.9 H47.6 M44.9,30.38 H47.6 M44.9,58.93 H47.6 M44.9,87.47 H47.6 M44.9,116.03 H47.6 M42.9,141.7 H47.6 M42.9,157.6 H47.6 "/>
<path d="M59,157.6 V162.7 M73,157.6 V162.7 M96,157.6 V162.7 M110,157.6 V162.7 M133,157.6 V162.7 M147,157.6 V162.7 M170,157.6 V162.7 M184,157.6 V162.7 M207,157.6 V162.7 M221,157.6 V162.7 M244,157.6 V162.7 M258,157.6 V162.7 "/>
</g>
<g font-family="'Liberation Sans', Arial, sans-serif" font-weight="bold" font-size="11" text-anchor="end" letter-spacing="-0.4" fill="#000" stroke="#000" stroke-width="0.25">
<text x="42" y="19.8">13.8</text>
<text x="42" y="48.35">13.4</text>
<text x="42" y="76.9">13.0</text>
<text x="42" y="105.45">12.6</text>
<text x="42" y="134">12.2</text>
<text x="42" y="145.4">10</text>
<text x="42" y="161.3">0</text>
</g>
<text transform="translate(14.2,79.6) rotate(-90)" text-anchor="middle" font-family="'Liberation Sans', Arial, sans-serif" font-weight="bold" font-size="12.6" fill="#000">Hb (g/dL)</text>
<g font-family="'Liberation Sans', Arial, sans-serif" font-weight="bold" font-size="11.6" text-anchor="end" fill="#000" stroke="#000" stroke-width="0.3">
<text transform="translate(63.05,174.1) rotate(-45)">AA Women</text>
<text transform="translate(77.05,174.1) rotate(-45)">White Women</text>
<text transform="translate(100.05,174.1) rotate(-45)">AA Women</text>
<text transform="translate(114.05,174.1) rotate(-45)">White Women</text>
<text transform="translate(137.05,174.1) rotate(-45)">AA Women</text>
<text transform="translate(151.05,174.1) rotate(-45)">White Women</text>
<text transform="translate(174.05,174.1) rotate(-45)">AA Women</text>
<text transform="translate(188.05,174.1) rotate(-45)">White Women</text>
<text transform="translate(211.05,174.1) rotate(-45)">AA Women</text>
<text transform="translate(225.05,174.1) rotate(-45)">White Women</text>
<text transform="translate(248.05,174.1) rotate(-45)">AA Women</text>
<text transform="translate(262.05,174.1) rotate(-45)">White Women</text>
</g>
<clipPath id="c25"><rect x="284.9" y="8" width="21.4" height="8.2"/></clipPath>
<path clip-path="url(#c25)" d="M279.9,4h1v1h-1zM283,4h1v1h-1zM286.1,4h1v1h-1zM289.2,4h1v1h-1zM292.3,4h1v1h-1zM295.4,4h1v1h-1zM298.5,4h1v1h-1zM301.6,4h1v1h-1zM304.7,4h1v1h-1zM307.8,4h1v1h-1zM281.45,7.1h1v1h-1zM284.55,7.1h1v1h-1zM287.65,7.1h1v1h-1zM290.75,7.1h1v1h-1zM293.85,7.1h1v1h-1zM296.95,7.1h1v1h-1zM300.05,7.1h1v1h-1zM303.15,7.1h1v1h-1zM306.25,7.1h1v1h-1zM309.35,7.1h1v1h-1zM279.9,10.2h1v1h-1zM283,10.2h1v1h-1zM286.1,10.2h1v1h-1zM289.2,10.2h1v1h-1zM292.3,10.2h1v1h-1zM295.4,10.2h1v1h-1zM298.5,10.2h1v1h-1zM301.6,10.2h1v1h-1zM304.7,10.2h1v1h-1zM307.8,10.2h1v1h-1zM281.45,13.3h1v1h-1zM284.55,13.3h1v1h-1zM287.65,13.3h1v1h-1zM290.75,13.3h1v1h-1zM293.85,13.3h1v1h-1zM296.95,13.3h1v1h-1zM300.05,13.3h1v1h-1zM303.15,13.3h1v1h-1zM306.25,13.3h1v1h-1zM309.35,13.3h1v1h-1zM279.9,16.4h1v1h-1zM283,16.4h1v1h-1zM286.1,16.4h1v1h-1zM289.2,16.4h1v1h-1zM292.3,16.4h1v1h-1zM295.4,16.4h1v1h-1zM298.5,16.4h1v1h-1zM301.6,16.4h1v1h-1zM304.7,16.4h1v1h-1zM307.8,16.4h1v1h-1z" fill="#6a6a6a"/>
<rect x="284.9" y="8" width="21.4" height="8.2" fill="none" stroke="#222" stroke-width="1"/>
<text x="309.6" y="15.9" font-family="'Liberation Sans', Arial, sans-serif" font-size="12.15" fill="#000" stroke="#000" stroke-width="0.2">All</text>
<clipPath id="c26"><rect x="284.9" y="26.1" width="21.4" height="8.2"/></clipPath>
<rect x="284.9" y="26.1" width="21.4" height="8.2" fill="#0a0a0a"/>
<path clip-path="url(#c26)" d="M278.7,21.75L279.75,20.7L280.8,21.75L279.75,22.8zM281.7,21.75L282.75,20.7L283.8,21.75L282.75,22.8zM284.7,21.75L285.75,20.7L286.8,21.75L285.75,22.8zM287.7,21.75L288.75,20.7L289.8,21.75L288.75,22.8zM290.7,21.75L291.75,20.7L292.8,21.75L291.75,22.8zM293.7,21.75L294.75,20.7L295.8,21.75L294.75,22.8zM296.7,21.75L297.75,20.7L298.8,21.75L297.75,22.8zM299.7,21.75L300.75,20.7L301.8,21.75L300.75,22.8zM302.7,21.75L303.75,20.7L304.8,21.75L303.75,22.8zM305.7,21.75L306.75,20.7L307.8,21.75L306.75,22.8zM280.2,23.25L281.25,22.2L282.3,23.25L281.25,24.3zM283.2,23.25L284.25,22.2L285.3,23.25L284.25,24.3zM286.2,23.25L287.25,22.2L288.3,23.25L287.25,24.3zM289.2,23.25L290.25,22.2L291.3,23.25L290.25,24.3zM292.2,23.25L293.25,22.2L294.3,23.25L293.25,24.3zM295.2,23.25L296.25,22.2L297.3,23.25L296.25,24.3zM298.2,23.25L299.25,22.2L300.3,23.25L299.25,24.3zM301.2,23.25L302.25,22.2L303.3,23.25L302.25,24.3zM304.2,23.25L305.25,22.2L306.3,23.25L305.25,24.3zM307.2,23.25L308.25,22.2L309.3,23.25L308.25,24.3zM278.7,24.75L279.75,23.7L280.8,24.75L279.75,25.8zM281.7,24.75L282.75,23.7L283.8,24.75L282.75,25.8zM284.7,24.75L285.75,23.7L286.8,24.75L285.75,25.8zM287.7,24.75L288.75,23.7L289.8,24.75L288.75,25.8zM290.7,24.75L291.75,23.7L292.8,24.75L291.75,25.8zM293.7,24.75L294.75,23.7L295.8,24.75L294.75,25.8zM296.7,24.75L297.75,23.7L298.8,24.75L297.75,25.8zM299.7,24.75L300.75,23.7L301.8,24.75L300.75,25.8zM302.7,24.75L303.75,23.7L304.8,24.75L303.75,25.8zM305.7,24.75L306.75,23.7L307.8,24.75L306.75,25.8zM280.2,26.25L281.25,25.2L282.3,26.25L281.25,27.3zM283.2,26.25L284.25,25.2L285.3,26.25L284.25,27.3zM286.2,26.25L287.25,25.2L288.3,26.25L287.25,27.3zM289.2,26.25L290.25,25.2L291.3,26.25L290.25,27.3zM292.2,26.25L293.25,25.2L294.3,26.25L293.25,27.3zM295.2,26.25L296.25,25.2L297.3,26.25L296.25,27.3zM298.2,26.25L299.25,25.2L300.3,26.25L299.25,27.3zM301.2,26.25L302.25,25.2L303.3,26.25L302.25,27.3zM304.2,26.25L305.25,25.2L306.3,26.25L305.25,27.3zM307.2,26.25L308.25,25.2L309.3,26.25L308.25,27.3zM278.7,27.75L279.75,26.7L280.8,27.75L279.75,28.8zM281.7,27.75L282.75,26.7L283.8,27.75L282.75,28.8zM284.7,27.75L285.75,26.7L286.8,27.75L285.75,28.8zM287.7,27.75L288.75,26.7L289.8,27.75L288.75,28.8zM290.7,27.75L291.75,26.7L292.8,27.75L291.75,28.8zM293.7,27.75L294.75,26.7L295.8,27.75L294.75,28.8zM296.7,27.75L297.75,26.7L298.8,27.75L297.75,28.8zM299.7,27.75L300.75,26.7L301.8,27.75L300.75,28.8zM302.7,27.75L303.75,26.7L304.8,27.75L303.75,28.8zM305.7,27.75L306.75,26.7L307.8,27.75L306.75,28.8zM280.2,29.25L281.25,28.2L282.3,29.25L281.25,30.3zM283.2,29.25L284.25,28.2L285.3,29.25L284.25,30.3zM286.2,29.25L287.25,28.2L288.3,29.25L287.25,30.3zM289.2,29.25L290.25,28.2L291.3,29.25L290.25,30.3zM292.2,29.25L293.25,28.2L294.3,29.25L293.25,30.3zM295.2,29.25L296.25,28.2L297.3,29.25L296.25,30.3zM298.2,29.25L299.25,28.2L300.3,29.25L299.25,30.3zM301.2,29.25L302.25,28.2L303.3,29.25L302.25,30.3zM304.2,29.25L305.25,28.2L306.3,29.25L305.25,30.3zM307.2,29.25L308.25,28.2L309.3,29.25L308.25,30.3zM278.7,30.75L279.75,29.7L280.8,30.75L279.75,31.8zM281.7,30.75L282.75,29.7L283.8,30.75L282.75,31.8zM284.7,30.75L285.75,29.7L286.8,30.75L285.75,31.8zM287.7,30.75L288.75,29.7L289.8,30.75L288.75,31.8zM290.7,30.75L291.75,29.7L292.8,30.75L291.75,31.8zM293.7,30.75L294.75,29.7L295.8,30.75L294.75,31.8zM296.7,30.75L297.75,29.7L298.8,30.75L297.75,31.8zM299.7,30.75L300.75,29.7L301.8,30.75L300.75,31.8zM302.7,30.75L303.75,29.7L304.8,30.75L303.75,31.8zM305.7,30.75L306.75,29.7L307.8,30.75L306.75,31.8zM280.2,32.25L281.25,31.2L282.3,32.25L281.25,33.3zM283.2,32.25L284.25,31.2L285.3,32.25L284.25,33.3zM286.2,32.25L287.25,31.2L288.3,32.25L287.25,33.3zM289.2,32.25L290.25,31.2L291.3,32.25L290.25,33.3zM292.2,32.25L293.25,31.2L294.3,32.25L293.25,33.3zM295.2,32.25L296.25,31.2L297.3,32.25L296.25,33.3zM298.2,32.25L299.25,31.2L300.3,32.25L299.25,33.3zM301.2,32.25L302.25,31.2L303.3,32.25L302.25,33.3zM304.2,32.25L305.25,31.2L306.3,32.25L305.25,33.3zM307.2,32.25L308.25,31.2L309.3,32.25L308.25,33.3zM278.7,33.75L279.75,32.7L280.8,33.75L279.75,34.8zM281.7,33.75L282.75,32.7L283.8,33.75L282.75,34.8zM284.7,33.75L285.75,32.7L286.8,33.75L285.75,34.8zM287.7,33.75L288.75,32.7L289.8,33.75L288.75,34.8zM290.7,33.75L291.75,32.7L292.8,33.75L291.75,34.8zM293.7,33.75L294.75,32.7L295.8,33.75L294.75,34.8zM296.7,33.75L297.75,32.7L298.8,33.75L297.75,34.8zM299.7,33.75L300.75,32.7L301.8,33.75L300.75,34.8zM302.7,33.75L303.75,32.7L304.8,33.75L303.75,34.8zM305.7,33.75L306.75,32.7L307.8,33.75L306.75,34.8zM280.2,35.25L281.25,34.2L282.3,35.25L281.25,36.3zM283.2,35.25L284.25,34.2L285.3,35.25L284.25,36.3zM286.2,35.25L287.25,34.2L288.3,35.25L287.25,36.3zM289.2,35.25L290.25,34.2L291.3,35.25L290.25,36.3zM292.2,35.25L293.25,34.2L294.3,35.25L293.25,36.3zM295.2,35.25L296.25,34.2L297.3,35.25L296.25,36.3zM298.2,35.25L299.25,34.2L300.3,35.25L299.25,36.3zM301.2,35.25L302.25,34.2L303.3,35.25L302.25,36.3zM304.2,35.25L305.25,34.2L306.3,35.25L305.25,36.3zM307.2,35.25L308.25,34.2L309.3,35.25L308.25,36.3zM278.7,36.75L279.75,35.7L280.8,36.75L279.75,37.8zM281.7,36.75L282.75,35.7L283.8,36.75L282.75,37.8zM284.7,36.75L285.75,35.7L286.8,36.75L285.75,37.8zM287.7,36.75L288.75,35.7L289.8,36.75L288.75,37.8zM290.7,36.75L291.75,35.7L292.8,36.75L291.75,37.8zM293.7,36.75L294.75,35.7L295.8,36.75L294.75,37.8zM296.7,36.75L297.75,35.7L298.8,36.75L297.75,37.8zM299.7,36.75L300.75,35.7L301.8,36.75L300.75,37.8zM302.7,36.75L303.75,35.7L304.8,36.75L303.75,37.8zM305.7,36.75L306.75,35.7L307.8,36.75L306.75,37.8z" fill="#fff"/>
<rect x="284.9" y="26.1" width="21.4" height="8.2" fill="none" stroke="#222" stroke-width="1"/>
<text x="309.6" y="34.3" font-family="'Liberation Sans', Arial, sans-serif" font-size="12.15" fill="#000" stroke="#000" stroke-width="0.2">minus (Fe def)</text>
<clipPath id="c27"><rect x="284.9" y="44" width="21.4" height="8.2"/></clipPath>
<path clip-path="url(#c27)" d="M283.9,42.8L307.3,19.4M283.9,46.1L307.3,22.7M283.9,49.4L307.3,26M283.9,52.7L307.3,29.3M283.9,56L307.3,32.6M283.9,59.3L307.3,35.9M283.9,62.6L307.3,39.2M283.9,65.9L307.3,42.5M283.9,69.2L307.3,45.8M283.9,72.5L307.3,49.1M283.9,75.8L307.3,52.4" stroke="#1c1c1c" stroke-width="1.01" fill="none"/>
<rect x="284.9" y="44" width="21.4" height="8.2" fill="none" stroke="#222" stroke-width="1"/>
<text x="309.6" y="51.8" font-family="'Liberation Sans', Arial, sans-serif" font-size="12.15" fill="#000" stroke="#000" stroke-width="0.2">minus (Fe def &amp; Thal)</text>
<clipPath id="c28"><rect x="284.9" y="61.7" width="21.4" height="8.2"/></clipPath>
<path clip-path="url(#c28)" d="M283.9,36.4L307.3,59.8M283.9,39.7L307.3,63.1M283.9,43L307.3,66.4M283.9,46.3L307.3,69.7M283.9,49.6L307.3,73M283.9,52.9L307.3,76.3M283.9,56.2L307.3,79.6M283.9,59.5L307.3,82.9M283.9,62.8L307.3,86.2M283.9,66.1L307.3,89.5M283.9,69.4L307.3,92.8" stroke="#1c1c1c" stroke-width="1.01" fill="none"/>
<rect x="284.9" y="61.7" width="21.4" height="8.2" fill="none" stroke="#222" stroke-width="1"/>
<text x="309.6" y="69.7" font-family="'Liberation Sans', Arial, sans-serif" font-size="12.15" fill="#000" stroke="#000" stroke-width="0.2">minus (Fe def, Thal, &amp; S)</text>
<clipPath id="c29"><rect x="284.9" y="80.5" width="21.4" height="8.2"/></clipPath>
<path clip-path="url(#c29)" d="M283.9,72.72H307.3M283.9,76.68H307.3M283.9,80.64H307.3M283.9,84.6H307.3M283.9,88.56H307.3M283.9,92.52H307.3" stroke="#111" stroke-width="1.01" fill="none"/>
<rect x="284.9" y="80.5" width="21.4" height="8.2" fill="none" stroke="#222" stroke-width="1"/>
<text x="309.6" y="89" font-family="'Liberation Sans', Arial, sans-serif" font-size="12.15" fill="#000" stroke="#000" stroke-width="0.2">Minus (Fe def, Thal, S, &amp; Creat)</text>
<clipPath id="c30"><rect x="284.9" y="97.8" width="21.4" height="8.2"/></clipPath>
<path clip-path="url(#c30)" d="M283.9,93.34H307.3M283.9,97.62H307.3M283.9,101.9H307.3M283.9,106.18H307.3M280.62,96.8V107M284.9,96.8V107M289.18,96.8V107M293.46,96.8V107M297.74,96.8V107M302.02,96.8V107M306.3,96.8V107M310.58,96.8V107" stroke="#111" stroke-width="1.01" fill="none"/>
<rect x="284.9" y="97.8" width="21.4" height="8.2" fill="none" stroke="#222" stroke-width="1"/>
<text x="309.6" y="106" font-family="'Liberation Sans', Arial, sans-serif" font-size="12.15" fill="#000" stroke="#000" stroke-width="0.2">Minus (Fe def, Thal, S, Creat, &amp; ACE-I)</text>
<clipPath id="c31"><rect x="53.6" y="400.7" width="8.9" height="19.6"/></clipPath>
<path clip-path="url(#c31)" d="M48.75,397.6h1v1h-1zM51.85,397.6h1v1h-1zM54.95,397.6h1v1h-1zM58.05,397.6h1v1h-1zM61.15,397.6h1v1h-1zM64.25,397.6h1v1h-1zM50.3,400.7h1v1h-1zM53.4,400.7h1v1h-1zM56.5,400.7h1v1h-1zM59.6,400.7h1v1h-1zM62.7,400.7h1v1h-1zM48.75,403.8h1v1h-1zM51.85,403.8h1v1h-1zM54.95,403.8h1v1h-1zM58.05,403.8h1v1h-1zM61.15,403.8h1v1h-1zM64.25,403.8h1v1h-1zM50.3,406.9h1v1h-1zM53.4,406.9h1v1h-1zM56.5,406.9h1v1h-1zM59.6,406.9h1v1h-1zM62.7,406.9h1v1h-1zM48.75,410h1v1h-1zM51.85,410h1v1h-1zM54.95,410h1v1h-1zM58.05,410h1v1h-1zM61.15,410h1v1h-1zM64.25,410h1v1h-1zM50.3,413.1h1v1h-1zM53.4,413.1h1v1h-1zM56.5,413.1h1v1h-1zM59.6,413.1h1v1h-1zM62.7,413.1h1v1h-1zM48.75,416.2h1v1h-1zM51.85,416.2h1v1h-1zM54.95,416.2h1v1h-1zM58.05,416.2h1v1h-1zM61.15,416.2h1v1h-1zM64.25,416.2h1v1h-1zM50.3,419.3h1v1h-1zM53.4,419.3h1v1h-1zM56.5,419.3h1v1h-1zM59.6,419.3h1v1h-1zM62.7,419.3h1v1h-1zM48.75,422.4h1v1h-1zM51.85,422.4h1v1h-1zM54.95,422.4h1v1h-1zM58.05,422.4h1v1h-1zM61.15,422.4h1v1h-1zM64.25,422.4h1v1h-1z" fill="#6a6a6a"/>
<clipPath id="c32"><rect x="53.6" y="432" width="8.9" height="15.7"/></clipPath>
<path clip-path="url(#c32)" d="M48.75,428.6h1v1h-1zM51.85,428.6h1v1h-1zM54.95,428.6h1v1h-1zM58.05,428.6h1v1h-1zM61.15,428.6h1v1h-1zM64.25,428.6h1v1h-1zM50.3,431.7h1v1h-1zM53.4,431.7h1v1h-1zM56.5,431.7h1v1h-1zM59.6,431.7h1v1h-1zM62.7,431.7h1v1h-1zM48.75,434.8h1v1h-1zM51.85,434.8h1v1h-1zM54.95,434.8h1v1h-1zM58.05,434.8h1v1h-1zM61.15,434.8h1v1h-1zM64.25,434.8h1v1h-1zM50.3,437.9h1v1h-1zM53.4,437.9h1v1h-1zM56.5,437.9h1v1h-1zM59.6,437.9h1v1h-1zM62.7,437.9h1v1h-1zM48.75,441h1v1h-1zM51.85,441h1v1h-1zM54.95,441h1v1h-1zM58.05,441h1v1h-1zM61.15,441h1v1h-1zM64.25,441h1v1h-1zM50.3,444.1h1v1h-1zM53.4,444.1h1v1h-1zM56.5,444.1h1v1h-1zM59.6,444.1h1v1h-1zM62.7,444.1h1v1h-1zM48.75,447.2h1v1h-1zM51.85,447.2h1v1h-1zM54.95,447.2h1v1h-1zM58.05,447.2h1v1h-1zM61.15,447.2h1v1h-1zM64.25,447.2h1v1h-1zM50.3,450.3h1v1h-1zM53.4,450.3h1v1h-1zM56.5,450.3h1v1h-1zM59.6,450.3h1v1h-1zM62.7,450.3h1v1h-1z" fill="#6a6a6a"/>
<path d="M53.6,420.3 V400.7 H62.5 V420.3 M53.6,432 V447.7 M62.5,432 V447.7" stroke="#222" stroke-width="1" fill="none"/>
<path d="M58.05,400.2 V389 M55.35,389 H60.75" stroke="#000" stroke-width="1.3" fill="none"/>
<clipPath id="c33"><rect x="67.6" y="343.7" width="8.9" height="76.6"/></clipPath>
<path clip-path="url(#c33)" d="M62.75,340.6h1v1h-1zM65.85,340.6h1v1h-1zM68.95,340.6h1v1h-1zM72.05,340.6h1v1h-1zM75.15,340.6h1v1h-1zM78.25,340.6h1v1h-1zM64.3,343.7h1v1h-1zM67.4,343.7h1v1h-1zM70.5,343.7h1v1h-1zM73.6,343.7h1v1h-1zM76.7,343.7h1v1h-1zM62.75,346.8h1v1h-1zM65.85,346.8h1v1h-1zM68.95,346.8h1v1h-1zM72.05,346.8h1v1h-1zM75.15,346.8h1v1h-1zM78.25,346.8h1v1h-1zM64.3,349.9h1v1h-1zM67.4,349.9h1v1h-1zM70.5,349.9h1v1h-1zM73.6,349.9h1v1h-1zM76.7,349.9h1v1h-1zM62.75,353h1v1h-1zM65.85,353h1v1h-1zM68.95,353h1v1h-1zM72.05,353h1v1h-1zM75.15,353h1v1h-1zM78.25,353h1v1h-1zM64.3,356.1h1v1h-1zM67.4,356.1h1v1h-1zM70.5,356.1h1v1h-1zM73.6,356.1h1v1h-1zM76.7,356.1h1v1h-1zM62.75,359.2h1v1h-1zM65.85,359.2h1v1h-1zM68.95,359.2h1v1h-1zM72.05,359.2h1v1h-1zM75.15,359.2h1v1h-1zM78.25,359.2h1v1h-1zM64.3,362.3h1v1h-1zM67.4,362.3h1v1h-1zM70.5,362.3h1v1h-1zM73.6,362.3h1v1h-1zM76.7,362.3h1v1h-1zM62.75,365.4h1v1h-1zM65.85,365.4h1v1h-1zM68.95,365.4h1v1h-1zM72.05,365.4h1v1h-1zM75.15,365.4h1v1h-1zM78.25,365.4h1v1h-1zM64.3,368.5h1v1h-1zM67.4,368.5h1v1h-1zM70.5,368.5h1v1h-1zM73.6,368.5h1v1h-1zM76.7,368.5h1v1h-1zM62.75,371.6h1v1h-1zM65.85,371.6h1v1h-1zM68.95,371.6h1v1h-1zM72.05,371.6h1v1h-1zM75.15,371.6h1v1h-1zM78.25,371.6h1v1h-1zM64.3,374.7h1v1h-1zM67.4,374.7h1v1h-1zM70.5,374.7h1v1h-1zM73.6,374.7h1v1h-1zM76.7,374.7h1v1h-1zM62.75,377.8h1v1h-1zM65.85,377.8h1v1h-1zM68.95,377.8h1v1h-1zM72.05,377.8h1v1h-1zM75.15,377.8h1v1h-1zM78.25,377.8h1v1h-1zM64.3,380.9h1v1h-1zM67.4,380.9h1v1h-1zM70.5,380.9h1v1h-1zM73.6,380.9h1v1h-1zM76.7,380.9h1v1h-1zM62.75,384h1v1h-1zM65.85,384h1v1h-1zM68.95,384h1v1h-1zM72.05,384h1v1h-1zM75.15,384h1v1h-1zM78.25,384h1v1h-1zM64.3,387.1h1v1h-1zM67.4,387.1h1v1h-1zM70.5,387.1h1v1h-1zM73.6,387.1h1v1h-1zM76.7,387.1h1v1h-1zM62.75,390.2h1v1h-1zM65.85,390.2h1v1h-1zM68.95,390.2h1v1h-1zM72.05,390.2h1v1h-1zM75.15,390.2h1v1h-1zM78.25,390.2h1v1h-1zM64.3,393.3h1v1h-1zM67.4,393.3h1v1h-1zM70.5,393.3h1v1h-1zM73.6,393.3h1v1h-1zM76.7,393.3h1v1h-1zM62.75,396.4h1v1h-1zM65.85,396.4h1v1h-1zM68.95,396.4h1v1h-1zM72.05,396.4h1v1h-1zM75.15,396.4h1v1h-1zM78.25,396.4h1v1h-1zM64.3,399.5h1v1h-1zM67.4,399.5h1v1h-1zM70.5,399.5h1v1h-1zM73.6,399.5h1v1h-1zM76.7,399.5h1v1h-1zM62.75,402.6h1v1h-1zM65.85,402.6h1v1h-1zM68.95,402.6h1v1h-1zM72.05,402.6h1v1h-1zM75.15,402.6h1v1h-1zM78.25,402.6h1v1h-1zM64.3,405.7h1v1h-1zM67.4,405.7h1v1h-1zM70.5,405.7h1v1h-1zM73.6,405.7h1v1h-1zM76.7,405.7h1v1h-1zM62.75,408.8h1v1h-1zM65.85,408.8h1v1h-1zM68.95,408.8h1v1h-1zM72.05,408.8h1v1h-1zM75.15,408.8h1v1h-1zM78.25,408.8h1v1h-1zM64.3,411.9h1v1h-1zM67.4,411.9h1v1h-1zM70.5,411.9h1v1h-1zM73.6,411.9h1v1h-1zM76.7,411.9h1v1h-1zM62.75,415h1v1h-1zM65.85,415h1v1h-1zM68.95,415h1v1h-1zM72.05,415h1v1h-1zM75.15,415h1v1h-1zM78.25,415h1v1h-1zM64.3,418.1h1v1h-1zM67.4,418.1h1v1h-1zM70.5,418.1h1v1h-1zM73.6,418.1h1v1h-1zM76.7,418.1h1v1h-1zM62.75,421.2h1v1h-1zM65.85,421.2h1v1h-1zM68.95,421.2h1v1h-1zM72.05,421.2h1v1h-1zM75.15,421.2h1v1h-1zM78.25,421.2h1v1h-1z" fill="#6a6a6a"/>
<clipPath id="c34"><rect x="67.6" y="432" width="8.9" height="15.7"/></clipPath>
<path clip-path="url(#c34)" d="M62.75,427.4h1v1h-1zM65.85,427.4h1v1h-1zM68.95,427.4h1v1h-1zM72.05,427.4h1v1h-1zM75.15,427.4h1v1h-1zM78.25,427.4h1v1h-1zM64.3,430.5h1v1h-1zM67.4,430.5h1v1h-1zM70.5,430.5h1v1h-1zM73.6,430.5h1v1h-1zM76.7,430.5h1v1h-1zM62.75,433.6h1v1h-1zM65.85,433.6h1v1h-1zM68.95,433.6h1v1h-1zM72.05,433.6h1v1h-1zM75.15,433.6h1v1h-1zM78.25,433.6h1v1h-1zM64.3,436.7h1v1h-1zM67.4,436.7h1v1h-1zM70.5,436.7h1v1h-1zM73.6,436.7h1v1h-1zM76.7,436.7h1v1h-1zM62.75,439.8h1v1h-1zM65.85,439.8h1v1h-1zM68.95,439.8h1v1h-1zM72.05,439.8h1v1h-1zM75.15,439.8h1v1h-1zM78.25,439.8h1v1h-1zM64.3,442.9h1v1h-1zM67.4,442.9h1v1h-1zM70.5,442.9h1v1h-1zM73.6,442.9h1v1h-1zM76.7,442.9h1v1h-1zM62.75,446h1v1h-1zM65.85,446h1v1h-1zM68.95,446h1v1h-1zM72.05,446h1v1h-1zM75.15,446h1v1h-1zM78.25,446h1v1h-1zM64.3,449.1h1v1h-1zM67.4,449.1h1v1h-1zM70.5,449.1h1v1h-1zM73.6,449.1h1v1h-1zM76.7,449.1h1v1h-1z" fill="#6a6a6a"/>
<path d="M67.6,420.3 V343.7 H76.5 V420.3 M67.6,432 V447.7 M76.5,432 V447.7" stroke="#222" stroke-width="1" fill="none"/>
<path d="M72.05,343.2 V342.2 M69.35,342.2 H74.75" stroke="#000" stroke-width="1.7" fill="none"/>
<clipPath id="c35"><rect x="90.97" y="394.5" width="8.9" height="25.8"/></clipPath>
<rect x="90.97" y="394.5" width="8.9" height="25.8" fill="#0a0a0a"/>
<path clip-path="url(#c35)" d="M86.7,390.75L87.75,389.7L88.8,390.75L87.75,391.8zM89.7,390.75L90.75,389.7L91.8,390.75L90.75,391.8zM92.7,390.75L93.75,389.7L94.8,390.75L93.75,391.8zM95.7,390.75L96.75,389.7L97.8,390.75L96.75,391.8zM98.7,390.75L99.75,389.7L100.8,390.75L99.75,391.8zM101.7,390.75L102.75,389.7L103.8,390.75L102.75,391.8zM88.2,392.25L89.25,391.2L90.3,392.25L89.25,393.3zM91.2,392.25L92.25,391.2L93.3,392.25L92.25,393.3zM94.2,392.25L95.25,391.2L96.3,392.25L95.25,393.3zM97.2,392.25L98.25,391.2L99.3,392.25L98.25,393.3zM100.2,392.25L101.25,391.2L102.3,392.25L101.25,393.3zM86.7,393.75L87.75,392.7L88.8,393.75L87.75,394.8zM89.7,393.75L90.75,392.7L91.8,393.75L90.75,394.8zM92.7,393.75L93.75,392.7L94.8,393.75L93.75,394.8zM95.7,393.75L96.75,392.7L97.8,393.75L96.75,394.8zM98.7,393.75L99.75,392.7L100.8,393.75L99.75,394.8zM101.7,393.75L102.75,392.7L103.8,393.75L102.75,394.8zM88.2,395.25L89.25,394.2L90.3,395.25L89.25,396.3zM91.2,395.25L92.25,394.2L93.3,395.25L92.25,396.3zM94.2,395.25L95.25,394.2L96.3,395.25L95.25,396.3zM97.2,395.25L98.25,394.2L99.3,395.25L98.25,396.3zM100.2,395.25L101.25,394.2L102.3,395.25L101.25,396.3zM86.7,396.75L87.75,395.7L88.8,396.75L87.75,397.8zM89.7,396.75L90.75,395.7L91.8,396.75L90.75,397.8zM92.7,396.75L93.75,395.7L94.8,396.75L93.75,397.8zM95.7,396.75L96.75,395.7L97.8,396.75L96.75,397.8zM98.7,396.75L99.75,395.7L100.8,396.75L99.75,397.8zM101.7,396.75L102.75,395.7L103.8,396.75L102.75,397.8zM88.2,398.25L89.25,397.2L90.3,398.25L89.25,399.3zM91.2,398.25L92.25,397.2L93.3,398.25L92.25,399.3zM94.2,398.25L95.25,397.2L96.3,398.25L95.25,399.3zM97.2,398.25L98.25,397.2L99.3,398.25L98.25,399.3zM100.2,398.25L101.25,397.2L102.3,398.25L101.25,399.3zM86.7,399.75L87.75,398.7L88.8,399.75L87.75,400.8zM89.7,399.75L90.75,398.7L91.8,399.75L90.75,400.8zM92.7,399.75L93.75,398.7L94.8,399.75L93.75,400.8zM95.7,399.75L96.75,398.7L97.8,399.75L96.75,400.8zM98.7,399.75L99.75,398.7L100.8,399.75L99.75,400.8zM101.7,399.75L102.75,398.7L103.8,399.75L102.75,400.8zM88.2,401.25L89.25,400.2L90.3,401.25L89.25,402.3zM91.2,401.25L92.25,400.2L93.3,401.25L92.25,402.3zM94.2,401.25L95.25,400.2L96.3,401.25L95.25,402.3zM97.2,401.25L98.25,400.2L99.3,401.25L98.25,402.3zM100.2,401.25L101.25,400.2L102.3,401.25L101.25,402.3zM86.7,402.75L87.75,401.7L88.8,402.75L87.75,403.8zM89.7,402.75L90.75,401.7L91.8,402.75L90.75,403.8zM92.7,402.75L93.75,401.7L94.8,402.75L93.75,403.8zM95.7,402.75L96.75,401.7L97.8,402.75L96.75,403.8zM98.7,402.75L99.75,401.7L100.8,402.75L99.75,403.8zM101.7,402.75L102.75,401.7L103.8,402.75L102.75,403.8zM88.2,404.25L89.25,403.2L90.3,404.25L89.25,405.3zM91.2,404.25L92.25,403.2L93.3,404.25L92.25,405.3zM94.2,404.25L95.25,403.2L96.3,404.25L95.25,405.3zM97.2,404.25L98.25,403.2L99.3,404.25L98.25,405.3zM100.2,404.25L101.25,403.2L102.3,404.25L101.25,405.3zM86.7,405.75L87.75,404.7L88.8,405.75L87.75,406.8zM89.7,405.75L90.75,404.7L91.8,405.75L90.75,406.8zM92.7,405.75L93.75,404.7L94.8,405.75L93.75,406.8zM95.7,405.75L96.75,404.7L97.8,405.75L96.75,406.8zM98.7,405.75L99.75,404.7L100.8,405.75L99.75,406.8zM101.7,405.75L102.75,404.7L103.8,405.75L102.75,406.8zM88.2,407.25L89.25,406.2L90.3,407.25L89.25,408.3zM91.2,407.25L92.25,406.2L93.3,407.25L92.25,408.3zM94.2,407.25L95.25,406.2L96.3,407.25L95.25,408.3zM97.2,407.25L98.25,406.2L99.3,407.25L98.25,408.3zM100.2,407.25L101.25,406.2L102.3,407.25L101.25,408.3zM86.7,408.75L87.75,407.7L88.8,408.75L87.75,409.8zM89.7,408.75L90.75,407.7L91.8,408.75L90.75,409.8zM92.7,408.75L93.75,407.7L94.8,408.75L93.75,409.8zM95.7,408.75L96.75,407.7L97.8,408.75L96.75,409.8zM98.7,408.75L99.75,407.7L100.8,408.75L99.75,409.8zM101.7,408.75L102.75,407.7L103.8,408.75L102.75,409.8zM88.2,410.25L89.25,409.2L90.3,410.25L89.25,411.3zM91.2,410.25L92.25,409.2L93.3,410.25L92.25,411.3zM94.2,410.25L95.25,409.2L96.3,410.25L95.25,411.3zM97.2,410.25L98.25,409.2L99.3,410.25L98.25,411.3zM100.2,410.25L101.25,409.2L102.3,410.25L101.25,411.3zM86.7,411.75L87.75,410.7L88.8,411.75L87.75,412.8zM89.7,411.75L90.75,410.7L91.8,411.75L90.75,412.8zM92.7,411.75L93.75,410.7L94.8,411.75L93.75,412.8zM95.7,411.75L96.75,410.7L97.8,411.75L96.75,412.8zM98.7,411.75L99.75,410.7L100.8,411.75L99.75,412.8zM101.7,411.75L102.75,410.7L103.8,411.75L102.75,412.8zM88.2,413.25L89.25,412.2L90.3,413.25L89.25,414.3zM91.2,413.25L92.25,412.2L93.3,413.25L92.25,414.3zM94.2,413.25L95.25,412.2L96.3,413.25L95.25,414.3zM97.2,413.25L98.25,412.2L99.3,413.25L98.25,414.3zM100.2,413.25L101.25,412.2L102.3,413.25L101.25,414.3zM86.7,414.75L87.75,413.7L88.8,414.75L87.75,415.8zM89.7,414.75L90.75,413.7L91.8,414.75L90.75,415.8zM92.7,414.75L93.75,413.7L94.8,414.75L93.75,415.8zM95.7,414.75L96.75,413.7L97.8,414.75L96.75,415.8zM98.7,414.75L99.75,413.7L100.8,414.75L99.75,415.8zM101.7,414.75L102.75,413.7L103.8,414.75L102.75,415.8zM88.2,416.25L89.25,415.2L90.3,416.25L89.25,417.3zM91.2,416.25L92.25,415.2L93.3,416.25L92.25,417.3zM94.2,416.25L95.25,415.2L96.3,416.25L95.25,417.3zM97.2,416.25L98.25,415.2L99.3,416.25L98.25,417.3zM100.2,416.25L101.25,415.2L102.3,416.25L101.25,417.3zM86.7,417.75L87.75,416.7L88.8,417.75L87.75,418.8zM89.7,417.75L90.75,416.7L91.8,417.75L90.75,418.8zM92.7,417.75L93.75,416.7L94.8,417.75L93.75,418.8zM95.7,417.75L96.75,416.7L97.8,417.75L96.75,418.8zM98.7,417.75L99.75,416.7L100.8,417.75L99.75,418.8zM101.7,417.75L102.75,416.7L103.8,417.75L102.75,418.8zM88.2,419.25L89.25,418.2L90.3,419.25L89.25,420.3zM91.2,419.25L92.25,418.2L93.3,419.25L92.25,420.3zM94.2,419.25L95.25,418.2L96.3,419.25L95.25,420.3zM97.2,419.25L98.25,418.2L99.3,419.25L98.25,420.3zM100.2,419.25L101.25,418.2L102.3,419.25L101.25,420.3zM86.7,420.75L87.75,419.7L88.8,420.75L87.75,421.8zM89.7,420.75L90.75,419.7L91.8,420.75L90.75,421.8zM92.7,420.75L93.75,419.7L94.8,420.75L93.75,421.8zM95.7,420.75L96.75,419.7L97.8,420.75L96.75,421.8zM98.7,420.75L99.75,419.7L100.8,420.75L99.75,421.8zM101.7,420.75L102.75,419.7L103.8,420.75L102.75,421.8zM88.2,422.25L89.25,421.2L90.3,422.25L89.25,423.3zM91.2,422.25L92.25,421.2L93.3,422.25L92.25,423.3zM94.2,422.25L95.25,421.2L96.3,422.25L95.25,423.3zM97.2,422.25L98.25,421.2L99.3,422.25L98.25,423.3zM100.2,422.25L101.25,421.2L102.3,422.25L101.25,423.3z" fill="#fff"/>
<clipPath id="c36"><rect x="90.97" y="432" width="8.9" height="15.7"/></clipPath>
<rect x="90.97" y="432" width="8.9" height="15.7" fill="#0a0a0a"/>
<path clip-path="url(#c36)" d="M86.7,426.75L87.75,425.7L88.8,426.75L87.75,427.8zM89.7,426.75L90.75,425.7L91.8,426.75L90.75,427.8zM92.7,426.75L93.75,425.7L94.8,426.75L93.75,427.8zM95.7,426.75L96.75,425.7L97.8,426.75L96.75,427.8zM98.7,426.75L99.75,425.7L100.8,426.75L99.75,427.8zM101.7,426.75L102.75,425.7L103.8,426.75L102.75,427.8zM88.2,428.25L89.25,427.2L90.3,428.25L89.25,429.3zM91.2,428.25L92.25,427.2L93.3,428.25L92.25,429.3zM94.2,428.25L95.25,427.2L96.3,428.25L95.25,429.3zM97.2,428.25L98.25,427.2L99.3,428.25L98.25,429.3zM100.2,428.25L101.25,427.2L102.3,428.25L101.25,429.3zM86.7,429.75L87.75,428.7L88.8,429.75L87.75,430.8zM89.7,429.75L90.75,428.7L91.8,429.75L90.75,430.8zM92.7,429.75L93.75,428.7L94.8,429.75L93.75,430.8zM95.7,429.75L96.75,428.7L97.8,429.75L96.75,430.8zM98.7,429.75L99.75,428.7L100.8,429.75L99.75,430.8zM101.7,429.75L102.75,428.7L103.8,429.75L102.75,430.8zM88.2,431.25L89.25,430.2L90.3,431.25L89.25,432.3zM91.2,431.25L92.25,430.2L93.3,431.25L92.25,432.3zM94.2,431.25L95.25,430.2L96.3,431.25L95.25,432.3zM97.2,431.25L98.25,430.2L99.3,431.25L98.25,432.3zM100.2,431.25L101.25,430.2L102.3,431.25L101.25,432.3zM86.7,432.75L87.75,431.7L88.8,432.75L87.75,433.8zM89.7,432.75L90.75,431.7L91.8,432.75L90.75,433.8zM92.7,432.75L93.75,431.7L94.8,432.75L93.75,433.8zM95.7,432.75L96.75,431.7L97.8,432.75L96.75,433.8zM98.7,432.75L99.75,431.7L100.8,432.75L99.75,433.8zM101.7,432.75L102.75,431.7L103.8,432.75L102.75,433.8zM88.2,434.25L89.25,433.2L90.3,434.25L89.25,435.3zM91.2,434.25L92.25,433.2L93.3,434.25L92.25,435.3zM94.2,434.25L95.25,433.2L96.3,434.25L95.25,435.3zM97.2,434.25L98.25,433.2L99.3,434.25L98.25,435.3zM100.2,434.25L101.25,433.2L102.3,434.25L101.25,435.3zM86.7,435.75L87.75,434.7L88.8,435.75L87.75,436.8zM89.7,435.75L90.75,434.7L91.8,435.75L90.75,436.8zM92.7,435.75L93.75,434.7L94.8,435.75L93.75,436.8zM95.7,435.75L96.75,434.7L97.8,435.75L96.75,436.8zM98.7,435.75L99.75,434.7L100.8,435.75L99.75,436.8zM101.7,435.75L102.75,434.7L103.8,435.75L102.75,436.8zM88.2,437.25L89.25,436.2L90.3,437.25L89.25,438.3zM91.2,437.25L92.25,436.2L93.3,437.25L92.25,438.3zM94.2,437.25L95.25,436.2L96.3,437.25L95.25,438.3zM97.2,437.25L98.25,436.2L99.3,437.25L98.25,438.3zM100.2,437.25L101.25,436.2L102.3,437.25L101.25,438.3zM86.7,438.75L87.75,437.7L88.8,438.75L87.75,439.8zM89.7,438.75L90.75,437.7L91.8,438.75L90.75,439.8zM92.7,438.75L93.75,437.7L94.8,438.75L93.75,439.8zM95.7,438.75L96.75,437.7L97.8,438.75L96.75,439.8zM98.7,438.75L99.75,437.7L100.8,438.75L99.75,439.8zM101.7,438.75L102.75,437.7L103.8,438.75L102.75,439.8zM88.2,440.25L89.25,439.2L90.3,440.25L89.25,441.3zM91.2,440.25L92.25,439.2L93.3,440.25L92.25,441.3zM94.2,440.25L95.25,439.2L96.3,440.25L95.25,441.3zM97.2,440.25L98.25,439.2L99.3,440.25L98.25,441.3zM100.2,440.25L101.25,439.2L102.3,440.25L101.25,441.3zM86.7,441.75L87.75,440.7L88.8,441.75L87.75,442.8zM89.7,441.75L90.75,440.7L91.8,441.75L90.75,442.8zM92.7,441.75L93.75,440.7L94.8,441.75L93.75,442.8zM95.7,441.75L96.75,440.7L97.8,441.75L96.75,442.8zM98.7,441.75L99.75,440.7L100.8,441.75L99.75,442.8zM101.7,441.75L102.75,440.7L103.8,441.75L102.75,442.8zM88.2,443.25L89.25,442.2L90.3,443.25L89.25,444.3zM91.2,443.25L92.25,442.2L93.3,443.25L92.25,444.3zM94.2,443.25L95.25,442.2L96.3,443.25L95.25,444.3zM97.2,443.25L98.25,442.2L99.3,443.25L98.25,444.3zM100.2,443.25L101.25,442.2L102.3,443.25L101.25,444.3zM86.7,444.75L87.75,443.7L88.8,444.75L87.75,445.8zM89.7,444.75L90.75,443.7L91.8,444.75L90.75,445.8zM92.7,444.75L93.75,443.7L94.8,444.75L93.75,445.8zM95.7,444.75L96.75,443.7L97.8,444.75L96.75,445.8zM98.7,444.75L99.75,443.7L100.8,444.75L99.75,445.8zM101.7,444.75L102.75,443.7L103.8,444.75L102.75,445.8zM88.2,446.25L89.25,445.2L90.3,446.25L89.25,447.3zM91.2,446.25L92.25,445.2L93.3,446.25L92.25,447.3zM94.2,446.25L95.25,445.2L96.3,446.25L95.25,447.3zM97.2,446.25L98.25,445.2L99.3,446.25L98.25,447.3zM100.2,446.25L101.25,445.2L102.3,446.25L101.25,447.3zM86.7,447.75L87.75,446.7L88.8,447.75L87.75,448.8zM89.7,447.75L90.75,446.7L91.8,447.75L90.75,448.8zM92.7,447.75L93.75,446.7L94.8,447.75L93.75,448.8zM95.7,447.75L96.75,446.7L97.8,447.75L96.75,448.8zM98.7,447.75L99.75,446.7L100.8,447.75L99.75,448.8zM101.7,447.75L102.75,446.7L103.8,447.75L102.75,448.8zM88.2,449.25L89.25,448.2L90.3,449.25L89.25,450.3zM91.2,449.25L92.25,448.2L93.3,449.25L92.25,450.3zM94.2,449.25L95.25,448.2L96.3,449.25L95.25,450.3zM97.2,449.25L98.25,448.2L99.3,449.25L98.25,450.3zM100.2,449.25L101.25,448.2L102.3,449.25L101.25,450.3z" fill="#fff"/>
<path d="M90.97,420.3 V394.5 H99.87 V420.3 M90.97,432 V447.7 M99.87,432 V447.7" stroke="#222" stroke-width="1" fill="none"/>
<path d="M95.42,394 V382.6 M92.72,382.6 H98.12" stroke="#000" stroke-width="1.3" fill="none"/>
<clipPath id="c37"><rect x="104.97" y="339.2" width="8.9" height="81.1"/></clipPath>
<rect x="104.97" y="339.2" width="8.9" height="81.1" fill="#0a0a0a"/>
<path clip-path="url(#c37)" d="M98.7,333.75L99.75,332.7L100.8,333.75L99.75,334.8zM101.7,333.75L102.75,332.7L103.8,333.75L102.75,334.8zM104.7,333.75L105.75,332.7L106.8,333.75L105.75,334.8zM107.7,333.75L108.75,332.7L109.8,333.75L108.75,334.8zM110.7,333.75L111.75,332.7L112.8,333.75L111.75,334.8zM113.7,333.75L114.75,332.7L115.8,333.75L114.75,334.8zM100.2,335.25L101.25,334.2L102.3,335.25L101.25,336.3zM103.2,335.25L104.25,334.2L105.3,335.25L104.25,336.3zM106.2,335.25L107.25,334.2L108.3,335.25L107.25,336.3zM109.2,335.25L110.25,334.2L111.3,335.25L110.25,336.3zM112.2,335.25L113.25,334.2L114.3,335.25L113.25,336.3zM115.2,335.25L116.25,334.2L117.3,335.25L116.25,336.3zM98.7,336.75L99.75,335.7L100.8,336.75L99.75,337.8zM101.7,336.75L102.75,335.7L103.8,336.75L102.75,337.8zM104.7,336.75L105.75,335.7L106.8,336.75L105.75,337.8zM107.7,336.75L108.75,335.7L109.8,336.75L108.75,337.8zM110.7,336.75L111.75,335.7L112.8,336.75L111.75,337.8zM113.7,336.75L114.75,335.7L115.8,336.75L114.75,337.8zM100.2,338.25L101.25,337.2L102.3,338.25L101.25,339.3zM103.2,338.25L104.25,337.2L105.3,338.25L104.25,339.3zM106.2,338.25L107.25,337.2L108.3,338.25L107.25,339.3zM109.2,338.25L110.25,337.2L111.3,338.25L110.25,339.3zM112.2,338.25L113.25,337.2L114.3,338.25L113.25,339.3zM115.2,338.25L116.25,337.2L117.3,338.25L116.25,339.3zM98.7,339.75L99.75,338.7L100.8,339.75L99.75,340.8zM101.7,339.75L102.75,338.7L103.8,339.75L102.75,340.8zM104.7,339.75L105.75,338.7L106.8,339.75L105.75,340.8zM107.7,339.75L108.75,338.7L109.8,339.75L108.75,340.8zM110.7,339.75L111.75,338.7L112.8,339.75L111.75,340.8zM113.7,339.75L114.75,338.7L115.8,339.75L114.75,340.8zM100.2,341.25L101.25,340.2L102.3,341.25L101.25,342.3zM103.2,341.25L104.25,340.2L105.3,341.25L104.25,342.3zM106.2,341.25L107.25,340.2L108.3,341.25L107.25,342.3zM109.2,341.25L110.25,340.2L111.3,341.25L110.25,342.3zM112.2,341.25L113.25,340.2L114.3,341.25L113.25,342.3zM115.2,341.25L116.25,340.2L117.3,341.25L116.25,342.3zM98.7,342.75L99.75,341.7L100.8,342.75L99.75,343.8zM101.7,342.75L102.75,341.7L103.8,342.75L102.75,343.8zM104.7,342.75L105.75,341.7L106.8,342.75L105.75,343.8zM107.7,342.75L108.75,341.7L109.8,342.75L108.75,343.8zM110.7,342.75L111.75,341.7L112.8,342.75L111.75,343.8zM113.7,342.75L114.75,341.7L115.8,342.75L114.75,343.8zM100.2,344.25L101.25,343.2L102.3,344.25L101.25,345.3zM103.2,344.25L104.25,343.2L105.3,344.25L104.25,345.3zM106.2,344.25L107.25,343.2L108.3,344.25L107.25,345.3zM109.2,344.25L110.25,343.2L111.3,344.25L110.25,345.3zM112.2,344.25L113.25,343.2L114.3,344.25L113.25,345.3zM115.2,344.25L116.25,343.2L117.3,344.25L116.25,345.3zM98.7,345.75L99.75,344.7L100.8,345.75L99.75,346.8zM101.7,345.75L102.75,344.7L103.8,345.75L102.75,346.8zM104.7,345.75L105.75,344.7L106.8,345.75L105.75,346.8zM107.7,345.75L108.75,344.7L109.8,345.75L108.75,346.8zM110.7,345.75L111.75,344.7L112.8,345.75L111.75,346.8zM113.7,345.75L114.75,344.7L115.8,345.75L114.75,346.8zM100.2,347.25L101.25,346.2L102.3,347.25L101.25,348.3zM103.2,347.25L104.25,346.2L105.3,347.25L104.25,348.3zM106.2,347.25L107.25,346.2L108.3,347.25L107.25,348.3zM109.2,347.25L110.25,346.2L111.3,347.25L110.25,348.3zM112.2,347.25L113.25,346.2L114.3,347.25L113.25,348.3zM115.2,347.25L116.25,346.2L117.3,347.25L116.25,348.3zM98.7,348.75L99.75,347.7L100.8,348.75L99.75,349.8zM101.7,348.75L102.75,347.7L103.8,348.75L102.75,349.8zM104.7,348.75L105.75,347.7L106.8,348.75L105.75,349.8zM107.7,348.75L108.75,347.7L109.8,348.75L108.75,349.8zM110.7,348.75L111.75,347.7L112.8,348.75L111.75,349.8zM113.7,348.75L114.75,347.7L115.8,348.75L114.75,349.8zM100.2,350.25L101.25,349.2L102.3,350.25L101.25,351.3zM103.2,350.25L104.25,349.2L105.3,350.25L104.25,351.3zM106.2,350.25L107.25,349.2L108.3,350.25L107.25,351.3zM109.2,350.25L110.25,349.2L111.3,350.25L110.25,351.3zM112.2,350.25L113.25,349.2L114.3,350.25L113.25,351.3zM115.2,350.25L116.25,349.2L117.3,350.25L116.25,351.3zM98.7,351.75L99.75,350.7L100.8,351.75L99.75,352.8zM101.7,351.75L102.75,350.7L103.8,351.75L102.75,352.8zM104.7,351.75L105.75,350.7L106.8,351.75L105.75,352.8zM107.7,351.75L108.75,350.7L109.8,351.75L108.75,352.8zM110.7,351.75L111.75,350.7L112.8,351.75L111.75,352.8zM113.7,351.75L114.75,350.7L115.8,351.75L114.75,352.8zM100.2,353.25L101.25,352.2L102.3,353.25L101.25,354.3zM103.2,353.25L104.25,352.2L105.3,353.25L104.25,354.3zM106.2,353.25L107.25,352.2L108.3,353.25L107.25,354.3zM109.2,353.25L110.25,352.2L111.3,353.25L110.25,354.3zM112.2,353.25L113.25,352.2L114.3,353.25L113.25,354.3zM115.2,353.25L116.25,352.2L117.3,353.25L116.25,354.3zM98.7,354.75L99.75,353.7L100.8,354.75L99.75,355.8zM101.7,354.75L102.75,353.7L103.8,354.75L102.75,355.8zM104.7,354.75L105.75,353.7L106.8,354.75L105.75,355.8zM107.7,354.75L108.75,353.7L109.8,354.75L108.75,355.8zM110.7,354.75L111.75,353.7L112.8,354.75L111.75,355.8zM113.7,354.75L114.75,353.7L115.8,354.75L114.75,355.8zM100.2,356.25L101.25,355.2L102.3,356.25L101.25,357.3zM103.2,356.25L104.25,355.2L105.3,356.25L104.25,357.3zM106.2,356.25L107.25,355.2L108.3,356.25L107.25,357.3zM109.2,356.25L110.25,355.2L111.3,356.25L110.25,357.3zM112.2,356.25L113.25,355.2L114.3,356.25L113.25,357.3zM115.2,356.25L116.25,355.2L117.3,356.25L116.25,357.3zM98.7,357.75L99.75,356.7L100.8,357.75L99.75,358.8zM101.7,357.75L102.75,356.7L103.8,357.75L102.75,358.8zM104.7,357.75L105.75,356.7L106.8,357.75L105.75,358.8zM107.7,357.75L108.75,356.7L109.8,357.75L108.75,358.8zM110.7,357.75L111.75,356.7L112.8,357.75L111.75,358.8zM113.7,357.75L114.75,356.7L115.8,357.75L114.75,358.8zM100.2,359.25L101.25,358.2L102.3,359.25L101.25,360.3zM103.2,359.25L104.25,358.2L105.3,359.25L104.25,360.3zM106.2,359.25L107.25,358.2L108.3,359.25L107.25,360.3zM109.2,359.25L110.25,358.2L111.3,359.25L110.25,360.3zM112.2,359.25L113.25,358.2L114.3,359.25L113.25,360.3zM115.2,359.25L116.25,358.2L117.3,359.25L116.25,360.3zM98.7,360.75L99.75,359.7L100.8,360.75L99.75,361.8zM101.7,360.75L102.75,359.7L103.8,360.75L102.75,361.8zM104.7,360.75L105.75,359.7L106.8,360.75L105.75,361.8zM107.7,360.75L108.75,359.7L109.8,360.75L108.75,361.8zM110.7,360.75L111.75,359.7L112.8,360.75L111.75,361.8zM113.7,360.75L114.75,359.7L115.8,360.75L114.75,361.8zM100.2,362.25L101.25,361.2L102.3,362.25L101.25,363.3zM103.2,362.25L104.25,361.2L105.3,362.25L104.25,363.3zM106.2,362.25L107.25,361.2L108.3,362.25L107.25,363.3zM109.2,362.25L110.25,361.2L111.3,362.25L110.25,363.3zM112.2,362.25L113.25,361.2L114.3,362.25L113.25,363.3zM115.2,362.25L116.25,361.2L117.3,362.25L116.25,363.3zM98.7,363.75L99.75,362.7L100.8,363.75L99.75,364.8zM101.7,363.75L102.75,362.7L103.8,363.75L102.75,364.8zM104.7,363.75L105.75,362.7L106.8,363.75L105.75,364.8zM107.7,363.75L108.75,362.7L109.8,363.75L108.75,364.8zM110.7,363.75L111.75,362.7L112.8,363.75L111.75,364.8zM113.7,363.75L114.75,362.7L115.8,363.75L114.75,364.8zM100.2,365.25L101.25,364.2L102.3,365.25L101.25,366.3zM103.2,365.25L104.25,364.2L105.3,365.25L104.25,366.3zM106.2,365.25L107.25,364.2L108.3,365.25L107.25,366.3zM109.2,365.25L110.25,364.2L111.3,365.25L110.25,366.3zM112.2,365.25L113.25,364.2L114.3,365.25L113.25,366.3zM115.2,365.25L116.25,364.2L117.3,365.25L116.25,366.3zM98.7,366.75L99.75,365.7L100.8,366.75L99.75,367.8zM101.7,366.75L102.75,365.7L103.8,366.75L102.75,367.8zM104.7,366.75L105.75,365.7L106.8,366.75L105.75,367.8zM107.7,366.75L108.75,365.7L109.8,366.75L108.75,367.8zM110.7,366.75L111.75,365.7L112.8,366.75L111.75,367.8zM113.7,366.75L114.75,365.7L115.8,366.75L114.75,367.8zM100.2,368.25L101.25,367.2L102.3,368.25L101.25,369.3zM103.2,368.25L104.25,367.2L105.3,368.25L104.25,369.3zM106.2,368.25L107.25,367.2L108.3,368.25L107.25,369.3zM109.2,368.25L110.25,367.2L111.3,368.25L110.25,369.3zM112.2,368.25L113.25,367.2L114.3,368.25L113.25,369.3zM115.2,368.25L116.25,367.2L117.3,368.25L116.25,369.3zM98.7,369.75L99.75,368.7L100.8,369.75L99.75,370.8zM101.7,369.75L102.75,368.7L103.8,369.75L102.75,370.8zM104.7,369.75L105.75,368.7L106.8,369.75L105.75,370.8zM107.7,369.75L108.75,368.7L109.8,369.75L108.75,370.8zM110.7,369.75L111.75,368.7L112.8,369.75L111.75,370.8zM113.7,369.75L114.75,368.7L115.8,369.75L114.75,370.8zM100.2,371.25L101.25,370.2L102.3,371.25L101.25,372.3zM103.2,371.25L104.25,370.2L105.3,371.25L104.25,372.3zM106.2,371.25L107.25,370.2L108.3,371.25L107.25,372.3zM109.2,371.25L110.25,370.2L111.3,371.25L110.25,372.3zM112.2,371.25L113.25,370.2L114.3,371.25L113.25,372.3zM115.2,371.25L116.25,370.2L117.3,371.25L116.25,372.3zM98.7,372.75L99.75,371.7L100.8,372.75L99.75,373.8zM101.7,372.75L102.75,371.7L103.8,372.75L102.75,373.8zM104.7,372.75L105.75,371.7L106.8,372.75L105.75,373.8zM107.7,372.75L108.75,371.7L109.8,372.75L108.75,373.8zM110.7,372.75L111.75,371.7L112.8,372.75L111.75,373.8zM113.7,372.75L114.75,371.7L115.8,372.75L114.75,373.8zM100.2,374.25L101.25,373.2L102.3,374.25L101.25,375.3zM103.2,374.25L104.25,373.2L105.3,374.25L104.25,375.3zM106.2,374.25L107.25,373.2L108.3,374.25L107.25,375.3zM109.2,374.25L110.25,373.2L111.3,374.25L110.25,375.3zM112.2,374.25L113.25,373.2L114.3,374.25L113.25,375.3zM115.2,374.25L116.25,373.2L117.3,374.25L116.25,375.3zM98.7,375.75L99.75,374.7L100.8,375.75L99.75,376.8zM101.7,375.75L102.75,374.7L103.8,375.75L102.75,376.8zM104.7,375.75L105.75,374.7L106.8,375.75L105.75,376.8zM107.7,375.75L108.75,374.7L109.8,375.75L108.75,376.8zM110.7,375.75L111.75,374.7L112.8,375.75L111.75,376.8zM113.7,375.75L114.75,374.7L115.8,375.75L114.75,376.8zM100.2,377.25L101.25,376.2L102.3,377.25L101.25,378.3zM103.2,377.25L104.25,376.2L105.3,377.25L104.25,378.3zM106.2,377.25L107.25,376.2L108.3,377.25L107.25,378.3zM109.2,377.25L110.25,376.2L111.3,377.25L110.25,378.3zM112.2,377.25L113.25,376.2L114.3,377.25L113.25,378.3zM115.2,377.25L116.25,376.2L117.3,377.25L116.25,378.3zM98.7,378.75L99.75,377.7L100.8,378.75L99.75,379.8zM101.7,378.75L102.75,377.7L103.8,378.75L102.75,379.8zM104.7,378.75L105.75,377.7L106.8,378.75L105.75,379.8zM107.7,378.75L108.75,377.7L109.8,378.75L108.75,379.8zM110.7,378.75L111.75,377.7L112.8,378.75L111.75,379.8zM113.7,378.75L114.75,377.7L115.8,378.75L114.75,379.8zM100.2,380.25L101.25,379.2L102.3,380.25L101.25,381.3zM103.2,380.25L104.25,379.2L105.3,380.25L104.25,381.3zM106.2,380.25L107.25,379.2L108.3,380.25L107.25,381.3zM109.2,380.25L110.25,379.2L111.3,380.25L110.25,381.3zM112.2,380.25L113.25,379.2L114.3,380.25L113.25,381.3zM115.2,380.25L116.25,379.2L117.3,380.25L116.25,381.3zM98.7,381.75L99.75,380.7L100.8,381.75L99.75,382.8zM101.7,381.75L102.75,380.7L103.8,381.75L102.75,382.8zM104.7,381.75L105.75,380.7L106.8,381.75L105.75,382.8zM107.7,381.75L108.75,380.7L109.8,381.75L108.75,382.8zM110.7,381.75L111.75,380.7L112.8,381.75L111.75,382.8zM113.7,381.75L114.75,380.7L115.8,381.75L114.75,382.8zM100.2,383.25L101.25,382.2L102.3,383.25L101.25,384.3zM103.2,383.25L104.25,382.2L105.3,383.25L104.25,384.3zM106.2,383.25L107.25,382.2L108.3,383.25L107.25,384.3zM109.2,383.25L110.25,382.2L111.3,383.25L110.25,384.3zM112.2,383.25L113.25,382.2L114.3,383.25L113.25,384.3zM115.2,383.25L116.25,382.2L117.3,383.25L116.25,384.3zM98.7,384.75L99.75,383.7L100.8,384.75L99.75,385.8zM101.7,384.75L102.75,383.7L103.8,384.75L102.75,385.8zM104.7,384.75L105.75,383.7L106.8,384.75L105.75,385.8zM107.7,384.75L108.75,383.7L109.8,384.75L108.75,385.8zM110.7,384.75L111.75,383.7L112.8,384.75L111.75,385.8zM113.7,384.75L114.75,383.7L115.8,384.75L114.75,385.8zM100.2,386.25L101.25,385.2L102.3,386.25L101.25,387.3zM103.2,386.25L104.25,385.2L105.3,386.25L104.25,387.3zM106.2,386.25L107.25,385.2L108.3,386.25L107.25,387.3zM109.2,386.25L110.25,385.2L111.3,386.25L110.25,387.3zM112.2,386.25L113.25,385.2L114.3,386.25L113.25,387.3zM115.2,386.25L116.25,385.2L117.3,386.25L116.25,387.3zM98.7,387.75L99.75,386.7L100.8,387.75L99.75,388.8zM101.7,387.75L102.75,386.7L103.8,387.75L102.75,388.8zM104.7,387.75L105.75,386.7L106.8,387.75L105.75,388.8zM107.7,387.75L108.75,386.7L109.8,387.75L108.75,388.8zM110.7,387.75L111.75,386.7L112.8,387.75L111.75,388.8zM113.7,387.75L114.75,386.7L115.8,387.75L114.75,388.8zM100.2,389.25L101.25,388.2L102.3,389.25L101.25,390.3zM103.2,389.25L104.25,388.2L105.3,389.25L104.25,390.3zM106.2,389.25L107.25,388.2L108.3,389.25L107.25,390.3zM109.2,389.25L110.25,388.2L111.3,389.25L110.25,390.3zM112.2,389.25L113.25,388.2L114.3,389.25L113.25,390.3zM115.2,389.25L116.25,388.2L117.3,389.25L116.25,390.3zM98.7,390.75L99.75,389.7L100.8,390.75L99.75,391.8zM101.7,390.75L102.75,389.7L103.8,390.75L102.75,391.8zM104.7,390.75L105.75,389.7L106.8,390.75L105.75,391.8zM107.7,390.75L108.75,389.7L109.8,390.75L108.75,391.8zM110.7,390.75L111.75,389.7L112.8,390.75L111.75,391.8zM113.7,390.75L114.75,389.7L115.8,390.75L114.75,391.8zM100.2,392.25L101.25,391.2L102.3,392.25L101.25,393.3zM103.2,392.25L104.25,391.2L105.3,392.25L104.25,393.3zM106.2,392.25L107.25,391.2L108.3,392.25L107.25,393.3zM109.2,392.25L110.25,391.2L111.3,392.25L110.25,393.3zM112.2,392.25L113.25,391.2L114.3,392.25L113.25,393.3zM115.2,392.25L116.25,391.2L117.3,392.25L116.25,393.3zM98.7,393.75L99.75,392.7L100.8,393.75L99.75,394.8zM101.7,393.75L102.75,392.7L103.8,393.75L102.75,394.8zM104.7,393.75L105.75,392.7L106.8,393.75L105.75,394.8zM107.7,393.75L108.75,392.7L109.8,393.75L108.75,394.8zM110.7,393.75L111.75,392.7L112.8,393.75L111.75,394.8zM113.7,393.75L114.75,392.7L115.8,393.75L114.75,394.8zM100.2,395.25L101.25,394.2L102.3,395.25L101.25,396.3zM103.2,395.25L104.25,394.2L105.3,395.25L104.25,396.3zM106.2,395.25L107.25,394.2L108.3,395.25L107.25,396.3zM109.2,395.25L110.25,394.2L111.3,395.25L110.25,396.3zM112.2,395.25L113.25,394.2L114.3,395.25L113.25,396.3zM115.2,395.25L116.25,394.2L117.3,395.25L116.25,396.3zM98.7,396.75L99.75,395.7L100.8,396.75L99.75,397.8zM101.7,396.75L102.75,395.7L103.8,396.75L102.75,397.8zM104.7,396.75L105.75,395.7L106.8,396.75L105.75,397.8zM107.7,396.75L108.75,395.7L109.8,396.75L108.75,397.8zM110.7,396.75L111.75,395.7L112.8,396.75L111.75,397.8zM113.7,396.75L114.75,395.7L115.8,396.75L114.75,397.8zM100.2,398.25L101.25,397.2L102.3,398.25L101.25,399.3zM103.2,398.25L104.25,397.2L105.3,398.25L104.25,399.3zM106.2,398.25L107.25,397.2L108.3,398.25L107.25,399.3zM109.2,398.25L110.25,397.2L111.3,398.25L110.25,399.3zM112.2,398.25L113.25,397.2L114.3,398.25L113.25,399.3zM115.2,398.25L116.25,397.2L117.3,398.25L116.25,399.3zM98.7,399.75L99.75,398.7L100.8,399.75L99.75,400.8zM101.7,399.75L102.75,398.7L103.8,399.75L102.75,400.8zM104.7,399.75L105.75,398.7L106.8,399.75L105.75,400.8zM107.7,399.75L108.75,398.7L109.8,399.75L108.75,400.8zM110.7,399.75L111.75,398.7L112.8,399.75L111.75,400.8zM113.7,399.75L114.75,398.7L115.8,399.75L114.75,400.8zM100.2,401.25L101.25,400.2L102.3,401.25L101.25,402.3zM103.2,401.25L104.25,400.2L105.3,401.25L104.25,402.3zM106.2,401.25L107.25,400.2L108.3,401.25L107.25,402.3zM109.2,401.25L110.25,400.2L111.3,401.25L110.25,402.3zM112.2,401.25L113.25,400.2L114.3,401.25L113.25,402.3zM115.2,401.25L116.25,400.2L117.3,401.25L116.25,402.3zM98.7,402.75L99.75,401.7L100.8,402.75L99.75,403.8zM101.7,402.75L102.75,401.7L103.8,402.75L102.75,403.8zM104.7,402.75L105.75,401.7L106.8,402.75L105.75,403.8zM107.7,402.75L108.75,401.7L109.8,402.75L108.75,403.8zM110.7,402.75L111.75,401.7L112.8,402.75L111.75,403.8zM113.7,402.75L114.75,401.7L115.8,402.75L114.75,403.8zM100.2,404.25L101.25,403.2L102.3,404.25L101.25,405.3zM103.2,404.25L104.25,403.2L105.3,404.25L104.25,405.3zM106.2,404.25L107.25,403.2L108.3,404.25L107.25,405.3zM109.2,404.25L110.25,403.2L111.3,404.25L110.25,405.3zM112.2,404.25L113.25,403.2L114.3,404.25L113.25,405.3zM115.2,404.25L116.25,403.2L117.3,404.25L116.25,405.3zM98.7,405.75L99.75,404.7L100.8,405.75L99.75,406.8zM101.7,405.75L102.75,404.7L103.8,405.75L102.75,406.8zM104.7,405.75L105.75,404.7L106.8,405.75L105.75,406.8zM107.7,405.75L108.75,404.7L109.8,405.75L108.75,406.8zM110.7,405.75L111.75,404.7L112.8,405.75L111.75,406.8zM113.7,405.75L114.75,404.7L115.8,405.75L114.75,406.8zM100.2,407.25L101.25,406.2L102.3,407.25L101.25,408.3zM103.2,407.25L104.25,406.2L105.3,407.25L104.25,408.3zM106.2,407.25L107.25,406.2L108.3,407.25L107.25,408.3zM109.2,407.25L110.25,406.2L111.3,407.25L110.25,408.3zM112.2,407.25L113.25,406.2L114.3,407.25L113.25,408.3zM115.2,407.25L116.25,406.2L117.3,407.25L116.25,408.3zM98.7,408.75L99.75,407.7L100.8,408.75L99.75,409.8zM101.7,408.75L102.75,407.7L103.8,408.75L102.75,409.8zM104.7,408.75L105.75,407.7L106.8,408.75L105.75,409.8zM107.7,408.75L108.75,407.7L109.8,408.75L108.75,409.8zM110.7,408.75L111.75,407.7L112.8,408.75L111.75,409.8zM113.7,408.75L114.75,407.7L115.8,408.75L114.75,409.8zM100.2,410.25L101.25,409.2L102.3,410.25L101.25,411.3zM103.2,410.25L104.25,409.2L105.3,410.25L104.25,411.3zM106.2,410.25L107.25,409.2L108.3,410.25L107.25,411.3zM109.2,410.25L110.25,409.2L111.3,410.25L110.25,411.3zM112.2,410.25L113.25,409.2L114.3,410.25L113.25,411.3zM115.2,410.25L116.25,409.2L117.3,410.25L116.25,411.3zM98.7,411.75L99.75,410.7L100.8,411.75L99.75,412.8zM101.7,411.75L102.75,410.7L103.8,411.75L102.75,412.8zM104.7,411.75L105.75,410.7L106.8,411.75L105.75,412.8zM107.7,411.75L108.75,410.7L109.8,411.75L108.75,412.8zM110.7,411.75L111.75,410.7L112.8,411.75L111.75,412.8zM113.7,411.75L114.75,410.7L115.8,411.75L114.75,412.8zM100.2,413.25L101.25,412.2L102.3,413.25L101.25,414.3zM103.2,413.25L104.25,412.2L105.3,413.25L104.25,414.3zM106.2,413.25L107.25,412.2L108.3,413.25L107.25,414.3zM109.2,413.25L110.25,412.2L111.3,413.25L110.25,414.3zM112.2,413.25L113.25,412.2L114.3,413.25L113.25,414.3zM115.2,413.25L116.25,412.2L117.3,413.25L116.25,414.3zM98.7,414.75L99.75,413.7L100.8,414.75L99.75,415.8zM101.7,414.75L102.75,413.7L103.8,414.75L102.75,415.8zM104.7,414.75L105.75,413.7L106.8,414.75L105.75,415.8zM107.7,414.75L108.75,413.7L109.8,414.75L108.75,415.8zM110.7,414.75L111.75,413.7L112.8,414.75L111.75,415.8zM113.7,414.75L114.75,413.7L115.8,414.75L114.75,415.8zM100.2,416.25L101.25,415.2L102.3,416.25L101.25,417.3zM103.2,416.25L104.25,415.2L105.3,416.25L104.25,417.3zM106.2,416.25L107.25,415.2L108.3,416.25L107.25,417.3zM109.2,416.25L110.25,415.2L111.3,416.25L110.25,417.3zM112.2,416.25L113.25,415.2L114.3,416.25L113.25,417.3zM115.2,416.25L116.25,415.2L117.3,416.25L116.25,417.3zM98.7,417.75L99.75,416.7L100.8,417.75L99.75,418.8zM101.7,417.75L102.75,416.7L103.8,417.75L102.75,418.8zM104.7,417.75L105.75,416.7L106.8,417.75L105.75,418.8zM107.7,417.75L108.75,416.7L109.8,417.75L108.75,418.8zM110.7,417.75L111.75,416.7L112.8,417.75L111.75,418.8zM113.7,417.75L114.75,416.7L115.8,417.75L114.75,418.8zM100.2,419.25L101.25,418.2L102.3,419.25L101.25,420.3zM103.2,419.25L104.25,418.2L105.3,419.25L104.25,420.3zM106.2,419.25L107.25,418.2L108.3,419.25L107.25,420.3zM109.2,419.25L110.25,418.2L111.3,419.25L110.25,420.3zM112.2,419.25L113.25,418.2L114.3,419.25L113.25,420.3zM115.2,419.25L116.25,418.2L117.3,419.25L116.25,420.3zM98.7,420.75L99.75,419.7L100.8,420.75L99.75,421.8zM101.7,420.75L102.75,419.7L103.8,420.75L102.75,421.8zM104.7,420.75L105.75,419.7L106.8,420.75L105.75,421.8zM107.7,420.75L108.75,419.7L109.8,420.75L108.75,421.8zM110.7,420.75L111.75,419.7L112.8,420.75L111.75,421.8zM113.7,420.75L114.75,419.7L115.8,420.75L114.75,421.8zM100.2,422.25L101.25,421.2L102.3,422.25L101.25,423.3zM103.2,422.25L104.25,421.2L105.3,422.25L104.25,423.3zM106.2,422.25L107.25,421.2L108.3,422.25L107.25,423.3zM109.2,422.25L110.25,421.2L111.3,422.25L110.25,423.3zM112.2,422.25L113.25,421.2L114.3,422.25L113.25,423.3zM115.2,422.25L116.25,421.2L117.3,422.25L116.25,423.3z" fill="#fff"/>
<clipPath id="c38"><rect x="104.97" y="432" width="8.9" height="15.7"/></clipPath>
<rect x="104.97" y="432" width="8.9" height="15.7" fill="#0a0a0a"/>
<path clip-path="url(#c38)" d="M98.7,426.75L99.75,425.7L100.8,426.75L99.75,427.8zM101.7,426.75L102.75,425.7L103.8,426.75L102.75,427.8zM104.7,426.75L105.75,425.7L106.8,426.75L105.75,427.8zM107.7,426.75L108.75,425.7L109.8,426.75L108.75,427.8zM110.7,426.75L111.75,425.7L112.8,426.75L111.75,427.8zM113.7,426.75L114.75,425.7L115.8,426.75L114.75,427.8zM100.2,428.25L101.25,427.2L102.3,428.25L101.25,429.3zM103.2,428.25L104.25,427.2L105.3,428.25L104.25,429.3zM106.2,428.25L107.25,427.2L108.3,428.25L107.25,429.3zM109.2,428.25L110.25,427.2L111.3,428.25L110.25,429.3zM112.2,428.25L113.25,427.2L114.3,428.25L113.25,429.3zM115.2,428.25L116.25,427.2L117.3,428.25L116.25,429.3zM98.7,429.75L99.75,428.7L100.8,429.75L99.75,430.8zM101.7,429.75L102.75,428.7L103.8,429.75L102.75,430.8zM104.7,429.75L105.75,428.7L106.8,429.75L105.75,430.8zM107.7,429.75L108.75,428.7L109.8,429.75L108.75,430.8zM110.7,429.75L111.75,428.7L112.8,429.75L111.75,430.8zM113.7,429.75L114.75,428.7L115.8,429.75L114.75,430.8zM100.2,431.25L101.25,430.2L102.3,431.25L101.25,432.3zM103.2,431.25L104.25,430.2L105.3,431.25L104.25,432.3zM106.2,431.25L107.25,430.2L108.3,431.25L107.25,432.3zM109.2,431.25L110.25,430.2L111.3,431.25L110.25,432.3zM112.2,431.25L113.25,430.2L114.3,431.25L113.25,432.3zM115.2,431.25L116.25,430.2L117.3,431.25L116.25,432.3zM98.7,432.75L99.75,431.7L100.8,432.75L99.75,433.8zM101.7,432.75L102.75,431.7L103.8,432.75L102.75,433.8zM104.7,432.75L105.75,431.7L106.8,432.75L105.75,433.8zM107.7,432.75L108.75,431.7L109.8,432.75L108.75,433.8zM110.7,432.75L111.75,431.7L112.8,432.75L111.75,433.8zM113.7,432.75L114.75,431.7L115.8,432.75L114.75,433.8zM100.2,434.25L101.25,433.2L102.3,434.25L101.25,435.3zM103.2,434.25L104.25,433.2L105.3,434.25L104.25,435.3zM106.2,434.25L107.25,433.2L108.3,434.25L107.25,435.3zM109.2,434.25L110.25,433.2L111.3,434.25L110.25,435.3zM112.2,434.25L113.25,433.2L114.3,434.25L113.25,435.3zM115.2,434.25L116.25,433.2L117.3,434.25L116.25,435.3zM98.7,435.75L99.75,434.7L100.8,435.75L99.75,436.8zM101.7,435.75L102.75,434.7L103.8,435.75L102.75,436.8zM104.7,435.75L105.75,434.7L106.8,435.75L105.75,436.8zM107.7,435.75L108.75,434.7L109.8,435.75L108.75,436.8zM110.7,435.75L111.75,434.7L112.8,435.75L111.75,436.8zM113.7,435.75L114.75,434.7L115.8,435.75L114.75,436.8zM100.2,437.25L101.25,436.2L102.3,437.25L101.25,438.3zM103.2,437.25L104.25,436.2L105.3,437.25L104.25,438.3zM106.2,437.25L107.25,436.2L108.3,437.25L107.25,438.3zM109.2,437.25L110.25,436.2L111.3,437.25L110.25,438.3zM112.2,437.25L113.25,436.2L114.3,437.25L113.25,438.3zM115.2,437.25L116.25,436.2L117.3,437.25L116.25,438.3zM98.7,438.75L99.75,437.7L100.8,438.75L99.75,439.8zM101.7,438.75L102.75,437.7L103.8,438.75L102.75,439.8zM104.7,438.75L105.75,437.7L106.8,438.75L105.75,439.8zM107.7,438.75L108.75,437.7L109.8,438.75L108.75,439.8zM110.7,438.75L111.75,437.7L112.8,438.75L111.75,439.8zM113.7,438.75L114.75,437.7L115.8,438.75L114.75,439.8zM100.2,440.25L101.25,439.2L102.3,440.25L101.25,441.3zM103.2,440.25L104.25,439.2L105.3,440.25L104.25,441.3zM106.2,440.25L107.25,439.2L108.3,440.25L107.25,441.3zM109.2,440.25L110.25,439.2L111.3,440.25L110.25,441.3zM112.2,440.25L113.25,439.2L114.3,440.25L113.25,441.3zM115.2,440.25L116.25,439.2L117.3,440.25L116.25,441.3zM98.7,441.75L99.75,440.7L100.8,441.75L99.75,442.8zM101.7,441.75L102.75,440.7L103.8,441.75L102.75,442.8zM104.7,441.75L105.75,440.7L106.8,441.75L105.75,442.8zM107.7,441.75L108.75,440.7L109.8,441.75L108.75,442.8zM110.7,441.75L111.75,440.7L112.8,441.75L111.75,442.8zM113.7,441.75L114.75,440.7L115.8,441.75L114.75,442.8zM100.2,443.25L101.25,442.2L102.3,443.25L101.25,444.3zM103.2,443.25L104.25,442.2L105.3,443.25L104.25,444.3zM106.2,443.25L107.25,442.2L108.3,443.25L107.25,444.3zM109.2,443.25L110.25,442.2L111.3,443.25L110.25,444.3zM112.2,443.25L113.25,442.2L114.3,443.25L113.25,444.3zM115.2,443.25L116.25,442.2L117.3,443.25L116.25,444.3zM98.7,444.75L99.75,443.7L100.8,444.75L99.75,445.8zM101.7,444.75L102.75,443.7L103.8,444.75L102.75,445.8zM104.7,444.75L105.75,443.7L106.8,444.75L105.75,445.8zM107.7,444.75L108.75,443.7L109.8,444.75L108.75,445.8zM110.7,444.75L111.75,443.7L112.8,444.75L111.75,445.8zM113.7,444.75L114.75,443.7L115.8,444.75L114.75,445.8zM100.2,446.25L101.25,445.2L102.3,446.25L101.25,447.3zM103.2,446.25L104.25,445.2L105.3,446.25L104.25,447.3zM106.2,446.25L107.25,445.2L108.3,446.25L107.25,447.3zM109.2,446.25L110.25,445.2L111.3,446.25L110.25,447.3zM112.2,446.25L113.25,445.2L114.3,446.25L113.25,447.3zM115.2,446.25L116.25,445.2L117.3,446.25L116.25,447.3zM98.7,447.75L99.75,446.7L100.8,447.75L99.75,448.8zM101.7,447.75L102.75,446.7L103.8,447.75L102.75,448.8zM104.7,447.75L105.75,446.7L106.8,447.75L105.75,448.8zM107.7,447.75L108.75,446.7L109.8,447.75L108.75,448.8zM110.7,447.75L111.75,446.7L112.8,447.75L111.75,448.8zM113.7,447.75L114.75,446.7L115.8,447.75L114.75,448.8zM100.2,449.25L101.25,448.2L102.3,449.25L101.25,450.3zM103.2,449.25L104.25,448.2L105.3,449.25L104.25,450.3zM106.2,449.25L107.25,448.2L108.3,449.25L107.25,450.3zM109.2,449.25L110.25,448.2L111.3,449.25L110.25,450.3zM112.2,449.25L113.25,448.2L114.3,449.25L113.25,450.3zM115.2,449.25L116.25,448.2L117.3,449.25L116.25,450.3z" fill="#fff"/>
<path d="M104.97,420.3 V339.2 H113.87 V420.3 M104.97,432 V447.7 M113.87,432 V447.7" stroke="#222" stroke-width="1" fill="none"/>
<path d="M109.42,338.7 V337.6 M106.72,337.6 H112.12" stroke="#000" stroke-width="1.7" fill="none"/>
<clipPath id="c39"><rect x="128.34" y="379.3" width="8.9" height="41"/></clipPath>
<path clip-path="url(#c39)" d="M127.34,377.56L138.24,366.66M127.34,380.86L138.24,369.96M127.34,384.16L138.24,373.26M127.34,387.46L138.24,376.56M127.34,390.76L138.24,379.86M127.34,394.06L138.24,383.16M127.34,397.36L138.24,386.46M127.34,400.66L138.24,389.76M127.34,403.96L138.24,393.06M127.34,407.26L138.24,396.36M127.34,410.56L138.24,399.66M127.34,413.86L138.24,402.96M127.34,417.16L138.24,406.26M127.34,420.46L138.24,409.56M127.34,423.76L138.24,412.86M127.34,427.06L138.24,416.16M127.34,430.36L138.24,419.46" stroke="#1c1c1c" stroke-width="1.01" fill="none"/>
<clipPath id="c40"><rect x="128.34" y="432" width="8.9" height="15.7"/></clipPath>
<path clip-path="url(#c40)" d="M127.34,430.36L138.24,419.46M127.34,433.66L138.24,422.76M127.34,436.96L138.24,426.06M127.34,440.26L138.24,429.36M127.34,443.56L138.24,432.66M127.34,446.86L138.24,435.96M127.34,450.16L138.24,439.26M127.34,453.46L138.24,442.56M127.34,456.76L138.24,445.86M127.34,460.06L138.24,449.16" stroke="#1c1c1c" stroke-width="1.01" fill="none"/>
<path d="M128.34,420.3 V379.3 H137.24 V420.3 M128.34,432 V447.7 M137.24,432 V447.7" stroke="#222" stroke-width="1" fill="none"/>
<path d="M132.79,378.8 V364.4 M130.09,364.4 H135.49" stroke="#000" stroke-width="1.3" fill="none"/>
<clipPath id="c41"><rect x="142.34" y="339.2" width="8.9" height="81.1"/></clipPath>
<path clip-path="url(#c41)" d="M141.34,337.16L152.24,326.26M141.34,340.46L152.24,329.56M141.34,343.76L152.24,332.86M141.34,347.06L152.24,336.16M141.34,350.36L152.24,339.46M141.34,353.66L152.24,342.76M141.34,356.96L152.24,346.06M141.34,360.26L152.24,349.36M141.34,363.56L152.24,352.66M141.34,366.86L152.24,355.96M141.34,370.16L152.24,359.26M141.34,373.46L152.24,362.56M141.34,376.76L152.24,365.86M141.34,380.06L152.24,369.16M141.34,383.36L152.24,372.46M141.34,386.66L152.24,375.76M141.34,389.96L152.24,379.06M141.34,393.26L152.24,382.36M141.34,396.56L152.24,385.66M141.34,399.86L152.24,388.96M141.34,403.16L152.24,392.26M141.34,406.46L152.24,395.56M141.34,409.76L152.24,398.86M141.34,413.06L152.24,402.16M141.34,416.36L152.24,405.46M141.34,419.66L152.24,408.76M141.34,422.96L152.24,412.06M141.34,426.26L152.24,415.36M141.34,429.56L152.24,418.66M141.34,432.86L152.24,421.96" stroke="#1c1c1c" stroke-width="1.01" fill="none"/>
<clipPath id="c42"><rect x="142.34" y="432" width="8.9" height="15.7"/></clipPath>
<path clip-path="url(#c42)" d="M141.34,432.86L152.24,421.96M141.34,436.16L152.24,425.26M141.34,439.46L152.24,428.56M141.34,442.76L152.24,431.86M141.34,446.06L152.24,435.16M141.34,449.36L152.24,438.46M141.34,452.66L152.24,441.76M141.34,455.96L152.24,445.06M141.34,459.26L152.24,448.36" stroke="#1c1c1c" stroke-width="1.01" fill="none"/>
<path d="M142.34,420.3 V339.2 H151.24 V420.3 M142.34,432 V447.7 M151.24,432 V447.7" stroke="#222" stroke-width="1" fill="none"/>
<path d="M146.79,338.7 V337.6 M144.09,337.6 H149.49" stroke="#000" stroke-width="1.7" fill="none"/>
<clipPath id="c43"><rect x="165.71" y="382.5" width="8.9" height="37.8"/></clipPath>
<path clip-path="url(#c43)" d="M164.71,369.31L175.61,380.21M164.71,372.61L175.61,383.51M164.71,375.91L175.61,386.81M164.71,379.21L175.61,390.11M164.71,382.51L175.61,393.41M164.71,385.81L175.61,396.71M164.71,389.11L175.61,400.01M164.71,392.41L175.61,403.31M164.71,395.71L175.61,406.61M164.71,399.01L175.61,409.91M164.71,402.31L175.61,413.21M164.71,405.61L175.61,416.51M164.71,408.91L175.61,419.81M164.71,412.21L175.61,423.11M164.71,415.51L175.61,426.41M164.71,418.81L175.61,429.71M164.71,422.11L175.61,433.01" stroke="#1c1c1c" stroke-width="1.01" fill="none"/>
<clipPath id="c44"><rect x="165.71" y="432" width="8.9" height="15.7"/></clipPath>
<path clip-path="url(#c44)" d="M164.71,418.81L175.61,429.71M164.71,422.11L175.61,433.01M164.71,425.41L175.61,436.31M164.71,428.71L175.61,439.61M164.71,432.01L175.61,442.91M164.71,435.31L175.61,446.21M164.71,438.61L175.61,449.51M164.71,441.91L175.61,452.81M164.71,445.21L175.61,456.11M164.71,448.51L175.61,459.41" stroke="#1c1c1c" stroke-width="1.01" fill="none"/>
<path d="M165.71,420.3 V382.5 H174.61 V420.3 M165.71,432 V447.7 M174.61,432 V447.7" stroke="#222" stroke-width="1" fill="none"/>
<path d="M170.16,382 V373.5 M167.46,373.5 H172.86" stroke="#000" stroke-width="1.3" fill="none"/>
<clipPath id="c45"><rect x="179.71" y="338.7" width="8.9" height="81.6"/></clipPath>
<path clip-path="url(#c45)" d="M178.71,327.21L189.61,338.11M178.71,330.51L189.61,341.41M178.71,333.81L189.61,344.71M178.71,337.11L189.61,348.01M178.71,340.41L189.61,351.31M178.71,343.71L189.61,354.61M178.71,347.01L189.61,357.91M178.71,350.31L189.61,361.21M178.71,353.61L189.61,364.51M178.71,356.91L189.61,367.81M178.71,360.21L189.61,371.11M178.71,363.51L189.61,374.41M178.71,366.81L189.61,377.71M178.71,370.11L189.61,381.01M178.71,373.41L189.61,384.31M178.71,376.71L189.61,387.61M178.71,380.01L189.61,390.91M178.71,383.31L189.61,394.21M178.71,386.61L189.61,397.51M178.71,389.91L189.61,400.81M178.71,393.21L189.61,404.11M178.71,396.51L189.61,407.41M178.71,399.81L189.61,410.71M178.71,403.11L189.61,414.01M178.71,406.41L189.61,417.31M178.71,409.71L189.61,420.61M178.71,413.01L189.61,423.91M178.71,416.31L189.61,427.21M178.71,419.61L189.61,430.51" stroke="#1c1c1c" stroke-width="1.01" fill="none"/>
<clipPath id="c46"><rect x="179.71" y="432" width="8.9" height="15.7"/></clipPath>
<path clip-path="url(#c46)" d="M178.71,419.61L189.61,430.51M178.71,422.91L189.61,433.81M178.71,426.21L189.61,437.11M178.71,429.51L189.61,440.41M178.71,432.81L189.61,443.71M178.71,436.11L189.61,447.01M178.71,439.41L189.61,450.31M178.71,442.71L189.61,453.61M178.71,446.01L189.61,456.91M178.71,449.31L189.61,460.21" stroke="#1c1c1c" stroke-width="1.01" fill="none"/>
<path d="M179.71,420.3 V338.7 H188.61 V420.3 M179.71,432 V447.7 M188.61,432 V447.7" stroke="#222" stroke-width="1" fill="none"/>
<path d="M184.16,338.2 V337.2 M181.46,337.2 H186.86" stroke="#000" stroke-width="1.7" fill="none"/>
<clipPath id="c47"><rect x="203.08" y="368.8" width="8.9" height="51.5"/></clipPath>
<path clip-path="url(#c47)" d="M202.08,364.84H212.98M202.08,368.8H212.98M202.08,372.76H212.98M202.08,376.72H212.98M202.08,380.68H212.98M202.08,384.64H212.98M202.08,388.6H212.98M202.08,392.56H212.98M202.08,396.52H212.98M202.08,400.48H212.98M202.08,404.44H212.98M202.08,408.4H212.98M202.08,412.36H212.98M202.08,416.32H212.98M202.08,420.28H212.98M202.08,424.24H212.98" stroke="#111" stroke-width="1.01" fill="none"/>
<clipPath id="c48"><rect x="203.08" y="432" width="8.9" height="15.7"/></clipPath>
<path clip-path="url(#c48)" d="M202.08,424.24H212.98M202.08,428.2H212.98M202.08,432.16H212.98M202.08,436.12H212.98M202.08,440.08H212.98M202.08,444.04H212.98M202.08,448H212.98" stroke="#111" stroke-width="1.01" fill="none"/>
<path d="M203.08,420.3 V368.8 H211.98 V420.3 M203.08,432 V447.7 M211.98,432 V447.7" stroke="#222" stroke-width="1" fill="none"/>
<path d="M207.53,368.3 V359.4 M204.83,359.4 H210.23" stroke="#000" stroke-width="1.3" fill="none"/>
<clipPath id="c49"><rect x="217.08" y="336.5" width="8.9" height="83.8"/></clipPath>
<path clip-path="url(#c49)" d="M216.08,332.54H226.98M216.08,336.5H226.98M216.08,340.46H226.98M216.08,344.42H226.98M216.08,348.38H226.98M216.08,352.34H226.98M216.08,356.3H226.98M216.08,360.26H226.98M216.08,364.22H226.98M216.08,368.18H226.98M216.08,372.14H226.98M216.08,376.1H226.98M216.08,380.06H226.98M216.08,384.02H226.98M216.08,387.98H226.98M216.08,391.94H226.98M216.08,395.9H226.98M216.08,399.86H226.98M216.08,403.82H226.98M216.08,407.78H226.98M216.08,411.74H226.98M216.08,415.7H226.98M216.08,419.66H226.98M216.08,423.62H226.98" stroke="#111" stroke-width="1.01" fill="none"/>
<clipPath id="c50"><rect x="217.08" y="432" width="8.9" height="15.7"/></clipPath>
<path clip-path="url(#c50)" d="M216.08,427.58H226.98M216.08,431.54H226.98M216.08,435.5H226.98M216.08,439.46H226.98M216.08,443.42H226.98M216.08,447.38H226.98M216.08,451.34H226.98" stroke="#111" stroke-width="1.01" fill="none"/>
<path d="M217.08,420.3 V336.5 H225.98 V420.3 M217.08,432 V447.7 M225.98,432 V447.7" stroke="#222" stroke-width="1" fill="none"/>
<path d="M221.53,336 V334.9 M218.83,334.9 H224.23" stroke="#000" stroke-width="1.7" fill="none"/>
<clipPath id="c51"><rect x="240.45" y="367.7" width="8.9" height="52.6"/></clipPath>
<path clip-path="url(#c51)" d="M239.45,362.9H250.35M239.45,367.7H250.35M239.45,372.5H250.35M239.45,377.3H250.35M239.45,382.1H250.35M239.45,386.9H250.35M239.45,391.7H250.35M239.45,396.5H250.35M239.45,401.3H250.35M239.45,406.1H250.35M239.45,410.9H250.35M239.45,415.7H250.35M239.45,420.5H250.35M235.3,366.7V421.3M240.1,366.7V421.3M244.9,366.7V421.3M249.7,366.7V421.3" stroke="#111" stroke-width="1.01" fill="none"/>
<clipPath id="c52"><rect x="240.45" y="432" width="8.9" height="15.7"/></clipPath>
<path clip-path="url(#c52)" d="M239.45,425.3H250.35M239.45,430.1H250.35M239.45,434.9H250.35M239.45,439.7H250.35M239.45,444.5H250.35M239.45,449.3H250.35M235.3,431V448.7M240.1,431V448.7M244.9,431V448.7M249.7,431V448.7" stroke="#111" stroke-width="1.01" fill="none"/>
<path d="M240.45,420.3 V367.7 H249.35 V420.3 M240.45,432 V447.7 M249.35,432 V447.7" stroke="#222" stroke-width="1" fill="none"/>
<path d="M244.9,367.2 V356.9 M242.2,356.9 H247.6" stroke="#000" stroke-width="1.3" fill="none"/>
<clipPath id="c53"><rect x="254.45" y="334.2" width="8.9" height="86.1"/></clipPath>
<path clip-path="url(#c53)" d="M253.45,329.4H264.35M253.45,334.2H264.35M253.45,339H264.35M253.45,343.8H264.35M253.45,348.6H264.35M253.45,353.4H264.35M253.45,358.2H264.35M253.45,363H264.35M253.45,367.8H264.35M253.45,372.6H264.35M253.45,377.4H264.35M253.45,382.2H264.35M253.45,387H264.35M253.45,391.8H264.35M253.45,396.6H264.35M253.45,401.4H264.35M253.45,406.2H264.35M253.45,411H264.35M253.45,415.8H264.35M253.45,420.6H264.35M249.3,333.2V421.3M254.1,333.2V421.3M258.9,333.2V421.3M263.7,333.2V421.3" stroke="#111" stroke-width="1.01" fill="none"/>
<clipPath id="c54"><rect x="254.45" y="432" width="8.9" height="15.7"/></clipPath>
<path clip-path="url(#c54)" d="M253.45,425.4H264.35M253.45,430.2H264.35M253.45,435H264.35M253.45,439.8H264.35M253.45,444.6H264.35M253.45,449.4H264.35M249.3,431V448.7M254.1,431V448.7M258.9,431V448.7M263.7,431V448.7" stroke="#111" stroke-width="1.01" fill="none"/>
<path d="M254.45,420.3 V334.2 H263.35 V420.3 M254.45,432 V447.7 M263.35,432 V447.7" stroke="#222" stroke-width="1" fill="none"/>
<path d="M258.9,333.7 V332.6 M256.2,332.6 H261.6" stroke="#000" stroke-width="1.7" fill="none"/>
<g stroke="#000" stroke-width="1.4" fill="none">
<path d="M46.8,289.5 V420.3 M42.2,420.3 H50"/>
<path d="M46.8,432 V447.7 M42.2,432 H50"/>
<path d="M41.8,447.7 H270.55"/>
<path d="M42.1,326.3 H46.8 M42.1,373.3 H46.8 M42.1,420.3 H46.8 M44.1,303 H46.8 M44.1,349.8 H46.8 M44.1,396.8 H46.8 M42.1,436.5 H46.8 M42.1,442.1 H46.8 M42.1,447.7 H46.8 M44.1,439.3 H46.8 M44.1,444.9 H46.8 "/>
<path d="M57.9,447.7 V452.8 M71.9,447.7 V452.8 M95.27,447.7 V452.8 M109.27,447.7 V452.8 M132.64,447.7 V452.8 M146.64,447.7 V452.8 M170.01,447.7 V452.8 M184.01,447.7 V452.8 M207.38,447.7 V452.8 M221.38,447.7 V452.8 M244.75,447.7 V452.8 M258.75,447.7 V452.8 "/>
</g>
<g font-family="'Liberation Sans', Arial, sans-serif" font-weight="bold" font-size="11" text-anchor="end" letter-spacing="-0.4" fill="#000" stroke="#000" stroke-width="0.25">
<text x="41.2" y="330">15.2</text>
<text x="41.2" y="377">14.8</text>
<text x="41.2" y="424">14.4</text>
<text x="41.2" y="440.2">10</text>
<text x="41.2" y="445.8">5</text>
<text x="41.2" y="451.4">0</text>
</g>
<text transform="translate(14.2,369) rotate(-90)" text-anchor="middle" font-family="'Liberation Sans', Arial, sans-serif" font-weight="bold" font-size="12.6" fill="#000">Hb (g/dL)</text>
<g font-family="'Liberation Sans', Arial, sans-serif" font-weight="bold" font-size="11.6" text-anchor="end" fill="#000" stroke="#000" stroke-width="0.3">
<text transform="translate(61.95,464.2) rotate(-45)">AA Men</text>
<text transform="translate(75.95,464.2) rotate(-45)">White Men</text>
<text transform="translate(99.32,464.2) rotate(-45)">AA Men</text>
<text transform="translate(113.32,464.2) rotate(-45)">White Men</text>
<text transform="translate(136.69,464.2) rotate(-45)">AA Men</text>
<text transform="translate(150.69,464.2) rotate(-45)">White Men</text>
<text transform="translate(174.06,464.2) rotate(-45)">AA Men</text>
<text transform="translate(188.06,464.2) rotate(-45)">White Men</text>
<text transform="translate(211.43,464.2) rotate(-45)">AA Men</text>
<text transform="translate(225.43,464.2) rotate(-45)">White Men</text>
<text transform="translate(248.8,464.2) rotate(-45)">AA Men</text>
<text transform="translate(262.8,464.2) rotate(-45)">White Men</text>
</g>
<clipPath id="c55"><rect x="285.7" y="297" width="21.9" height="8.2"/></clipPath>
<path clip-path="url(#c55)" d="M280.7,293h1v1h-1zM283.8,293h1v1h-1zM286.9,293h1v1h-1zM290,293h1v1h-1zM293.1,293h1v1h-1zM296.2,293h1v1h-1zM299.3,293h1v1h-1zM302.4,293h1v1h-1zM305.5,293h1v1h-1zM308.6,293h1v1h-1zM282.25,296.1h1v1h-1zM285.35,296.1h1v1h-1zM288.45,296.1h1v1h-1zM291.55,296.1h1v1h-1zM294.65,296.1h1v1h-1zM297.75,296.1h1v1h-1zM300.85,296.1h1v1h-1zM303.95,296.1h1v1h-1zM307.05,296.1h1v1h-1zM310.15,296.1h1v1h-1zM280.7,299.2h1v1h-1zM283.8,299.2h1v1h-1zM286.9,299.2h1v1h-1zM290,299.2h1v1h-1zM293.1,299.2h1v1h-1zM296.2,299.2h1v1h-1zM299.3,299.2h1v1h-1zM302.4,299.2h1v1h-1zM305.5,299.2h1v1h-1zM308.6,299.2h1v1h-1zM282.25,302.3h1v1h-1zM285.35,302.3h1v1h-1zM288.45,302.3h1v1h-1zM291.55,302.3h1v1h-1zM294.65,302.3h1v1h-1zM297.75,302.3h1v1h-1zM300.85,302.3h1v1h-1zM303.95,302.3h1v1h-1zM307.05,302.3h1v1h-1zM310.15,302.3h1v1h-1zM280.7,305.4h1v1h-1zM283.8,305.4h1v1h-1zM286.9,305.4h1v1h-1zM290,305.4h1v1h-1zM293.1,305.4h1v1h-1zM296.2,305.4h1v1h-1zM299.3,305.4h1v1h-1zM302.4,305.4h1v1h-1zM305.5,305.4h1v1h-1zM308.6,305.4h1v1h-1z" fill="#6a6a6a"/>
<rect x="285.7" y="297" width="21.9" height="8.2" fill="none" stroke="#222" stroke-width="1"/>
<text x="310.8" y="305.2" font-family="'Liberation Sans', Arial, sans-serif" font-size="12.22" fill="#000" stroke="#000" stroke-width="0.2">All</text>
<clipPath id="c56"><rect x="285.7" y="314.8" width="21.9" height="8.2"/></clipPath>
<rect x="285.7" y="314.8" width="21.9" height="8.2" fill="#0a0a0a"/>
<path clip-path="url(#c56)" d="M278.7,309.75L279.75,308.7L280.8,309.75L279.75,310.8zM281.7,309.75L282.75,308.7L283.8,309.75L282.75,310.8zM284.7,309.75L285.75,308.7L286.8,309.75L285.75,310.8zM287.7,309.75L288.75,308.7L289.8,309.75L288.75,310.8zM290.7,309.75L291.75,308.7L292.8,309.75L291.75,310.8zM293.7,309.75L294.75,308.7L295.8,309.75L294.75,310.8zM296.7,309.75L297.75,308.7L298.8,309.75L297.75,310.8zM299.7,309.75L300.75,308.7L301.8,309.75L300.75,310.8zM302.7,309.75L303.75,308.7L304.8,309.75L303.75,310.8zM305.7,309.75L306.75,308.7L307.8,309.75L306.75,310.8zM308.7,309.75L309.75,308.7L310.8,309.75L309.75,310.8zM280.2,311.25L281.25,310.2L282.3,311.25L281.25,312.3zM283.2,311.25L284.25,310.2L285.3,311.25L284.25,312.3zM286.2,311.25L287.25,310.2L288.3,311.25L287.25,312.3zM289.2,311.25L290.25,310.2L291.3,311.25L290.25,312.3zM292.2,311.25L293.25,310.2L294.3,311.25L293.25,312.3zM295.2,311.25L296.25,310.2L297.3,311.25L296.25,312.3zM298.2,311.25L299.25,310.2L300.3,311.25L299.25,312.3zM301.2,311.25L302.25,310.2L303.3,311.25L302.25,312.3zM304.2,311.25L305.25,310.2L306.3,311.25L305.25,312.3zM307.2,311.25L308.25,310.2L309.3,311.25L308.25,312.3zM278.7,312.75L279.75,311.7L280.8,312.75L279.75,313.8zM281.7,312.75L282.75,311.7L283.8,312.75L282.75,313.8zM284.7,312.75L285.75,311.7L286.8,312.75L285.75,313.8zM287.7,312.75L288.75,311.7L289.8,312.75L288.75,313.8zM290.7,312.75L291.75,311.7L292.8,312.75L291.75,313.8zM293.7,312.75L294.75,311.7L295.8,312.75L294.75,313.8zM296.7,312.75L297.75,311.7L298.8,312.75L297.75,313.8zM299.7,312.75L300.75,311.7L301.8,312.75L300.75,313.8zM302.7,312.75L303.75,311.7L304.8,312.75L303.75,313.8zM305.7,312.75L306.75,311.7L307.8,312.75L306.75,313.8zM308.7,312.75L309.75,311.7L310.8,312.75L309.75,313.8zM280.2,314.25L281.25,313.2L282.3,314.25L281.25,315.3zM283.2,314.25L284.25,313.2L285.3,314.25L284.25,315.3zM286.2,314.25L287.25,313.2L288.3,314.25L287.25,315.3zM289.2,314.25L290.25,313.2L291.3,314.25L290.25,315.3zM292.2,314.25L293.25,313.2L294.3,314.25L293.25,315.3zM295.2,314.25L296.25,313.2L297.3,314.25L296.25,315.3zM298.2,314.25L299.25,313.2L300.3,314.25L299.25,315.3zM301.2,314.25L302.25,313.2L303.3,314.25L302.25,315.3zM304.2,314.25L305.25,313.2L306.3,314.25L305.25,315.3zM307.2,314.25L308.25,313.2L309.3,314.25L308.25,315.3zM278.7,315.75L279.75,314.7L280.8,315.75L279.75,316.8zM281.7,315.75L282.75,314.7L283.8,315.75L282.75,316.8zM284.7,315.75L285.75,314.7L286.8,315.75L285.75,316.8zM287.7,315.75L288.75,314.7L289.8,315.75L288.75,316.8zM290.7,315.75L291.75,314.7L292.8,315.75L291.75,316.8zM293.7,315.75L294.75,314.7L295.8,315.75L294.75,316.8zM296.7,315.75L297.75,314.7L298.8,315.75L297.75,316.8zM299.7,315.75L300.75,314.7L301.8,315.75L300.75,316.8zM302.7,315.75L303.75,314.7L304.8,315.75L303.75,316.8zM305.7,315.75L306.75,314.7L307.8,315.75L306.75,316.8zM308.7,315.75L309.75,314.7L310.8,315.75L309.75,316.8zM280.2,317.25L281.25,316.2L282.3,317.25L281.25,318.3zM283.2,317.25L284.25,316.2L285.3,317.25L284.25,318.3zM286.2,317.25L287.25,316.2L288.3,317.25L287.25,318.3zM289.2,317.25L290.25,316.2L291.3,317.25L290.25,318.3zM292.2,317.25L293.25,316.2L294.3,317.25L293.25,318.3zM295.2,317.25L296.25,316.2L297.3,317.25L296.25,318.3zM298.2,317.25L299.25,316.2L300.3,317.25L299.25,318.3zM301.2,317.25L302.25,316.2L303.3,317.25L302.25,318.3zM304.2,317.25L305.25,316.2L306.3,317.25L305.25,318.3zM307.2,317.25L308.25,316.2L309.3,317.25L308.25,318.3zM278.7,318.75L279.75,317.7L280.8,318.75L279.75,319.8zM281.7,318.75L282.75,317.7L283.8,318.75L282.75,319.8zM284.7,318.75L285.75,317.7L286.8,318.75L285.75,319.8zM287.7,318.75L288.75,317.7L289.8,318.75L288.75,319.8zM290.7,318.75L291.75,317.7L292.8,318.75L291.75,319.8zM293.7,318.75L294.75,317.7L295.8,318.75L294.75,319.8zM296.7,318.75L297.75,317.7L298.8,318.75L297.75,319.8zM299.7,318.75L300.75,317.7L301.8,318.75L300.75,319.8zM302.7,318.75L303.75,317.7L304.8,318.75L303.75,319.8zM305.7,318.75L306.75,317.7L307.8,318.75L306.75,319.8zM308.7,318.75L309.75,317.7L310.8,318.75L309.75,319.8zM280.2,320.25L281.25,319.2L282.3,320.25L281.25,321.3zM283.2,320.25L284.25,319.2L285.3,320.25L284.25,321.3zM286.2,320.25L287.25,319.2L288.3,320.25L287.25,321.3zM289.2,320.25L290.25,319.2L291.3,320.25L290.25,321.3zM292.2,320.25L293.25,319.2L294.3,320.25L293.25,321.3zM295.2,320.25L296.25,319.2L297.3,320.25L296.25,321.3zM298.2,320.25L299.25,319.2L300.3,320.25L299.25,321.3zM301.2,320.25L302.25,319.2L303.3,320.25L302.25,321.3zM304.2,320.25L305.25,319.2L306.3,320.25L305.25,321.3zM307.2,320.25L308.25,319.2L309.3,320.25L308.25,321.3zM278.7,321.75L279.75,320.7L280.8,321.75L279.75,322.8zM281.7,321.75L282.75,320.7L283.8,321.75L282.75,322.8zM284.7,321.75L285.75,320.7L286.8,321.75L285.75,322.8zM287.7,321.75L288.75,320.7L289.8,321.75L288.75,322.8zM290.7,321.75L291.75,320.7L292.8,321.75L291.75,322.8zM293.7,321.75L294.75,320.7L295.8,321.75L294.75,322.8zM296.7,321.75L297.75,320.7L298.8,321.75L297.75,322.8zM299.7,321.75L300.75,320.7L301.8,321.75L300.75,322.8zM302.7,321.75L303.75,320.7L304.8,321.75L303.75,322.8zM305.7,321.75L306.75,320.7L307.8,321.75L306.75,322.8zM308.7,321.75L309.75,320.7L310.8,321.75L309.75,322.8zM280.2,323.25L281.25,322.2L282.3,323.25L281.25,324.3zM283.2,323.25L284.25,322.2L285.3,323.25L284.25,324.3zM286.2,323.25L287.25,322.2L288.3,323.25L287.25,324.3zM289.2,323.25L290.25,322.2L291.3,323.25L290.25,324.3zM292.2,323.25L293.25,322.2L294.3,323.25L293.25,324.3zM295.2,323.25L296.25,322.2L297.3,323.25L296.25,324.3zM298.2,323.25L299.25,322.2L300.3,323.25L299.25,324.3zM301.2,323.25L302.25,322.2L303.3,323.25L302.25,324.3zM304.2,323.25L305.25,322.2L306.3,323.25L305.25,324.3zM307.2,323.25L308.25,322.2L309.3,323.25L308.25,324.3zM278.7,324.75L279.75,323.7L280.8,324.75L279.75,325.8zM281.7,324.75L282.75,323.7L283.8,324.75L282.75,325.8zM284.7,324.75L285.75,323.7L286.8,324.75L285.75,325.8zM287.7,324.75L288.75,323.7L289.8,324.75L288.75,325.8zM290.7,324.75L291.75,323.7L292.8,324.75L291.75,325.8zM293.7,324.75L294.75,323.7L295.8,324.75L294.75,325.8zM296.7,324.75L297.75,323.7L298.8,324.75L297.75,325.8zM299.7,324.75L300.75,323.7L301.8,324.75L300.75,325.8zM302.7,324.75L303.75,323.7L304.8,324.75L303.75,325.8zM305.7,324.75L306.75,323.7L307.8,324.75L306.75,325.8zM308.7,324.75L309.75,323.7L310.8,324.75L309.75,325.8z" fill="#fff"/>
<rect x="285.7" y="314.8" width="21.9" height="8.2" fill="none" stroke="#222" stroke-width="1"/>
<text x="310.8" y="323" font-family="'Liberation Sans', Arial, sans-serif" font-size="12.22" fill="#000" stroke="#000" stroke-width="0.2">minus (Fe def)</text>
<clipPath id="c57"><rect x="285.7" y="333.5" width="21.9" height="8.2"/></clipPath>
<path clip-path="url(#c57)" d="M284.7,332.4L308.6,308.5M284.7,335.7L308.6,311.8M284.7,339L308.6,315.1M284.7,342.3L308.6,318.4M284.7,345.6L308.6,321.7M284.7,348.9L308.6,325M284.7,352.2L308.6,328.3M284.7,355.5L308.6,331.6M284.7,358.8L308.6,334.9M284.7,362.1L308.6,338.2M284.7,365.4L308.6,341.5" stroke="#1c1c1c" stroke-width="1.01" fill="none"/>
<rect x="285.7" y="333.5" width="21.9" height="8.2" fill="none" stroke="#222" stroke-width="1"/>
<text x="310.8" y="341.7" font-family="'Liberation Sans', Arial, sans-serif" font-size="12.22" fill="#000" stroke="#000" stroke-width="0.2">minus (Fe def &amp; Thal)</text>
<clipPath id="c58"><rect x="285.7" y="351.2" width="21.9" height="8.2"/></clipPath>
<path clip-path="url(#c58)" d="M284.7,327.6L308.6,351.5M284.7,330.9L308.6,354.8M284.7,334.2L308.6,358.1M284.7,337.5L308.6,361.4M284.7,340.8L308.6,364.7M284.7,344.1L308.6,368M284.7,347.4L308.6,371.3M284.7,350.7L308.6,374.6M284.7,354L308.6,377.9M284.7,357.3L308.6,381.2M284.7,360.6L308.6,384.5" stroke="#1c1c1c" stroke-width="1.01" fill="none"/>
<rect x="285.7" y="351.2" width="21.9" height="8.2" fill="none" stroke="#222" stroke-width="1"/>
<text x="310.8" y="359.9" font-family="'Liberation Sans', Arial, sans-serif" font-size="12.22" fill="#000" stroke="#000" stroke-width="0.2">minus (Fe def, Thal &amp; S)</text>
<clipPath id="c59"><rect x="285.7" y="369.3" width="21.9" height="8.2"/></clipPath>
<path clip-path="url(#c59)" d="M284.7,361.52H308.6M284.7,365.48H308.6M284.7,369.44H308.6M284.7,373.4H308.6M284.7,377.36H308.6M284.7,381.32H308.6" stroke="#111" stroke-width="1.01" fill="none"/>
<rect x="285.7" y="369.3" width="21.9" height="8.2" fill="none" stroke="#222" stroke-width="1"/>
<text x="310.8" y="377.5" font-family="'Liberation Sans', Arial, sans-serif" font-size="12.22" fill="#000" stroke="#000" stroke-width="0.2">Minus (Fe def, Thal, S, &amp; Creat)</text>
<clipPath id="c60"><rect x="286.6" y="389.4" width="21.9" height="8.2"/></clipPath>
<path clip-path="url(#c60)" d="M285.6,384.74H309.5M285.6,389.12H309.5M285.6,393.5H309.5M285.6,397.88H309.5M282.22,388.4V398.6M286.6,388.4V398.6M290.98,388.4V398.6M295.36,388.4V398.6M299.74,388.4V398.6M304.12,388.4V398.6M308.5,388.4V398.6" stroke="#111" stroke-width="1.01" fill="none"/>
<rect x="286.6" y="389.4" width="21.9" height="8.2" fill="none" stroke="#222" stroke-width="1"/>
<text x="311.7" y="397.6" font-family="'Liberation Sans', Arial, sans-serif" font-size="12.22" fill="#000" stroke="#000" stroke-width="0.2">Minus (Fe def, Thal, S, Creat &amp; ACE-I)</text>
</svg></body></html>
